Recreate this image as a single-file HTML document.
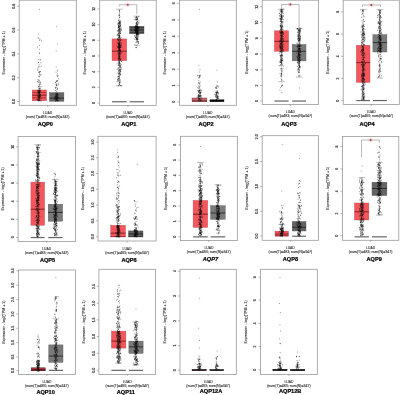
<!DOCTYPE html>
<html><head><meta charset="utf-8"><style>
html,body{margin:0;padding:0;background:#fff;width:400px;height:395px;overflow:hidden}
svg{display:block;will-change:transform;filter:blur(0.3px)}
text{font-family:"Liberation Sans",sans-serif;fill:#222}
.tl{font-size:3.5px;text-anchor:middle;fill:#444;stroke:#444;stroke-width:0.2px}
.yt{font-size:3.6px;text-anchor:middle;fill:#333;stroke:#333;stroke-width:0.1px}
.xl{font-size:3.4px;text-anchor:middle;fill:#333;stroke:#333;stroke-width:0.1px}
.xl2{font-size:3.55px;text-anchor:middle;fill:#333;stroke:#333;stroke-width:0.12px}
.nm{font-size:5.6px;font-weight:bold;text-anchor:middle;fill:#000;stroke:#000;stroke-width:0.22px}
</style></head><body>
<svg width="400" height="395" viewBox="0 0 400 395">
<rect width="400" height="395" fill="#fff"/>
<g><rect x="19.2" y="0.2" width="57.1" height="105.1" fill="none" stroke="#999" stroke-width="0.8"/><line x1="17" y1="6.3" x2="19.2" y2="6.3" stroke="#777" stroke-width="0.5"/><text transform="translate(14.9,6.3) rotate(-90)" class="tl">0.8</text><line x1="17" y1="30.1" x2="19.2" y2="30.1" stroke="#777" stroke-width="0.5"/><text transform="translate(14.9,30.1) rotate(-90)" class="tl">0.6</text><line x1="17" y1="53.9" x2="19.2" y2="53.9" stroke="#777" stroke-width="0.5"/><text transform="translate(14.9,53.9) rotate(-90)" class="tl">0.4</text><line x1="17" y1="77.7" x2="19.2" y2="77.7" stroke="#777" stroke-width="0.5"/><text transform="translate(14.9,77.7) rotate(-90)" class="tl">0.2</text><line x1="17" y1="101.5" x2="19.2" y2="101.5" stroke="#777" stroke-width="0.5"/><text transform="translate(14.9,101.5) rotate(-90)" class="tl">0.0</text><text transform="translate(5.4,52.75) rotate(-90)" class="yt">Expression - log<tspan font-size="2.6" dy="0.8">2</tspan><tspan dy="-0.8">(TPM + 1)</tspan></text><line x1="47.75" y1="105.3" x2="47.75" y2="106.9" stroke="#777" stroke-width="0.5"/><text x="47.75" y="113.8" class="xl">LUAD</text><text x="47.75" y="117.8" class="xl2">(num(T)=483; num(N)=347)</text><text x="45.3" y="125.7" class="nm">AQP0</text><rect x="32.2" y="90" width="14.3" height="10.8" fill="#f5565b" stroke="#b8505a" stroke-width="0.4"/><line x1="32.2" y1="95.2" x2="46.5" y2="95.2" stroke="#6a1414" stroke-width="0.8"/><line x1="32.2" y1="92.6" x2="46.5" y2="92.6" stroke="#6a1414" stroke-width="0.7" stroke-opacity="0.7"/><line x1="32.2" y1="97.8" x2="46.5" y2="97.8" stroke="#6a1414" stroke-width="0.7" stroke-opacity="0.7"/><rect x="49.5" y="92.6" width="14.4" height="8.7" fill="#666" stroke="#555" stroke-width="0.4"/><line x1="49.5" y1="98.2" x2="63.9" y2="98.2" stroke="#1e1e1e" stroke-width="0.8"/><g fill="none" stroke="#111" stroke-opacity="0.6" stroke-width="0.9" stroke-linecap="round"><path d="M38.3 90.8h0M38.2 98.0h0M41.1 101.0h0M38.4 76.3h0M39.1 96.8h0M39.6 100.0h0M39.0 98.5h0M39.7 85.7h0M39.4 89.2h0M38.7 82.3h0M38.5 101.0h0M40.9 62.9h0M37.1 94.1h0M39.9 94.9h0M37.1 99.7h0M39.2 97.8h0M39.9 91.0h0M37.9 90.8h0M38.8 91.3h0M39.1 100.5h0M38.8 86.7h0M40.2 96.7h0M39.8 94.4h0M39.4 93.5h0M38.8 91.0h0M39.6 71.8h0M38.0 67.9h0M38.9 99.9h0M38.1 87.0h0M38.6 99.7h0M38.9 38.5h0M39.2 84.5h0M37.6 96.3h0M39.0 95.6h0M39.4 100.5h0M38.3 93.1h0M38.7 92.1h0M38.2 93.2h0M39.9 98.8h0M40.0 84.1h0M39.4 100.1h0M40.1 90.8h0M39.9 92.8h0M39.5 90.7h0M38.6 95.1h0M41.1 86.6h0M39.5 93.0h0M39.3 92.1h0M39.0 98.3h0M37.8 69.2h0M37.9 92.3h0M39.7 66.7h0M39.9 98.1h0M41.1 74.5h0M39.7 76.8h0"/><path d="M40.4 94.3h0M41.4 40.9h0M39.3 91.9h0M40.0 94.8h0M38.9 97.1h0M37.4 95.0h0M40.0 99.8h0M40.4 94.9h0M40.1 89.1h0M39.5 53.4h0M40.0 39.4h0M38.5 96.9h0M38.6 93.9h0M39.5 97.7h0M37.6 46.9h0M38.9 98.1h0M39.6 94.1h0M39.4 92.1h0M39.4 76.1h0M38.3 34.1h0M40.0 90.8h0M38.5 93.1h0M37.1 100.0h0M38.2 96.4h0M40.3 96.4h0M39.3 92.3h0M38.4 97.0h0M39.4 86.8h0M39.4 88.5h0M40.5 59.7h0M41.2 66.5h0M39.5 96.9h0M38.4 88.8h0M38.6 62.5h0M39.6 95.1h0M39.7 49.3h0M40.5 97.1h0M40.0 90.4h0M38.5 72.7h0M39.7 96.3h0M39.4 88.4h0M39.8 94.6h0M41.4 98.3h0M38.0 90.5h0M40.6 71.4h0M40.0 95.3h0M39.1 64.7h0M39.4 100.0h0M39.3 97.0h0M38.0 79.6h0M38.6 66.7h0M37.9 70.1h0M37.9 98.4h0M37.6 81.4h0"/><path d="M40.0 91.1h0M38.2 91.0h0M37.5 90.9h0M38.8 91.1h0M38.1 37.8h0M40.0 84.4h0M38.5 80.3h0M40.5 91.7h0M37.8 100.1h0M39.7 93.0h0M39.4 73.1h0M39.5 91.5h0M40.1 87.1h0M39.9 96.3h0M39.0 93.3h0M40.7 88.7h0M39.0 96.6h0M39.3 95.3h0M39.2 71.4h0M39.1 81.7h0M39.5 80.3h0M40.1 96.2h0M39.0 89.8h0M38.5 86.3h0M37.8 82.0h0M39.4 91.3h0M39.6 52.9h0M40.2 83.2h0M39.3 92.8h0M37.5 99.6h0M39.3 97.8h0M38.8 95.6h0M39.8 90.7h0M39.7 40.6h0M39.6 100.7h0M40.3 82.0h0M38.8 95.5h0M40.5 75.2h0M38.2 59.6h0M38.6 99.7h0M40.7 100.8h0M39.7 74.5h0M40.1 82.6h0M39.6 94.8h0M38.2 93.0h0M39.6 72.4h0M38.4 62.3h0M38.9 91.7h0M39.0 92.5h0M40.3 71.8h0M38.6 100.8h0M39.5 45.4h0M39.9 59.7h0M39.4 9.4h0"/><path d="M56.9 100.6h0M57.6 100.6h0M57.0 85.5h0M55.6 90.5h0M56.2 96.8h0M54.4 98.8h0M56.4 91.4h0M57.4 80.5h0M57.1 94.0h0M55.7 87.7h0M55.8 101.0h0M57.6 89.7h0M58.0 94.9h0M56.5 95.1h0M57.0 81.3h0M56.1 84.9h0M55.1 96.2h0M57.2 70.0h0M56.6 99.4h0M57.4 95.4h0M57.0 94.3h0M57.3 76.9h0M55.7 96.2h0M56.7 97.8h0M57.2 44.0h0M56.7 94.3h0M56.9 89.7h0M56.2 96.6h0M56.8 96.7h0M56.9 99.4h0M57.5 88.5h0M55.8 95.1h0M58.1 101.0h0M56.2 95.3h0M56.2 81.1h0M56.2 67.1h0M55.6 99.1h0M56.4 98.7h0M57.5 93.6h0"/><path d="M57.7 97.8h0M55.1 99.5h0M57.1 96.8h0M57.5 97.2h0M56.6 87.1h0M57.5 98.6h0M54.4 97.4h0M57.2 99.5h0M55.7 88.2h0M55.6 82.5h0M56.2 51.0h0M57.0 100.4h0M56.5 95.9h0M59.0 99.0h0M56.1 94.3h0M57.7 98.0h0M56.9 98.9h0M54.4 97.8h0M56.2 95.7h0M58.4 84.8h0M55.4 93.6h0M56.2 96.5h0M56.9 94.6h0M58.1 75.7h0M58.7 83.2h0M57.6 88.1h0M56.9 98.6h0M57.4 76.2h0M57.3 96.0h0M56.8 84.5h0M55.7 98.0h0M56.2 84.8h0M56.6 85.5h0M58.0 93.9h0M57.0 75.3h0M58.8 97.9h0M57.8 94.6h0M55.7 98.3h0M56.6 97.5h0"/><path d="M56.8 83.9h0M58.1 97.5h0M56.7 100.8h0M57.4 80.9h0M56.4 81.6h0M58.0 100.8h0M56.4 100.4h0M55.8 100.2h0M58.0 95.1h0M55.9 99.2h0M57.2 93.1h0M56.8 93.3h0M55.6 97.1h0M57.7 74.0h0M56.4 81.1h0M56.2 96.1h0M56.0 97.2h0M56.8 97.0h0M57.8 100.5h0M57.0 98.6h0M57.6 96.6h0M56.0 72.1h0M55.3 97.7h0M56.3 94.9h0M56.2 98.9h0M57.1 100.2h0M57.8 71.1h0M58.6 78.9h0M56.7 26.8h0M57.5 98.8h0M57.8 100.0h0M57.5 96.4h0M55.9 93.1h0M56.0 98.2h0M55.9 96.7h0M58.6 97.1h0M55.6 82.8h0M55.6 101.0h0M55.3 87.3h0"/></g></g><g><rect x="99.7" y="0.2" width="56.5" height="105.2" fill="none" stroke="#999" stroke-width="0.8"/><line x1="97.5" y1="8.9" x2="99.7" y2="8.9" stroke="#777" stroke-width="0.5"/><text transform="translate(95.4,8.9) rotate(-90)" class="tl">12</text><line x1="97.5" y1="24.6" x2="99.7" y2="24.6" stroke="#777" stroke-width="0.5"/><text transform="translate(95.4,24.6) rotate(-90)" class="tl">10</text><line x1="97.5" y1="40.3" x2="99.7" y2="40.3" stroke="#777" stroke-width="0.5"/><text transform="translate(95.4,40.3) rotate(-90)" class="tl">8</text><line x1="97.5" y1="56" x2="99.7" y2="56" stroke="#777" stroke-width="0.5"/><text transform="translate(95.4,56) rotate(-90)" class="tl">6</text><line x1="97.5" y1="71.7" x2="99.7" y2="71.7" stroke="#777" stroke-width="0.5"/><text transform="translate(95.4,71.7) rotate(-90)" class="tl">4</text><line x1="97.5" y1="87.4" x2="99.7" y2="87.4" stroke="#777" stroke-width="0.5"/><text transform="translate(95.4,87.4) rotate(-90)" class="tl">2</text><line x1="97.5" y1="103.1" x2="99.7" y2="103.1" stroke="#777" stroke-width="0.5"/><text transform="translate(95.4,103.1) rotate(-90)" class="tl">0</text><text transform="translate(85.9,52.8) rotate(-90)" class="yt">Expression - log<tspan font-size="2.6" dy="0.8">2</tspan><tspan dy="-0.8">(TPM + 1)</tspan></text><line x1="127.95" y1="105.4" x2="127.95" y2="107" stroke="#777" stroke-width="0.5"/><text x="127.95" y="113.9" class="xl">LUAD</text><text x="127.95" y="117.9" class="xl2">(num(T)=483; num(N)=347)</text><text x="128.85" y="125.7" class="nm">AQP1</text><line x1="119.35" y1="9.2" x2="119.35" y2="38.9" stroke="#888" stroke-width="0.35"/><line x1="116.05" y1="9.2" x2="122.65" y2="9.2" stroke="#666" stroke-width="0.45"/><line x1="119.35" y1="60.7" x2="119.35" y2="85.7" stroke="#888" stroke-width="0.35"/><line x1="116.05" y1="85.7" x2="122.65" y2="85.7" stroke="#666" stroke-width="0.45"/><rect x="112" y="101.15" width="14.7" height="1.2" fill="#666"/><rect x="112" y="38.9" width="14.7" height="21.8" fill="#f5565b" stroke="#b8505a" stroke-width="0.4"/><line x1="112" y1="51.2" x2="126.7" y2="51.2" stroke="#6a1414" stroke-width="0.8"/><line x1="136.8" y1="16.2" x2="136.8" y2="26.2" stroke="#888" stroke-width="0.35"/><line x1="133.5" y1="16.2" x2="140.1" y2="16.2" stroke="#666" stroke-width="0.45"/><rect x="129.6" y="101.15" width="14.4" height="1.2" fill="#666"/><rect x="129.6" y="26.2" width="14.4" height="7.6" fill="#606060" stroke="#555" stroke-width="0.4"/><line x1="129.6" y1="30" x2="144" y2="30" stroke="#1e1e1e" stroke-width="0.8"/><line x1="129.6" y1="27.6" x2="144" y2="27.6" stroke="#1e1e1e" stroke-width="0.7" stroke-opacity="0.7"/><line x1="129.6" y1="32.4" x2="144" y2="32.4" stroke="#1e1e1e" stroke-width="0.7" stroke-opacity="0.7"/><g fill="none" stroke="#111" stroke-opacity="0.6" stroke-width="0.9" stroke-linecap="round"><path d="M118.7 25.9h0M119.8 37.2h0M118.7 44.6h0M118.6 43.7h0M119.0 21.4h0M118.7 51.0h0M118.4 43.3h0M120.0 47.0h0M117.7 31.6h0M120.6 47.4h0M120.1 72.1h0M119.3 46.2h0M120.1 33.5h0M119.6 43.2h0M118.5 31.2h0M119.1 53.7h0M118.1 33.9h0M118.6 47.7h0M118.8 43.0h0M119.5 41.2h0M120.0 73.1h0M119.5 49.8h0M119.1 50.1h0M119.2 83.3h0M119.4 15.5h0M120.0 73.1h0M119.1 55.0h0M119.6 23.0h0M120.3 85.3h0M119.4 10.9h0M119.9 44.2h0M119.5 54.3h0M119.4 55.6h0M120.3 38.2h0M119.0 32.4h0M121.3 30.7h0M118.8 44.2h0M118.6 23.5h0M119.6 51.8h0M119.5 75.4h0M119.5 17.5h0M120.3 45.1h0M121.1 46.9h0M119.2 37.2h0M117.8 24.6h0M119.4 29.2h0M120.0 35.3h0M118.2 50.5h0M119.8 29.7h0M120.3 33.6h0M118.8 31.9h0M118.3 85.5h0M118.8 58.5h0M118.9 33.6h0M121.2 29.8h0M119.2 50.6h0M117.0 64.0h0M118.8 78.9h0M119.1 44.3h0M118.7 70.3h0M119.2 10.2h0M118.5 27.6h0M118.6 65.0h0M119.3 33.6h0M118.1 78.7h0M117.2 69.3h0M119.8 50.0h0M121.2 85.6h0M121.2 58.1h0M120.2 20.3h0M119.5 36.1h0M120.3 51.5h0M120.2 65.4h0M119.0 25.1h0M120.7 32.2h0M119.5 48.8h0M119.5 64.6h0M119.1 47.6h0M119.7 77.4h0M119.9 47.0h0M119.4 49.2h0M120.1 29.8h0M119.1 26.5h0M121.1 45.5h0M118.6 73.9h0M119.4 21.7h0M119.2 35.9h0M118.8 25.8h0M118.3 71.5h0M119.3 70.1h0M119.3 52.9h0M118.9 46.5h0M119.6 38.0h0M119.9 45.8h0M119.9 61.3h0M119.5 54.6h0M117.7 39.7h0M117.0 45.6h0M117.6 35.0h0M119.7 65.6h0M120.4 21.7h0M118.6 60.9h0M119.9 12.1h0M120.5 69.3h0M119.4 66.9h0M119.8 22.4h0M120.7 26.1h0M120.9 82.0h0M118.7 27.8h0M117.9 23.4h0M119.9 53.8h0M120.0 58.4h0M119.9 48.8h0M119.2 26.3h0M118.7 58.6h0M118.9 50.8h0M120.3 74.6h0M119.6 58.4h0M120.1 46.6h0M119.7 22.8h0M118.8 39.9h0M121.6 39.9h0M120.5 22.7h0M120.6 46.9h0M119.5 73.1h0M120.5 69.1h0M119.4 22.9h0M118.9 72.3h0M117.0 35.0h0M119.5 44.5h0M120.3 56.0h0M120.2 60.3h0M119.6 56.6h0M118.5 58.5h0M118.0 54.4h0M117.9 73.1h0M118.9 23.8h0M118.9 76.6h0M118.3 20.2h0M118.7 44.9h0"/><path d="M118.4 59.4h0M119.2 43.5h0M120.0 53.6h0M120.4 24.5h0M120.1 49.5h0M120.1 23.3h0M118.7 52.8h0M120.6 85.7h0M120.3 28.1h0M120.4 59.6h0M120.9 21.8h0M119.4 28.9h0M119.2 32.5h0M119.6 14.0h0M118.7 40.3h0M119.6 47.9h0M119.7 45.3h0M119.9 22.4h0M119.2 62.2h0M118.5 77.0h0M120.3 67.3h0M119.4 21.6h0M120.1 47.7h0M118.4 43.9h0M117.7 47.4h0M119.9 49.9h0M118.3 56.0h0M119.4 56.4h0M120.3 40.6h0M120.2 70.9h0M119.6 35.7h0M119.0 70.2h0M117.6 52.0h0M119.3 84.3h0M119.5 47.4h0M119.0 44.8h0M119.4 52.9h0M118.8 26.7h0M119.5 48.3h0M117.4 30.4h0M120.3 70.2h0M118.7 37.4h0M118.9 43.5h0M120.8 74.3h0M120.0 59.9h0M119.0 42.7h0M118.7 37.0h0M119.5 58.1h0M120.7 71.1h0M119.0 65.4h0M120.5 30.0h0M119.9 63.6h0M120.0 71.8h0M118.5 61.0h0M118.1 65.4h0M118.4 78.4h0M120.6 65.6h0M120.3 40.0h0M120.4 59.5h0M118.9 39.5h0M121.6 61.3h0M120.1 45.6h0M120.1 56.9h0M120.7 66.9h0M119.1 41.3h0M118.9 50.0h0M118.7 46.6h0M118.7 23.8h0M118.7 48.1h0M119.9 54.2h0M121.2 46.1h0M119.1 46.1h0M119.5 84.5h0M119.8 37.1h0M119.7 81.0h0M119.4 70.0h0M121.2 27.7h0M118.1 40.2h0M120.8 42.6h0M119.0 55.8h0M119.7 35.2h0M119.6 15.4h0M119.9 47.6h0M120.6 23.7h0M119.3 35.6h0M118.4 64.1h0M120.4 31.3h0M117.4 47.0h0M118.5 53.6h0M120.0 74.2h0M119.5 23.4h0M118.2 80.9h0M119.4 52.4h0M118.5 33.8h0M118.7 53.1h0M119.4 38.8h0M119.6 62.6h0M119.3 76.6h0M119.3 36.2h0M121.1 53.7h0M121.1 29.2h0M119.7 22.3h0M119.2 63.6h0M120.3 41.0h0M119.0 45.6h0M120.0 28.9h0M117.4 39.4h0M118.9 27.3h0M119.0 27.5h0M118.0 79.6h0M118.7 46.6h0M119.5 65.8h0M119.8 62.9h0M120.3 54.7h0M119.0 23.0h0M119.9 58.6h0M120.3 51.0h0M119.5 35.1h0M119.6 60.0h0M120.6 47.6h0M120.1 40.3h0M119.3 55.8h0M118.3 33.9h0M119.1 57.1h0M117.0 42.2h0M119.5 50.2h0M117.2 81.6h0M120.5 75.0h0M120.0 16.9h0M119.0 28.8h0M119.0 78.9h0M120.6 33.2h0M119.4 44.8h0M119.4 57.3h0M119.2 26.4h0M117.8 38.2h0M118.6 35.5h0M118.4 47.5h0M119.5 43.0h0M119.1 52.1h0"/><path d="M119.7 23.0h0M119.4 50.6h0M119.6 48.3h0M119.5 49.9h0M119.6 73.7h0M121.5 43.1h0M120.7 66.3h0M121.0 37.3h0M120.5 26.3h0M117.9 38.7h0M119.6 62.7h0M119.0 48.0h0M118.6 63.4h0M118.6 56.7h0M117.9 34.3h0M119.8 31.3h0M121.2 44.2h0M119.2 43.5h0M118.4 29.7h0M121.3 64.7h0M118.6 15.0h0M120.1 50.1h0M118.7 85.9h0M119.4 82.7h0M118.9 25.0h0M118.7 48.6h0M120.4 59.5h0M119.4 36.9h0M120.4 71.5h0M119.9 71.0h0M118.3 27.8h0M120.1 51.1h0M119.2 26.8h0M121.0 28.8h0M119.8 59.0h0M118.1 81.0h0M118.7 57.4h0M120.2 33.6h0M118.0 47.0h0M117.6 76.8h0M119.6 42.3h0M121.1 67.9h0M120.4 64.0h0M117.7 80.2h0M119.6 57.5h0M119.9 82.1h0M120.0 39.7h0M118.7 49.8h0M118.5 38.2h0M120.1 80.0h0M119.3 82.7h0M119.4 47.7h0M120.4 53.2h0M118.8 39.8h0M119.0 68.2h0M120.2 80.1h0M119.5 56.3h0M118.4 68.1h0M120.5 50.6h0M119.6 53.6h0M119.7 45.8h0M119.6 73.8h0M119.3 49.0h0M119.5 43.7h0M119.2 29.9h0M120.4 44.7h0M119.3 31.4h0M121.6 52.4h0M118.5 20.2h0M118.7 73.3h0M118.4 30.0h0M120.5 50.7h0M119.2 26.1h0M119.3 78.6h0M119.4 51.1h0M118.4 76.6h0M119.5 46.2h0M120.2 52.9h0M119.0 27.2h0M119.0 45.3h0M119.0 54.2h0M119.2 30.7h0M120.2 42.8h0M118.6 75.1h0M118.1 35.6h0M119.0 69.9h0M120.1 26.3h0M119.3 43.9h0M118.1 43.1h0M120.0 82.7h0M118.9 27.5h0M118.3 39.9h0M118.1 62.4h0M119.4 45.6h0M120.7 25.2h0M119.6 61.7h0M117.7 68.7h0M119.9 45.0h0M120.0 69.7h0M118.6 27.1h0M118.2 58.9h0M119.3 42.8h0M120.6 38.8h0M118.2 40.2h0M119.3 24.5h0M119.6 28.5h0M120.6 25.5h0M119.3 37.2h0M117.7 43.5h0M118.2 58.2h0M118.3 30.3h0M118.5 25.8h0M119.1 45.2h0M119.3 30.2h0M119.6 46.6h0M119.5 60.9h0M118.5 35.2h0M118.8 41.0h0M118.5 46.9h0M120.1 59.9h0M118.8 80.3h0M120.3 66.8h0M119.9 45.2h0M119.1 67.0h0M119.0 59.4h0M119.3 32.8h0M118.0 50.4h0M119.8 63.7h0M120.1 52.1h0M117.8 79.4h0M118.4 25.8h0M118.9 62.1h0M118.4 22.7h0M121.4 61.6h0M119.4 49.3h0M121.3 69.0h0M119.6 30.4h0M118.6 55.0h0M120.1 32.1h0M119.5 11.0h0"/><path d="M137.3 31.8h0M139.0 26.6h0M136.9 34.5h0M136.9 38.9h0M137.5 32.1h0M137.2 39.5h0M137.6 34.4h0M135.6 37.3h0M135.9 37.8h0M136.5 30.4h0M136.5 26.6h0M137.0 36.6h0M136.3 34.0h0M135.9 28.9h0M136.1 36.4h0M137.6 21.7h0M137.7 30.9h0M137.3 21.5h0M136.9 33.4h0M137.3 40.9h0M135.8 27.2h0M136.9 26.3h0M137.0 29.3h0M138.5 41.5h0M135.8 31.5h0M136.3 42.1h0M136.5 27.1h0M135.3 27.8h0M137.9 27.1h0M136.2 17.6h0M137.0 26.7h0M137.3 41.7h0M137.2 20.0h0M137.0 39.1h0M137.8 30.9h0M138.1 28.6h0M137.3 24.2h0M136.5 33.7h0M136.3 23.6h0M137.1 19.4h0M137.7 34.0h0M137.1 27.5h0M136.6 22.9h0M137.4 26.2h0M138.0 29.3h0M137.2 24.4h0M136.9 33.5h0M136.1 37.5h0M137.3 33.0h0M137.9 30.2h0M136.6 33.2h0M136.6 16.8h0M137.2 33.7h0M134.7 36.1h0M137.0 27.6h0M138.1 30.9h0M134.8 33.3h0M137.8 27.8h0M138.1 34.9h0M136.0 27.7h0M136.9 26.7h0M137.6 28.8h0M136.7 22.8h0M135.8 26.4h0M137.4 33.4h0M135.6 33.1h0M136.9 33.7h0M136.6 29.2h0M136.3 26.2h0M136.7 34.8h0M136.6 36.1h0M134.9 35.3h0M136.0 47.7h0M137.1 33.8h0M137.7 30.5h0M138.0 31.4h0M136.6 47.6h0M136.4 33.4h0M137.3 38.0h0M136.2 29.5h0M136.6 26.3h0M137.8 33.8h0M139.1 34.5h0M137.8 34.5h0M137.9 31.1h0M137.6 27.3h0M137.2 31.9h0M137.8 26.6h0M136.8 31.9h0M137.7 28.3h0M136.4 19.7h0M134.8 45.0h0M136.6 17.0h0M138.5 33.2h0M137.7 36.0h0M137.2 32.0h0M137.3 21.3h0M135.8 23.2h0M138.1 35.0h0M135.9 19.4h0"/><path d="M134.7 27.2h0M137.2 28.8h0M136.7 27.5h0M137.3 30.3h0M134.5 26.9h0M138.0 38.0h0M136.3 31.6h0M137.4 19.3h0M138.3 22.3h0M136.5 29.9h0M136.6 28.4h0M136.9 28.7h0M136.2 27.5h0M137.4 34.9h0M138.3 33.1h0M136.1 27.3h0M138.4 43.1h0M137.3 29.1h0M138.1 28.6h0M136.1 39.7h0M135.4 45.2h0M136.4 33.6h0M136.9 38.3h0M137.2 44.5h0M136.8 39.2h0M136.4 24.7h0M136.0 27.3h0M136.0 47.5h0M136.7 23.3h0M135.9 17.7h0M139.1 28.9h0M137.1 33.7h0M136.5 45.5h0M134.8 19.6h0M135.7 29.9h0M137.7 33.2h0M137.6 38.5h0M137.3 25.5h0M135.6 31.3h0M138.4 34.8h0M136.1 33.1h0M138.0 23.3h0M136.3 33.6h0M137.5 27.6h0M137.1 33.4h0M139.1 20.9h0M134.5 29.9h0M136.5 22.9h0M136.7 27.2h0M136.3 31.0h0M137.8 32.5h0M135.7 25.5h0M135.7 26.6h0M136.8 32.4h0M136.2 39.5h0M138.0 24.1h0M135.6 29.0h0M137.6 32.4h0M137.1 29.5h0M136.4 32.4h0M137.6 41.0h0M136.1 28.3h0M136.5 29.8h0M138.5 31.3h0M137.6 31.4h0M135.9 30.7h0M137.4 37.2h0M136.2 29.4h0M137.8 28.5h0M137.6 28.9h0M136.1 16.9h0M137.1 32.6h0M136.8 28.5h0M135.5 31.5h0M136.6 33.5h0M137.3 18.5h0M137.3 33.9h0M136.6 19.6h0M138.3 27.5h0M137.8 30.4h0M135.8 27.0h0M136.5 30.2h0M137.8 33.7h0M138.2 30.0h0M136.6 31.1h0M138.4 33.8h0M137.0 26.5h0M134.7 39.3h0M139.1 45.7h0M135.9 25.0h0M136.3 38.2h0M137.6 45.8h0M136.9 17.6h0M137.6 27.3h0M137.0 33.4h0M137.1 34.6h0M137.1 22.8h0M134.5 30.6h0M137.4 26.1h0M137.1 38.7h0"/><path d="M138.4 42.2h0M135.4 27.5h0M135.4 27.0h0M137.1 24.6h0M138.2 27.9h0M137.9 42.5h0M137.3 32.2h0M137.0 29.4h0M135.1 29.3h0M134.5 29.4h0M135.6 28.8h0M136.9 35.8h0M137.1 39.1h0M136.5 33.9h0M137.9 17.8h0M137.1 31.4h0M136.3 32.0h0M136.2 29.9h0M136.7 32.8h0M136.5 30.5h0M137.0 38.3h0M137.2 29.9h0M137.2 27.3h0M137.8 32.8h0M137.7 29.2h0M135.4 20.0h0M137.7 28.4h0M138.2 43.3h0M136.6 28.8h0M136.0 18.9h0M136.9 19.6h0M135.9 31.3h0M136.7 32.9h0M135.7 31.4h0M138.1 30.9h0M137.8 28.0h0M136.7 36.0h0M136.3 25.4h0M137.2 33.4h0M136.7 27.2h0M136.2 28.6h0M135.9 42.5h0M138.1 27.1h0M135.7 30.8h0M137.5 30.9h0M135.9 35.2h0M136.7 27.8h0M139.1 27.7h0M138.1 33.8h0M136.7 34.4h0M137.5 39.7h0M136.5 24.3h0M138.0 27.9h0M136.5 40.1h0M137.7 28.9h0M137.4 28.1h0M138.3 16.6h0M137.8 19.4h0M135.7 37.2h0M136.1 28.5h0M137.3 33.3h0M138.7 39.7h0M136.6 33.9h0M135.2 32.5h0M137.3 18.3h0M136.8 28.4h0M136.6 34.8h0M136.0 26.5h0M136.4 30.2h0M136.9 29.7h0M135.4 37.5h0M137.0 30.9h0M135.7 31.6h0M136.3 27.7h0M136.7 26.7h0M136.9 29.8h0M136.8 26.9h0M136.8 26.4h0M137.0 41.8h0M136.4 27.1h0M135.5 28.6h0M136.6 33.0h0M136.6 34.2h0M137.4 32.8h0M136.7 33.4h0M139.1 22.9h0M137.4 31.1h0M136.5 38.6h0M137.5 39.3h0M137.3 29.9h0M136.4 37.6h0M138.0 36.4h0M136.2 31.9h0M137.3 30.3h0M137.5 27.7h0M135.7 32.1h0M138.9 36.9h0M135.5 30.3h0M136.0 31.1h0M135.9 18.1h0"/></g><path d="M119.2,6.5V4.7H136.8V14.4" fill="none" stroke="#777" stroke-width="0.5"/><path d="M127.8,2.3v4.8M125.7,3.5l4.2,2.4M125.7,5.9l4.2,-2.4" stroke="#f06070" stroke-width="0.45" stroke-opacity="0.7"/><circle cx="127.8" cy="4.7" r="0.9" fill="#a04858"/></g><g><rect x="179.4" y="0.2" width="56.9" height="105.1" fill="none" stroke="#999" stroke-width="0.8"/><line x1="177.2" y1="3.4" x2="179.4" y2="3.4" stroke="#777" stroke-width="0.5"/><text transform="translate(175.1,3.4) rotate(-90)" class="tl">6</text><line x1="177.2" y1="19.9" x2="179.4" y2="19.9" stroke="#777" stroke-width="0.5"/><text transform="translate(175.1,19.9) rotate(-90)" class="tl">5</text><line x1="177.2" y1="36.3" x2="179.4" y2="36.3" stroke="#777" stroke-width="0.5"/><text transform="translate(175.1,36.3) rotate(-90)" class="tl">4</text><line x1="177.2" y1="52.8" x2="179.4" y2="52.8" stroke="#777" stroke-width="0.5"/><text transform="translate(175.1,52.8) rotate(-90)" class="tl">3</text><line x1="177.2" y1="69.2" x2="179.4" y2="69.2" stroke="#777" stroke-width="0.5"/><text transform="translate(175.1,69.2) rotate(-90)" class="tl">2</text><line x1="177.2" y1="85.6" x2="179.4" y2="85.6" stroke="#777" stroke-width="0.5"/><text transform="translate(175.1,85.6) rotate(-90)" class="tl">1</text><line x1="177.2" y1="101.9" x2="179.4" y2="101.9" stroke="#777" stroke-width="0.5"/><text transform="translate(175.1,101.9) rotate(-90)" class="tl">0</text><text transform="translate(165.6,52.75) rotate(-90)" class="yt">Expression - log<tspan font-size="2.6" dy="0.8">2</tspan><tspan dy="-0.8">(TPM + 1)</tspan></text><line x1="207.85" y1="105.3" x2="207.85" y2="106.9" stroke="#777" stroke-width="0.5"/><text x="207.85" y="113.8" class="xl">LUAD</text><text x="207.85" y="117.8" class="xl2">(num(T)=483; num(N)=347)</text><text x="206" y="125.7" class="nm">AQP2</text><rect x="192" y="98" width="14.9" height="3.6" fill="#c9646c" stroke="#7a3038" stroke-width="0.4"/><line x1="192" y1="101" x2="206.9" y2="101" stroke="#3a1010" stroke-width="0.8"/><rect x="209.9" y="99.8" width="14.1" height="1.9" fill="#151515" stroke="#111" stroke-width="0.4"/><line x1="209.9" y1="101" x2="224" y2="101" stroke="#000" stroke-width="0.8"/><g fill="none" stroke="#111" stroke-opacity="0.6" stroke-width="0.9" stroke-linecap="round"><path d="M201.5 99.7h0M199.4 9.4h0M199.7 96.1h0M199.5 90.8h0M199.0 92.2h0M198.7 96.8h0M199.5 90.8h0M197.9 90.6h0M199.6 90.4h0M199.6 90.9h0M201.2 98.3h0M200.8 90.1h0M199.7 90.7h0M198.9 80.6h0M200.2 93.6h0M197.8 97.0h0M197.8 87.7h0M200.1 85.6h0M199.0 83.1h0M199.0 77.5h0M198.2 96.2h0M198.4 86.2h0M198.6 100.5h0M200.6 92.8h0M199.1 99.8h0M201.2 92.0h0M199.7 75.4h0M200.3 91.2h0M199.4 98.4h0M199.6 90.4h0M198.9 92.1h0M199.0 96.5h0M199.4 86.4h0M199.8 83.5h0M200.1 89.1h0M200.5 96.9h0"/><path d="M200.6 95.2h0M200.4 95.4h0M199.2 87.4h0M199.7 75.7h0M200.1 95.2h0M200.1 75.6h0M197.5 75.6h0M197.9 95.8h0M200.8 92.4h0M199.4 72.0h0M198.9 65.7h0M198.7 95.6h0M200.4 96.2h0M198.5 90.6h0M200.2 92.9h0M201.8 90.5h0M200.4 100.7h0M200.0 69.7h0M200.2 75.1h0M199.5 96.5h0M200.5 96.1h0M198.8 95.7h0M201.8 100.9h0M198.3 95.5h0M198.4 92.0h0M199.2 95.1h0M199.2 99.9h0M198.9 94.9h0M199.3 92.1h0M198.2 75.6h0M200.4 100.1h0M200.2 92.9h0M201.8 96.0h0M200.0 76.7h0M199.7 84.2h0M199.7 90.2h0"/><path d="M199.9 97.9h0M199.3 76.7h0M199.5 95.8h0M201.2 95.7h0M200.8 93.0h0M198.7 99.3h0M200.0 90.3h0M198.6 94.5h0M199.1 78.0h0M201.5 97.4h0M199.1 83.0h0M199.1 92.6h0M198.3 97.6h0M198.7 82.6h0M199.3 99.2h0M198.4 96.9h0M199.5 96.2h0M199.2 99.0h0M200.2 82.0h0M199.9 94.1h0M198.4 91.6h0M200.3 100.5h0M198.7 88.3h0M200.2 99.6h0M197.1 97.4h0M198.6 98.2h0M200.1 93.2h0M199.2 88.2h0M200.0 98.0h0M198.0 90.5h0M198.9 98.8h0M199.3 93.5h0M199.6 77.2h0M200.2 92.5h0M199.1 98.4h0M198.8 96.0h0"/><path d="M215.8 99.8h0M216.6 99.7h0M216.1 92.4h0M216.0 100.3h0M216.8 85.9h0M216.7 99.4h0M218.1 93.2h0M216.2 97.2h0M215.5 88.2h0M217.4 82.0h0M217.7 92.5h0M217.3 97.8h0M217.2 93.5h0M218.2 96.6h0M217.7 92.1h0M215.4 87.4h0M217.3 90.8h0M216.9 97.4h0M218.2 92.7h0M218.4 93.9h0M218.6 98.1h0M214.7 94.6h0M216.0 93.9h0M216.0 92.4h0"/><path d="M217.0 96.3h0M215.7 94.7h0M217.8 98.6h0M215.7 95.8h0M218.1 87.2h0M216.9 94.6h0M216.9 95.6h0M217.8 91.7h0M217.0 91.1h0M217.2 95.2h0M216.5 93.3h0M216.0 96.0h0M216.5 94.9h0M217.3 98.0h0M217.4 96.6h0M217.6 96.1h0M215.3 96.1h0M216.6 93.3h0M216.2 92.1h0M216.9 86.2h0M216.3 99.0h0M218.3 96.2h0M216.7 92.7h0M216.4 88.5h0"/><path d="M217.3 100.3h0M217.1 97.5h0M216.0 92.6h0M217.1 92.3h0M216.3 87.6h0M217.3 100.7h0M216.5 92.6h0M216.9 70.2h0M217.2 98.1h0M215.7 96.9h0M217.1 97.9h0M217.7 96.5h0M216.3 93.2h0M217.0 92.2h0M216.3 94.7h0M216.5 87.9h0M216.8 96.3h0M217.1 99.0h0M218.3 98.5h0M216.9 95.6h0M217.9 97.4h0M218.2 86.2h0M218.2 100.3h0M217.4 85.8h0"/></g></g><g><rect x="262.2" y="0.2" width="56.3" height="104.2" fill="none" stroke="#999" stroke-width="0.8"/><line x1="260" y1="6.7" x2="262.2" y2="6.7" stroke="#777" stroke-width="0.5"/><text transform="translate(257.9,6.7) rotate(-90)" class="tl">12</text><line x1="260" y1="22.5" x2="262.2" y2="22.5" stroke="#777" stroke-width="0.5"/><text transform="translate(257.9,22.5) rotate(-90)" class="tl">10</text><line x1="260" y1="38.3" x2="262.2" y2="38.3" stroke="#777" stroke-width="0.5"/><text transform="translate(257.9,38.3) rotate(-90)" class="tl">8</text><line x1="260" y1="54" x2="262.2" y2="54" stroke="#777" stroke-width="0.5"/><text transform="translate(257.9,54) rotate(-90)" class="tl">6</text><line x1="260" y1="69.8" x2="262.2" y2="69.8" stroke="#777" stroke-width="0.5"/><text transform="translate(257.9,69.8) rotate(-90)" class="tl">4</text><line x1="260" y1="85.5" x2="262.2" y2="85.5" stroke="#777" stroke-width="0.5"/><text transform="translate(257.9,85.5) rotate(-90)" class="tl">2</text><line x1="260" y1="101" x2="262.2" y2="101" stroke="#777" stroke-width="0.5"/><text transform="translate(257.9,101) rotate(-90)" class="tl">0</text><text transform="translate(248.4,52.3) rotate(-90)" class="yt">Expression - log<tspan font-size="2.6" dy="0.8">2</tspan><tspan dy="-0.8">(TPM + 1)</tspan></text><line x1="290.35" y1="104.4" x2="290.35" y2="106" stroke="#777" stroke-width="0.5"/><text x="290.35" y="112.9" class="xl">LUAD</text><text x="290.35" y="116.9" class="xl2">(num(T)=483; num(N)=347)</text><text x="288.9" y="125.7" class="nm">AQP3</text><line x1="281.5" y1="9.3" x2="281.5" y2="30.8" stroke="#888" stroke-width="0.35"/><line x1="278.2" y1="9.3" x2="284.8" y2="9.3" stroke="#666" stroke-width="0.45"/><line x1="281.5" y1="51.3" x2="281.5" y2="81.8" stroke="#888" stroke-width="0.35"/><line x1="278.2" y1="81.8" x2="284.8" y2="81.8" stroke="#666" stroke-width="0.45"/><rect x="274.4" y="100.45" width="14.2" height="1.2" fill="#666"/><rect x="274.4" y="30.8" width="14.2" height="20.5" fill="#f5565b" stroke="#b8505a" stroke-width="0.4"/><line x1="274.4" y1="41.3" x2="288.6" y2="41.3" stroke="#6a1414" stroke-width="0.8"/><line x1="299.1" y1="28.5" x2="299.1" y2="44.5" stroke="#888" stroke-width="0.35"/><line x1="295.8" y1="28.5" x2="302.4" y2="28.5" stroke="#666" stroke-width="0.45"/><line x1="299.1" y1="60.9" x2="299.1" y2="77.1" stroke="#888" stroke-width="0.35"/><line x1="295.8" y1="77.1" x2="302.4" y2="77.1" stroke="#666" stroke-width="0.45"/><rect x="292.2" y="100.45" width="13.8" height="1.2" fill="#666"/><rect x="292.2" y="44.5" width="13.8" height="16.4" fill="#7a7a7a" stroke="#555" stroke-width="0.4"/><line x1="292.2" y1="51.3" x2="306" y2="51.3" stroke="#1e1e1e" stroke-width="0.8"/><g fill="none" stroke="#111" stroke-opacity="0.6" stroke-width="0.9" stroke-linecap="round"><path d="M279.9 25.5h0M280.3 43.9h0M280.7 9.8h0M282.7 12.5h0M282.4 18.1h0M281.1 27.5h0M282.9 11.3h0M282.9 40.4h0M281.3 58.5h0M281.5 12.2h0M280.6 56.5h0M281.1 16.6h0M281.6 9.3h0M282.2 63.9h0M282.0 10.1h0M282.6 21.8h0M281.1 9.0h0M280.5 64.5h0M281.8 14.8h0M282.0 17.3h0M281.8 92.5h0M281.9 9.6h0M281.0 19.8h0M280.5 51.2h0M281.2 73.2h0M282.9 29.6h0M283.0 26.7h0M281.3 59.7h0M283.4 36.5h0M280.8 44.3h0M282.8 68.7h0M282.7 10.0h0M279.3 12.9h0M282.3 31.4h0M280.5 26.3h0M281.6 64.2h0M280.5 47.2h0M281.5 16.5h0M279.8 30.8h0M281.8 10.1h0M279.5 41.6h0M281.8 39.9h0M282.4 42.2h0M281.3 86.4h0M283.2 38.6h0M281.2 41.7h0M281.5 54.0h0M281.3 33.9h0M283.0 27.9h0M283.8 51.0h0M281.9 37.1h0M281.2 51.3h0M281.9 30.4h0M280.8 24.9h0M279.8 40.4h0M282.4 25.6h0M280.2 45.0h0M281.4 42.0h0M280.6 47.6h0M282.5 48.1h0M281.7 16.9h0M282.0 22.6h0M282.5 50.4h0M281.4 46.2h0M280.4 41.4h0M281.2 70.3h0M282.2 65.3h0M281.7 32.9h0M283.7 41.2h0M281.6 11.8h0M282.7 46.8h0M281.1 50.4h0M281.9 11.3h0M281.8 73.1h0M280.7 26.1h0M280.6 33.0h0M280.8 35.2h0M281.6 71.7h0M283.2 9.1h0M281.9 12.0h0M282.7 60.4h0M280.9 65.4h0M281.5 63.3h0M282.1 59.3h0M281.3 21.4h0M281.8 36.5h0M281.3 62.8h0M281.4 40.7h0M280.9 62.3h0M282.2 37.0h0M281.6 46.3h0M281.6 44.1h0M281.5 79.7h0M281.1 45.3h0M281.0 42.9h0M282.5 32.2h0M281.4 51.8h0M282.9 33.0h0M280.9 14.4h0M281.1 55.3h0M280.7 18.9h0M280.3 29.5h0M280.1 19.2h0M280.4 55.2h0M280.9 28.8h0M281.2 44.0h0M282.6 58.7h0M282.6 54.9h0M281.5 60.5h0M279.3 61.9h0M281.3 28.7h0M282.7 60.5h0M281.3 35.4h0M281.1 10.8h0M281.4 32.4h0M280.5 23.7h0M280.5 18.6h0M281.3 29.6h0M282.4 58.1h0M282.7 25.1h0M281.2 32.5h0M282.0 39.3h0M282.8 60.2h0M281.1 12.2h0M280.8 11.7h0M281.9 35.9h0M281.1 38.3h0M282.3 11.1h0M280.9 25.7h0M280.2 36.1h0M281.8 47.1h0M282.0 12.4h0M281.8 17.1h0M281.5 15.3h0M281.5 46.1h0M282.0 18.7h0M282.6 48.6h0M281.4 31.3h0M281.1 34.0h0"/><path d="M281.3 16.0h0M282.3 19.4h0M281.9 52.6h0M281.2 20.3h0M280.1 43.9h0M282.1 80.2h0M282.6 85.1h0M280.5 62.4h0M280.8 52.4h0M283.8 39.1h0M282.2 48.6h0M281.6 60.7h0M283.4 19.6h0M279.6 15.4h0M281.4 28.4h0M281.8 11.7h0M282.1 53.1h0M281.3 19.5h0M282.0 26.4h0M283.1 33.5h0M281.9 44.1h0M282.7 71.2h0M282.8 44.9h0M281.5 47.7h0M282.3 46.5h0M280.4 61.5h0M282.4 55.6h0M281.2 34.1h0M281.7 54.9h0M280.3 38.7h0M281.5 51.2h0M281.2 21.4h0M281.3 46.1h0M280.0 65.7h0M282.1 23.7h0M281.6 42.6h0M279.9 16.8h0M283.3 44.4h0M283.5 15.8h0M281.0 75.6h0M281.6 16.4h0M281.0 11.4h0M281.7 32.7h0M283.1 16.9h0M280.9 33.4h0M281.7 55.9h0M283.5 34.3h0M282.6 44.9h0M281.4 31.3h0M280.9 47.9h0M280.9 35.6h0M281.4 59.7h0M282.3 42.4h0M280.5 43.5h0M280.4 25.2h0M280.8 45.2h0M280.5 48.9h0M281.3 10.5h0M281.2 33.4h0M281.8 15.1h0M281.6 36.0h0M281.6 43.8h0M281.2 37.8h0M281.7 22.2h0M282.9 49.4h0M280.9 19.0h0M282.0 22.0h0M281.0 49.2h0M280.6 48.4h0M280.7 40.7h0M281.9 32.8h0M282.6 32.4h0M280.4 15.1h0M282.1 37.3h0M282.4 48.7h0M282.3 51.8h0M281.1 31.2h0M281.4 41.7h0M281.6 60.3h0M281.3 76.4h0M281.4 19.2h0M281.8 35.4h0M280.5 48.0h0M281.8 48.6h0M281.2 28.0h0M281.8 50.1h0M281.3 39.3h0M281.4 31.1h0M281.6 51.8h0M281.9 40.6h0M280.9 55.9h0M281.6 15.8h0M282.7 47.6h0M281.1 44.1h0M281.9 74.3h0M282.2 45.4h0M280.7 47.2h0M280.6 21.6h0M281.2 74.6h0M281.8 49.5h0M281.1 61.3h0M282.8 46.0h0M280.6 32.0h0M280.3 41.0h0M280.3 62.1h0M282.7 56.8h0M280.8 49.5h0M281.0 58.4h0M281.6 16.8h0M281.8 32.0h0M282.1 36.8h0M281.0 43.9h0M281.0 76.2h0M281.9 16.9h0M280.6 46.4h0M281.7 23.8h0M282.1 13.5h0M282.9 51.4h0M281.8 25.1h0M281.3 48.4h0M281.3 17.1h0M281.1 37.4h0M280.0 32.7h0M281.6 29.7h0M280.2 62.5h0M281.3 51.1h0M281.4 68.6h0M279.6 45.2h0M281.5 38.7h0M281.4 15.5h0M283.1 22.0h0M281.8 15.9h0M281.5 27.4h0M281.5 19.5h0M281.5 50.8h0M282.3 32.2h0M283.2 47.2h0M279.7 31.9h0M280.5 38.3h0"/><path d="M279.7 42.7h0M281.6 54.5h0M281.0 47.2h0M281.2 55.6h0M281.3 36.8h0M282.1 28.8h0M280.3 26.1h0M280.2 16.2h0M281.4 32.3h0M281.0 60.2h0M280.0 73.5h0M281.7 21.5h0M281.4 73.8h0M281.4 13.9h0M280.9 30.1h0M281.6 33.7h0M281.0 27.0h0M281.0 62.6h0M283.0 16.4h0M283.1 49.9h0M281.4 61.4h0M282.0 50.1h0M282.3 55.5h0M282.6 34.1h0M281.8 48.0h0M280.9 35.1h0M281.5 39.4h0M282.3 46.2h0M280.2 60.7h0M281.2 27.5h0M280.9 37.4h0M280.4 58.1h0M279.7 46.9h0M280.5 56.1h0M281.4 25.9h0M282.6 22.1h0M282.9 15.4h0M281.1 55.2h0M281.2 32.9h0M279.6 51.8h0M282.7 34.4h0M281.6 60.1h0M282.7 29.6h0M283.8 13.4h0M282.0 69.7h0M282.6 26.8h0M282.1 26.7h0M282.8 42.9h0M281.0 45.0h0M282.2 32.5h0M282.1 27.0h0M282.1 39.2h0M280.6 14.3h0M281.0 35.7h0M282.4 31.6h0M283.1 40.1h0M280.4 87.7h0M280.0 48.2h0M280.6 68.7h0M281.7 17.5h0M281.8 32.2h0M282.2 35.7h0M279.7 53.7h0M280.1 10.3h0M280.0 45.7h0M281.0 41.3h0M281.9 62.9h0M283.5 66.1h0M281.1 33.8h0M281.1 43.2h0M281.9 35.3h0M281.7 74.8h0M281.1 32.0h0M280.0 46.0h0M280.8 57.1h0M282.1 85.5h0M279.2 47.1h0M280.5 43.2h0M281.8 43.6h0M280.9 50.8h0M282.0 41.3h0M279.5 13.6h0M280.3 18.7h0M281.4 62.3h0M280.7 51.5h0M280.3 59.7h0M281.4 50.4h0M279.7 18.6h0M281.7 47.9h0M280.5 40.1h0M283.0 41.3h0M279.2 65.7h0M281.4 17.4h0M280.8 39.7h0M279.9 90.1h0M281.3 61.1h0M282.8 33.7h0M281.1 51.4h0M281.3 18.8h0M281.0 29.0h0M280.6 30.0h0M283.3 32.6h0M281.7 31.8h0M280.7 59.7h0M282.7 42.0h0M280.0 55.5h0M280.6 26.1h0M281.7 56.1h0M281.8 29.0h0M282.3 38.4h0M282.3 38.7h0M281.7 26.4h0M281.1 21.3h0M280.5 46.6h0M281.5 11.2h0M282.6 39.9h0M282.1 49.5h0M281.7 42.2h0M280.5 20.7h0M281.7 36.3h0M281.7 39.8h0M282.1 35.6h0M282.3 65.1h0M280.5 32.3h0M282.8 43.8h0M281.6 40.5h0M281.3 85.3h0M280.6 18.1h0M281.6 18.4h0M280.1 21.5h0M281.5 42.3h0M280.0 51.7h0M281.6 57.4h0M280.2 48.4h0M280.9 39.3h0M283.4 50.0h0M282.8 32.3h0M280.4 48.6h0M282.5 61.0h0"/><path d="M298.6 54.3h0M298.3 54.9h0M298.9 37.5h0M298.0 59.6h0M299.3 61.5h0M297.2 43.4h0M300.6 38.6h0M298.7 62.2h0M298.9 36.9h0M299.3 38.7h0M298.6 36.3h0M297.3 62.3h0M299.5 46.5h0M298.0 39.7h0M298.4 62.1h0M298.0 63.5h0M300.4 49.7h0M298.8 54.4h0M299.3 32.6h0M299.3 66.3h0M299.2 35.0h0M299.3 47.3h0M299.3 54.6h0M299.9 39.6h0M298.5 55.9h0M298.1 35.0h0M299.6 46.4h0M299.0 34.7h0M299.0 55.1h0M297.5 47.3h0M299.0 53.8h0M297.6 66.4h0M299.1 49.1h0M300.2 29.9h0M299.2 46.1h0M299.2 45.8h0M297.7 62.1h0M300.3 48.8h0M297.8 57.9h0M296.9 50.5h0M299.8 45.4h0M297.5 55.4h0M298.8 64.7h0M299.8 62.9h0M299.8 45.8h0M297.6 28.4h0M299.6 66.2h0M300.8 46.4h0M299.7 48.6h0M299.4 48.8h0M299.8 57.2h0M299.3 56.0h0M300.0 58.0h0M299.6 65.7h0M299.3 63.8h0M300.6 36.6h0M298.6 58.5h0M299.4 40.4h0M300.0 60.5h0M299.7 31.2h0M299.4 67.5h0M297.9 59.3h0M299.4 57.6h0M300.2 54.9h0M299.0 29.6h0M299.5 31.0h0M299.4 39.3h0M299.2 29.9h0M299.3 49.7h0M299.3 39.5h0M299.5 39.9h0M298.3 40.7h0M297.9 60.7h0M300.3 52.0h0M299.0 59.0h0M300.3 44.0h0M299.2 46.0h0M299.2 44.4h0M299.4 48.7h0M299.4 56.8h0M298.0 38.5h0M298.0 60.6h0M297.9 38.8h0M301.2 28.6h0M299.3 54.1h0M298.1 53.5h0M299.6 55.4h0M299.6 31.0h0M298.5 68.6h0M299.4 59.8h0M298.1 46.1h0M300.3 66.8h0M300.2 45.4h0M298.7 55.8h0M299.5 57.6h0M298.8 30.5h0M299.6 61.7h0M298.9 54.1h0M298.4 57.8h0M300.0 56.8h0M300.8 55.0h0M298.6 35.0h0M298.5 51.9h0M300.0 41.1h0"/><path d="M298.9 36.6h0M300.4 37.6h0M299.3 42.0h0M300.6 36.8h0M298.5 46.5h0M297.7 46.3h0M299.0 60.5h0M298.3 68.3h0M300.1 55.2h0M298.5 45.4h0M297.5 57.4h0M298.8 56.8h0M297.3 70.9h0M298.1 31.5h0M298.4 51.4h0M299.7 53.0h0M296.8 46.5h0M300.1 60.1h0M297.7 59.7h0M298.3 41.3h0M300.0 32.3h0M299.3 31.0h0M297.5 32.6h0M299.9 57.1h0M299.8 54.4h0M299.0 72.4h0M300.2 51.0h0M298.7 53.2h0M299.6 52.0h0M298.2 46.5h0M299.0 48.5h0M299.6 51.7h0M299.0 35.5h0M299.6 49.5h0M299.3 58.2h0M298.0 39.1h0M299.2 61.4h0M299.2 29.3h0M299.4 57.1h0M300.0 50.9h0M299.3 34.6h0M299.7 58.1h0M298.8 63.0h0M299.7 31.1h0M300.4 30.8h0M298.8 40.7h0M300.1 40.8h0M297.9 52.4h0M297.8 69.6h0M299.5 46.3h0M298.1 32.9h0M299.9 66.6h0M299.2 36.9h0M298.8 52.8h0M298.1 30.9h0M298.1 45.5h0M300.0 51.6h0M300.6 30.8h0M299.3 54.3h0M298.0 37.1h0M298.7 71.3h0M298.5 65.2h0M298.9 30.7h0M299.6 48.0h0M298.3 49.9h0M300.2 48.5h0M298.9 30.7h0M300.4 36.1h0M298.5 38.2h0M299.5 70.9h0M296.8 53.1h0M301.1 59.8h0M299.6 46.8h0M299.4 48.9h0M298.6 72.2h0M298.4 39.1h0M298.0 56.8h0M299.5 55.0h0M298.1 45.3h0M299.9 54.6h0M297.8 45.0h0M299.4 48.7h0M299.6 62.7h0M298.7 49.9h0M300.2 52.2h0M297.5 50.6h0M298.5 54.5h0M298.9 55.0h0M299.9 59.8h0M300.4 45.8h0M299.0 50.8h0M297.0 42.9h0M299.2 66.0h0M299.9 33.3h0M299.4 33.2h0M299.8 29.9h0M300.6 31.9h0M299.1 40.5h0M298.7 30.4h0M298.8 63.6h0M301.3 45.8h0M298.3 53.7h0M300.2 52.5h0M300.3 50.6h0"/><path d="M299.2 28.9h0M297.7 46.0h0M299.2 42.1h0M298.0 47.2h0M298.7 40.7h0M297.9 56.6h0M299.5 35.8h0M299.5 66.1h0M298.9 34.7h0M299.3 57.6h0M300.0 38.7h0M298.8 59.3h0M299.0 56.1h0M298.6 48.2h0M299.3 58.7h0M298.7 53.5h0M299.1 50.7h0M299.5 33.6h0M299.4 49.1h0M298.9 33.0h0M300.0 50.6h0M300.2 52.3h0M298.4 60.7h0M298.8 51.8h0M298.4 53.0h0M299.9 61.8h0M298.5 38.5h0M299.3 28.0h0M298.3 54.8h0M298.8 32.6h0M299.0 59.1h0M298.3 49.3h0M299.7 66.9h0M300.1 35.0h0M298.3 49.5h0M298.1 48.5h0M297.8 28.7h0M298.4 48.3h0M298.8 35.8h0M298.9 59.2h0M298.4 54.7h0M300.0 42.3h0M298.1 29.3h0M298.4 75.8h0M299.6 69.0h0M297.5 57.9h0M297.2 29.4h0M300.3 39.8h0M300.1 75.8h0M298.9 32.1h0M299.3 54.6h0M299.1 54.8h0M299.3 60.8h0M297.3 36.6h0M299.2 38.9h0M298.9 33.6h0M299.9 39.0h0M298.3 48.7h0M298.8 64.7h0M299.7 59.5h0M298.8 50.0h0M299.0 40.6h0M299.8 62.6h0M298.7 35.3h0M298.5 45.1h0M299.7 61.0h0M297.3 35.2h0M298.5 43.8h0M298.5 54.5h0M299.0 51.1h0M300.6 28.2h0M300.6 29.3h0M299.5 60.4h0M299.6 63.3h0M298.7 69.3h0M300.0 60.6h0M298.7 67.6h0M297.5 62.7h0M299.5 66.9h0M299.0 48.4h0M299.2 75.8h0M297.4 57.9h0M299.0 46.8h0M299.4 43.9h0M296.8 56.6h0M299.7 38.4h0M299.3 37.2h0M298.9 60.1h0M300.0 67.5h0M299.6 88.0h0M299.9 38.1h0M299.6 64.8h0M299.0 70.2h0M299.1 72.5h0M298.5 37.2h0M300.1 48.3h0M300.5 57.9h0M298.3 61.1h0M298.7 69.3h0M299.1 40.5h0M299.7 43.8h0M298.8 56.6h0M299.4 46.3h0M297.6 28.7h0"/></g><path d="M281.5,8.5V4.5H299.1V27.7" fill="none" stroke="#777" stroke-width="0.5"/><path d="M290.3,2.1v4.8M288.2,3.3l4.2,2.4M288.2,5.7l4.2,-2.4" stroke="#f06070" stroke-width="0.45" stroke-opacity="0.7"/><circle cx="290.3" cy="4.5" r="0.9" fill="#a04858"/></g><g><rect x="343.2" y="0.2" width="56.1" height="104.2" fill="none" stroke="#999" stroke-width="0.8"/><line x1="341" y1="11.9" x2="343.2" y2="11.9" stroke="#777" stroke-width="0.5"/><text transform="translate(338.9,11.9) rotate(-90)" class="tl">8</text><line x1="341" y1="34.1" x2="343.2" y2="34.1" stroke="#777" stroke-width="0.5"/><text transform="translate(338.9,34.1) rotate(-90)" class="tl">6</text><line x1="341" y1="56.3" x2="343.2" y2="56.3" stroke="#777" stroke-width="0.5"/><text transform="translate(338.9,56.3) rotate(-90)" class="tl">4</text><line x1="341" y1="78.5" x2="343.2" y2="78.5" stroke="#777" stroke-width="0.5"/><text transform="translate(338.9,78.5) rotate(-90)" class="tl">2</text><line x1="341" y1="100.7" x2="343.2" y2="100.7" stroke="#777" stroke-width="0.5"/><text transform="translate(338.9,100.7) rotate(-90)" class="tl">0</text><text transform="translate(329.4,52.3) rotate(-90)" class="yt">Expression - log<tspan font-size="2.6" dy="0.8">2</tspan><tspan dy="-0.8">(TPM + 1)</tspan></text><line x1="371.25" y1="104.4" x2="371.25" y2="106" stroke="#777" stroke-width="0.5"/><text x="371.25" y="112.9" class="xl">LUAD</text><text x="371.25" y="116.9" class="xl2">(num(T)=483; num(N)=347)</text><text x="367.05" y="125.7" class="nm">AQP4</text><line x1="363.15" y1="9.6" x2="363.15" y2="45.2" stroke="#888" stroke-width="0.35"/><line x1="359.85" y1="9.6" x2="366.45" y2="9.6" stroke="#666" stroke-width="0.45"/><rect x="356.3" y="99.95" width="13.7" height="1.2" fill="#666"/><rect x="356.3" y="45.2" width="13.7" height="37.2" fill="#f5565b" stroke="#b8505a" stroke-width="0.4"/><line x1="356.3" y1="62.6" x2="370" y2="62.6" stroke="#6a1414" stroke-width="0.8"/><line x1="379.9" y1="9.6" x2="379.9" y2="34.7" stroke="#888" stroke-width="0.35"/><line x1="376.6" y1="9.6" x2="383.2" y2="9.6" stroke="#666" stroke-width="0.45"/><line x1="379.9" y1="52" x2="379.9" y2="78" stroke="#888" stroke-width="0.35"/><line x1="376.6" y1="78" x2="383.2" y2="78" stroke="#666" stroke-width="0.45"/><rect x="372.9" y="99.95" width="14" height="1.2" fill="#666"/><rect x="372.9" y="34.7" width="14" height="17.3" fill="#7a7a7a" stroke="#555" stroke-width="0.4"/><line x1="372.9" y1="42.6" x2="386.9" y2="42.6" stroke="#1e1e1e" stroke-width="0.8"/><g fill="none" stroke="#111" stroke-opacity="0.6" stroke-width="0.9" stroke-linecap="round"><path d="M362.9 93.9h0M362.5 64.3h0M363.4 99.9h0M363.9 99.8h0M363.7 74.0h0M363.9 31.7h0M362.5 88.8h0M363.4 48.8h0M364.1 21.5h0M362.5 55.2h0M362.7 92.6h0M363.0 96.7h0M362.9 28.3h0M363.1 31.1h0M364.0 78.7h0M362.6 43.2h0M363.4 41.5h0M362.9 37.2h0M361.5 35.8h0M362.6 50.8h0M363.2 66.0h0M362.3 62.0h0M365.0 63.5h0M363.5 78.7h0M363.0 62.0h0M364.2 65.0h0M363.5 50.5h0M361.9 62.4h0M363.1 70.6h0M363.2 51.0h0M363.1 97.7h0M365.3 39.1h0M363.1 86.6h0M364.0 73.6h0M363.0 85.8h0M362.7 46.2h0M363.3 77.3h0M363.3 48.0h0M363.4 54.3h0M361.9 54.0h0M363.4 44.3h0M363.2 10.1h0M362.2 87.3h0M364.1 57.4h0M362.4 69.9h0M363.5 33.8h0M361.6 61.4h0M362.7 73.4h0M364.0 34.5h0M361.6 40.4h0M364.3 33.3h0M361.2 79.9h0M364.2 96.2h0M364.4 61.1h0M361.8 44.4h0M362.1 67.0h0M363.3 50.9h0M362.4 51.4h0M363.7 98.5h0M363.2 69.5h0M363.7 99.6h0M364.7 82.8h0M363.7 45.5h0M362.5 25.8h0M363.3 74.1h0M363.2 72.8h0M363.0 33.0h0M362.6 66.2h0M363.5 11.4h0M364.3 97.4h0M363.2 58.4h0M361.7 74.1h0M365.4 84.1h0M364.1 26.4h0M362.1 93.6h0M363.5 69.6h0M361.9 80.8h0M363.7 93.2h0M363.0 74.9h0M363.6 50.0h0M362.2 98.2h0M363.6 75.8h0M363.0 49.6h0M362.4 11.2h0M361.6 86.6h0M364.9 69.2h0M362.3 99.5h0M363.4 90.0h0M363.7 80.3h0M364.7 34.3h0M363.0 81.9h0M363.4 63.5h0M362.8 53.4h0M362.8 22.9h0M363.6 84.3h0M364.3 79.6h0M361.3 86.3h0M363.4 76.6h0M364.5 66.1h0M363.3 84.2h0M363.2 25.4h0M363.3 97.6h0M363.2 73.3h0M363.1 74.0h0M363.2 75.2h0M363.7 98.9h0M364.7 53.2h0M363.3 44.5h0M364.1 31.8h0M363.2 68.4h0M364.1 60.9h0M363.9 28.8h0M362.5 87.2h0M362.3 85.6h0M363.2 92.3h0M363.2 33.3h0M363.7 48.2h0M364.1 85.8h0M363.1 68.6h0M363.8 55.5h0M363.5 81.2h0M362.7 39.7h0M363.9 81.1h0M362.8 34.9h0M364.2 41.8h0M363.8 53.6h0M364.3 73.7h0M364.0 84.8h0M362.1 24.9h0M361.0 51.8h0M363.2 29.1h0M362.5 86.2h0M364.8 74.5h0M363.1 79.4h0M362.5 59.6h0M364.1 38.1h0M363.4 88.3h0M363.3 93.2h0M363.4 82.2h0M361.1 89.7h0M360.8 31.9h0M363.1 90.9h0M362.3 81.8h0M362.9 33.0h0M362.8 86.4h0M362.3 75.8h0M362.5 78.7h0M361.5 44.9h0"/><path d="M364.4 93.7h0M363.9 44.7h0M362.9 46.9h0M361.7 37.8h0M362.5 85.7h0M362.3 35.7h0M364.8 64.5h0M361.6 54.9h0M360.8 51.3h0M364.0 72.5h0M363.4 33.0h0M364.2 69.2h0M363.4 98.2h0M363.1 55.2h0M363.6 95.1h0M364.0 76.2h0M362.8 13.1h0M364.1 34.1h0M363.0 60.1h0M363.1 32.8h0M362.4 91.7h0M363.6 68.6h0M362.5 51.6h0M362.4 67.3h0M363.4 83.9h0M363.7 25.3h0M361.8 70.6h0M362.2 49.6h0M364.7 34.8h0M362.4 91.1h0M363.6 65.3h0M363.6 87.3h0M363.4 69.9h0M363.3 37.6h0M361.9 75.5h0M363.3 74.8h0M363.0 10.6h0M364.3 70.7h0M362.3 72.6h0M364.2 94.9h0M363.4 98.0h0M363.2 77.1h0M363.8 74.7h0M363.0 71.4h0M362.9 66.4h0M364.6 36.0h0M363.0 62.2h0M363.6 59.1h0M361.9 49.5h0M364.1 88.9h0M362.8 42.9h0M363.0 30.8h0M363.2 35.6h0M362.3 39.0h0M363.7 96.5h0M362.0 88.7h0M361.8 99.6h0M364.1 40.5h0M362.1 93.1h0M363.3 52.0h0M362.0 20.8h0M364.0 68.0h0M362.8 27.3h0M362.6 39.1h0M363.9 89.7h0M362.7 33.6h0M362.8 74.4h0M361.9 14.4h0M364.6 44.5h0M363.8 97.9h0M364.1 52.9h0M362.8 49.3h0M364.8 34.6h0M363.1 77.7h0M362.8 50.1h0M363.9 24.3h0M363.7 49.8h0M362.4 70.8h0M363.3 78.4h0M362.1 61.2h0M364.4 82.4h0M363.4 59.4h0M362.7 77.5h0M362.4 67.3h0M363.2 30.0h0M362.3 13.4h0M362.6 66.1h0M361.7 50.6h0M361.8 78.0h0M361.7 76.2h0M363.0 46.6h0M363.8 85.4h0M362.6 64.1h0M363.8 39.5h0M364.3 53.6h0M362.1 50.8h0M362.9 57.8h0M363.5 59.4h0M363.6 25.6h0M362.2 91.2h0M362.4 78.6h0M363.2 96.4h0M363.4 35.8h0M364.0 26.3h0M362.4 30.2h0M362.4 79.1h0M361.8 57.8h0M362.0 43.1h0M362.5 81.3h0M364.0 73.5h0M363.4 64.1h0M363.8 37.9h0M361.8 76.0h0M364.1 21.3h0M363.9 78.5h0M362.9 81.0h0M362.5 11.3h0M363.1 98.3h0M364.5 61.4h0M363.2 85.5h0M362.1 77.2h0M363.3 48.1h0M364.7 16.8h0M363.5 80.1h0M361.8 64.9h0M363.4 19.6h0M363.0 75.8h0M363.2 98.3h0M364.2 57.0h0M365.2 81.9h0M363.7 88.8h0M363.2 64.3h0M362.6 83.8h0M362.3 27.7h0M362.9 95.8h0M363.6 89.5h0M363.5 78.2h0M365.2 55.2h0M362.1 81.9h0M364.3 45.4h0M364.4 81.3h0M362.8 36.4h0M363.4 57.3h0M364.2 37.9h0M362.0 96.9h0M362.7 71.5h0M362.9 83.7h0M363.5 28.7h0"/><path d="M362.6 46.5h0M362.8 46.5h0M363.9 38.4h0M361.8 37.3h0M363.9 94.1h0M362.6 30.2h0M362.4 66.8h0M362.0 42.3h0M362.7 62.3h0M365.1 69.9h0M363.5 75.6h0M362.5 63.3h0M362.2 80.2h0M364.3 40.1h0M363.9 71.5h0M364.0 64.5h0M362.8 82.6h0M364.2 98.1h0M362.3 56.1h0M364.2 53.3h0M364.6 54.6h0M362.0 43.5h0M363.6 39.3h0M362.6 80.2h0M361.7 98.8h0M362.0 89.4h0M363.3 88.7h0M361.3 34.5h0M363.5 66.6h0M363.7 28.2h0M362.6 92.1h0M362.9 56.4h0M362.9 94.2h0M361.3 52.7h0M363.1 33.4h0M364.4 79.6h0M362.8 65.6h0M364.3 40.7h0M363.3 65.4h0M362.2 33.5h0M362.8 29.4h0M363.0 55.0h0M363.1 55.3h0M362.7 70.0h0M362.4 46.2h0M362.4 52.5h0M364.5 75.3h0M361.6 42.3h0M364.0 57.3h0M362.6 41.2h0M362.4 73.2h0M363.0 74.0h0M363.8 67.1h0M364.1 76.5h0M362.1 32.0h0M362.6 48.3h0M362.4 39.5h0M361.5 64.7h0M361.3 64.8h0M363.1 36.0h0M363.3 75.0h0M362.9 26.8h0M362.2 94.9h0M362.3 94.9h0M362.0 26.2h0M364.9 37.1h0M363.2 68.3h0M362.3 95.5h0M363.8 75.3h0M363.5 49.4h0M364.0 99.6h0M363.7 92.3h0M363.4 79.0h0M362.8 53.2h0M362.3 78.6h0M364.4 88.1h0M362.4 82.3h0M364.0 75.6h0M364.5 37.8h0M363.7 70.4h0M363.6 64.6h0M364.3 79.6h0M363.9 65.4h0M363.5 47.3h0M362.8 10.5h0M363.3 87.4h0M362.5 35.1h0M361.5 45.9h0M362.0 47.1h0M363.4 15.9h0M362.6 46.7h0M364.3 96.4h0M363.1 48.8h0M364.3 74.8h0M363.6 75.1h0M363.1 35.1h0M365.0 29.7h0M363.6 72.9h0M363.1 52.8h0M363.1 61.5h0M364.8 57.3h0M363.6 88.1h0M363.3 50.1h0M362.1 96.8h0M362.8 26.5h0M361.5 17.1h0M362.7 50.1h0M365.4 63.5h0M363.8 89.6h0M362.6 29.9h0M363.2 47.0h0M363.7 66.0h0M362.5 34.6h0M363.4 94.5h0M361.2 27.1h0M363.3 31.9h0M363.7 97.9h0M362.0 29.1h0M364.1 83.0h0M364.0 85.2h0M362.3 79.8h0M363.7 59.3h0M363.7 75.3h0M363.5 94.9h0M362.9 69.2h0M362.6 75.9h0M361.6 50.7h0M362.9 69.4h0M363.9 57.5h0M362.7 73.1h0M363.2 67.3h0M361.8 42.2h0M361.3 74.4h0M363.1 79.2h0M362.3 55.1h0M361.4 75.8h0M363.9 34.4h0M363.3 68.0h0M362.3 90.2h0M362.2 26.5h0M364.0 91.9h0M362.3 59.8h0M362.4 10.5h0M364.4 32.9h0M363.0 75.8h0M362.4 89.9h0M362.5 47.6h0"/><path d="M379.5 31.8h0M379.1 23.7h0M379.5 17.2h0M379.9 11.1h0M379.8 10.6h0M378.9 41.5h0M377.7 51.5h0M381.0 52.8h0M379.6 30.1h0M380.2 49.8h0M379.3 39.1h0M379.6 30.9h0M380.8 16.3h0M380.8 43.6h0M380.1 33.3h0M380.4 47.9h0M379.5 35.5h0M380.9 11.8h0M380.4 45.8h0M380.6 56.9h0M380.5 49.0h0M380.2 47.5h0M379.6 35.2h0M380.1 51.2h0M379.4 65.8h0M380.8 22.5h0M377.9 37.8h0M379.4 35.6h0M380.2 30.4h0M381.7 17.6h0M378.5 10.2h0M381.1 51.1h0M380.2 50.6h0M378.8 38.2h0M380.5 49.5h0M380.1 70.7h0M379.8 37.7h0M379.4 46.8h0M380.8 46.8h0M377.7 15.9h0M379.8 15.7h0M380.6 30.1h0M377.7 17.6h0M380.1 21.8h0M380.5 42.5h0M379.6 24.9h0M379.3 11.9h0M379.6 64.6h0M379.8 44.2h0M380.4 18.4h0M380.2 58.6h0M380.7 52.1h0M379.8 60.4h0M380.3 50.8h0M377.6 53.0h0M379.4 20.6h0M380.3 48.7h0M379.6 48.2h0M380.5 46.8h0M378.3 28.3h0M379.2 36.8h0M379.3 40.3h0M379.8 45.2h0M378.0 15.4h0M379.6 24.1h0M380.1 59.1h0M380.9 40.1h0M380.2 68.2h0M379.1 69.0h0M377.9 49.6h0M381.3 48.5h0M379.0 38.8h0M380.1 28.2h0M380.7 48.4h0M380.6 36.5h0M381.3 21.4h0M379.2 50.3h0M379.4 20.0h0M377.8 50.9h0M380.5 46.8h0M379.1 26.8h0M380.4 48.4h0M380.7 10.6h0M379.5 43.5h0M380.7 44.0h0M377.9 51.8h0M378.7 56.0h0M380.0 35.5h0M378.8 71.8h0M380.4 50.5h0M380.0 38.5h0M379.6 26.5h0M379.1 43.4h0M380.4 28.6h0M380.8 37.1h0M379.4 32.2h0M381.2 40.3h0M378.9 27.4h0M378.6 61.6h0M377.8 44.7h0M379.9 12.1h0M381.0 47.1h0M380.3 43.3h0M380.0 51.7h0"/><path d="M379.6 67.0h0M381.2 32.9h0M380.1 44.4h0M381.9 21.8h0M379.9 23.8h0M380.4 16.0h0M380.0 51.9h0M379.9 46.4h0M378.6 41.8h0M378.7 36.4h0M381.8 48.8h0M379.4 13.9h0M379.5 49.9h0M377.6 30.3h0M381.7 51.6h0M380.5 40.9h0M381.4 75.9h0M379.2 27.3h0M380.8 39.4h0M380.3 44.5h0M379.5 69.9h0M379.6 40.0h0M379.5 37.5h0M379.2 19.2h0M381.5 45.2h0M378.8 51.1h0M381.2 37.2h0M379.7 38.7h0M379.7 35.2h0M379.6 22.9h0M380.0 49.0h0M379.5 48.3h0M378.8 47.1h0M380.7 49.8h0M379.3 43.2h0M378.6 56.9h0M380.1 12.3h0M380.7 48.7h0M380.3 69.2h0M381.0 58.7h0M379.3 43.4h0M380.2 38.2h0M382.0 34.2h0M380.2 50.7h0M380.4 10.6h0M380.3 33.0h0M378.9 47.6h0M380.4 40.8h0M380.6 22.2h0M381.7 33.2h0M378.3 55.7h0M379.9 38.2h0M380.3 43.3h0M380.0 46.4h0M379.7 75.5h0M380.9 49.8h0M380.8 22.9h0M379.8 33.5h0M380.0 42.6h0M380.6 40.6h0M380.0 38.7h0M380.0 46.5h0M378.5 54.0h0M379.8 20.0h0M379.6 17.5h0M379.9 50.0h0M380.2 36.5h0M381.4 44.5h0M379.8 44.6h0M379.7 37.7h0M380.6 43.4h0M379.7 42.5h0M380.4 13.2h0M379.7 37.9h0M378.6 23.6h0M380.0 26.6h0M380.3 36.6h0M378.4 22.5h0M380.1 30.3h0M382.2 47.6h0M380.0 46.3h0M381.7 56.2h0M379.1 49.1h0M379.2 22.9h0M380.6 46.0h0M378.7 71.0h0M380.7 39.5h0M381.3 45.6h0M381.4 61.6h0M380.7 42.7h0M379.2 16.6h0M379.0 48.1h0M378.2 44.9h0M379.3 51.9h0M380.2 31.2h0M379.5 18.8h0M377.9 50.8h0M380.0 33.3h0M379.2 32.3h0M378.7 22.0h0M379.4 14.7h0M381.0 59.7h0M380.5 51.7h0M379.9 35.7h0"/><path d="M378.3 34.9h0M379.9 66.1h0M381.2 50.1h0M381.2 44.2h0M379.4 24.8h0M381.1 39.3h0M379.9 71.6h0M380.7 24.5h0M379.4 15.6h0M378.9 72.5h0M380.0 44.0h0M379.5 45.3h0M379.0 30.0h0M380.0 23.5h0M378.3 36.9h0M379.4 24.1h0M380.7 31.3h0M378.4 77.3h0M380.3 54.5h0M380.2 48.9h0M379.7 51.5h0M381.8 62.6h0M380.3 46.8h0M379.0 40.9h0M379.7 10.7h0M379.5 48.9h0M379.7 13.0h0M379.3 41.4h0M378.6 47.2h0M377.9 22.0h0M380.0 65.2h0M379.7 19.0h0M379.9 51.5h0M378.5 50.3h0M379.2 43.9h0M378.1 23.5h0M381.3 38.9h0M379.7 69.9h0M378.5 27.7h0M379.7 37.6h0M378.0 42.1h0M379.9 42.9h0M380.7 48.6h0M380.5 45.0h0M379.8 28.5h0M379.4 28.6h0M380.7 37.9h0M380.0 12.9h0M380.1 50.1h0M381.0 46.3h0M380.1 54.9h0M379.9 31.5h0M380.8 71.5h0M380.6 39.3h0M380.5 23.9h0M380.8 17.7h0M381.8 46.8h0M380.0 46.0h0M379.6 64.1h0M380.5 26.6h0M379.4 44.2h0M379.1 65.4h0M381.3 25.3h0M379.3 45.1h0M378.0 48.9h0M379.9 39.2h0M379.2 14.1h0M380.2 25.5h0M380.8 27.7h0M381.0 45.7h0M380.2 20.7h0M381.1 58.5h0M377.6 48.5h0M379.4 30.2h0M379.1 76.3h0M381.0 42.0h0M381.6 29.7h0M379.0 74.1h0M379.1 26.6h0M380.4 39.9h0M382.2 44.9h0M381.2 32.2h0M380.3 58.6h0M378.7 21.9h0M380.1 13.8h0M378.6 34.6h0M379.7 39.0h0M378.9 32.9h0M378.1 14.5h0M380.8 35.5h0M379.5 39.7h0M379.9 66.1h0M380.7 28.0h0M379.7 23.4h0M380.4 39.8h0M380.3 16.8h0M380.4 16.1h0M378.8 76.6h0M379.7 21.8h0M379.8 36.3h0M381.3 51.6h0M378.4 48.0h0M380.2 34.4h0"/></g><path d="M362.3,7V5H380.6V7" fill="none" stroke="#777" stroke-width="0.5"/><path d="M371.3,2.6v4.8M369.2,3.8l4.2,2.4M369.2,6.2l4.2,-2.4" stroke="#f06070" stroke-width="0.45" stroke-opacity="0.7"/><circle cx="371.3" cy="5" r="0.9" fill="#a04858"/></g><g><rect x="18.1" y="136.4" width="57.3" height="105" fill="none" stroke="#999" stroke-width="0.8"/><line x1="15.9" y1="146.9" x2="18.1" y2="146.9" stroke="#777" stroke-width="0.5"/><text transform="translate(13.8,146.9) rotate(-90)" class="tl">10</text><line x1="15.9" y1="165" x2="18.1" y2="165" stroke="#777" stroke-width="0.5"/><text transform="translate(13.8,165) rotate(-90)" class="tl">8</text><line x1="15.9" y1="183.1" x2="18.1" y2="183.1" stroke="#777" stroke-width="0.5"/><text transform="translate(13.8,183.1) rotate(-90)" class="tl">6</text><line x1="15.9" y1="201.2" x2="18.1" y2="201.2" stroke="#777" stroke-width="0.5"/><text transform="translate(13.8,201.2) rotate(-90)" class="tl">4</text><line x1="15.9" y1="219.3" x2="18.1" y2="219.3" stroke="#777" stroke-width="0.5"/><text transform="translate(13.8,219.3) rotate(-90)" class="tl">2</text><line x1="15.9" y1="237.4" x2="18.1" y2="237.4" stroke="#777" stroke-width="0.5"/><text transform="translate(13.8,237.4) rotate(-90)" class="tl">0</text><text transform="translate(4.3,188.9) rotate(-90)" class="yt">Expression - log<tspan font-size="2.6" dy="0.8">2</tspan><tspan dy="-0.8">(TPM + 1)</tspan></text><line x1="46.75" y1="241.4" x2="46.75" y2="243" stroke="#777" stroke-width="0.5"/><text x="46.75" y="249.9" class="xl">LUAD</text><text x="46.75" y="253.9" class="xl2">(num(T)=483; num(N)=347)</text><text x="47.6" y="261.7" class="nm">AQP5</text><line x1="37.75" y1="144.7" x2="37.75" y2="182.1" stroke="#888" stroke-width="0.35"/><line x1="34.45" y1="144.7" x2="41.05" y2="144.7" stroke="#666" stroke-width="0.45"/><rect x="30.9" y="236.95" width="13.7" height="1.2" fill="#666"/><rect x="30.9" y="182.1" width="13.7" height="43.2" fill="#f5565b" stroke="#b8505a" stroke-width="0.4"/><line x1="30.9" y1="209.2" x2="44.6" y2="209.2" stroke="#6a1414" stroke-width="0.8"/><line x1="55.4" y1="179.5" x2="55.4" y2="204.2" stroke="#888" stroke-width="0.35"/><line x1="52.1" y1="179.5" x2="58.7" y2="179.5" stroke="#666" stroke-width="0.45"/><rect x="48.2" y="236.95" width="14.4" height="1.2" fill="#666"/><rect x="48.2" y="204.2" width="14.4" height="17" fill="#7a7a7a" stroke="#555" stroke-width="0.4"/><line x1="48.2" y1="212.4" x2="62.6" y2="212.4" stroke="#1e1e1e" stroke-width="0.8"/><g fill="none" stroke="#111" stroke-opacity="0.6" stroke-width="0.9" stroke-linecap="round"><path d="M36.7 191.2h0M37.8 186.7h0M37.1 219.3h0M37.5 176.8h0M37.8 228.1h0M37.6 232.8h0M39.2 180.5h0M36.1 184.8h0M36.3 200.5h0M38.7 203.1h0M36.8 187.2h0M37.7 191.5h0M37.8 212.1h0M39.1 177.1h0M37.7 222.0h0M37.7 226.6h0M37.4 219.7h0M37.8 172.1h0M37.8 149.9h0M38.7 198.4h0M36.9 186.8h0M36.9 201.8h0M37.9 187.1h0M36.6 168.8h0M37.7 183.0h0M39.3 204.6h0M39.3 220.6h0M36.2 209.6h0M37.4 200.5h0M37.8 202.4h0M36.4 186.5h0M37.0 167.7h0M38.3 164.5h0M37.1 219.7h0M37.2 193.0h0M37.9 236.2h0M37.3 200.6h0M37.3 162.7h0M38.2 176.9h0M36.7 217.0h0M36.7 221.4h0M37.3 167.1h0M38.2 152.8h0M38.0 156.4h0M38.0 149.5h0M38.7 198.0h0M40.0 186.6h0M38.4 145.2h0M37.3 205.3h0M37.2 220.1h0M37.9 206.9h0M38.5 222.4h0M38.8 186.6h0M36.8 162.8h0M36.8 158.6h0M36.1 151.5h0M38.2 206.4h0M37.3 234.3h0M37.9 145.0h0M37.2 149.5h0M38.2 224.6h0M39.2 216.4h0M38.9 175.1h0M37.8 175.8h0M38.3 193.2h0M38.0 194.3h0M37.1 232.5h0M36.7 176.4h0M37.0 191.1h0M38.3 156.5h0M38.8 212.8h0M36.9 172.1h0M37.9 179.6h0M37.7 196.8h0M36.3 230.9h0M38.9 200.5h0M38.1 156.3h0M38.2 202.4h0M37.9 176.2h0M39.8 182.7h0M37.9 193.7h0M36.6 189.6h0M37.9 236.4h0M39.1 197.0h0M37.0 147.2h0M39.6 226.1h0M36.8 190.5h0M38.0 176.3h0M38.6 152.1h0M37.2 199.2h0M35.9 166.2h0M37.4 164.3h0M36.5 208.3h0M38.3 204.1h0M37.0 164.3h0M37.6 167.3h0M38.0 212.6h0M35.7 180.0h0M38.4 233.6h0M37.8 203.5h0M37.7 230.7h0M38.5 234.7h0M38.6 216.8h0M38.0 222.1h0M37.5 236.0h0M37.2 205.0h0M37.9 157.6h0M36.6 225.5h0M39.3 192.9h0M36.6 202.3h0M36.7 200.9h0M36.3 210.0h0M38.9 169.9h0M37.3 170.4h0M36.0 161.8h0M36.8 192.6h0M35.5 180.0h0M36.6 184.4h0M37.6 196.0h0M37.9 206.7h0M37.2 173.2h0M38.4 184.4h0M38.4 197.1h0M37.8 175.0h0M37.8 236.5h0M38.3 154.8h0M38.7 197.4h0M39.8 177.5h0M36.3 174.3h0M38.6 209.3h0M38.5 169.6h0M38.2 157.1h0M37.6 171.8h0M37.1 181.7h0M36.6 152.1h0M37.9 193.7h0M38.7 192.5h0M38.0 211.4h0M37.6 208.7h0M37.5 165.4h0M37.2 163.7h0M37.3 226.2h0M36.3 153.2h0M37.9 188.6h0M37.6 184.4h0M38.0 211.2h0M36.9 160.0h0M37.7 179.9h0M35.7 206.5h0M39.5 164.2h0M37.8 222.7h0M38.1 186.6h0M38.1 213.6h0M37.5 196.0h0M38.8 177.3h0M38.1 210.8h0M36.7 180.7h0M37.9 185.2h0M36.9 163.2h0M37.4 197.4h0M36.8 160.6h0M38.0 230.8h0M38.8 197.8h0M38.1 173.3h0M39.1 220.4h0M38.3 228.3h0M37.7 190.8h0M36.8 159.3h0M37.3 203.8h0M38.7 199.7h0M36.7 165.9h0M38.6 229.9h0M38.9 171.2h0M36.9 163.4h0M38.1 220.8h0M37.2 207.8h0M37.2 189.4h0M37.3 223.0h0M36.6 170.6h0M37.7 154.0h0M37.2 169.5h0M38.5 213.9h0M39.1 204.9h0M37.9 219.4h0M37.4 175.5h0M36.5 224.9h0M37.5 210.5h0M38.3 149.8h0M36.6 215.9h0M38.8 192.5h0M38.7 227.4h0M38.8 228.2h0M37.5 168.8h0"/><path d="M39.6 147.7h0M38.9 163.6h0M37.8 199.0h0M37.1 231.3h0M39.5 163.4h0M37.7 147.0h0M38.1 200.5h0M38.2 188.5h0M36.9 169.2h0M37.9 206.6h0M38.5 185.3h0M39.1 156.0h0M38.8 215.0h0M38.9 169.8h0M36.9 188.1h0M36.6 226.3h0M37.4 177.7h0M38.6 226.8h0M37.2 203.5h0M39.0 209.6h0M37.1 164.2h0M36.8 220.4h0M37.0 208.7h0M38.0 177.7h0M36.9 222.8h0M38.6 199.8h0M38.7 186.8h0M35.5 217.3h0M36.1 224.5h0M38.3 162.3h0M37.2 200.8h0M39.8 161.0h0M38.8 213.3h0M38.3 205.4h0M38.9 213.3h0M37.5 169.8h0M38.4 145.3h0M38.9 204.5h0M37.8 232.5h0M36.9 166.8h0M38.5 153.7h0M38.6 166.1h0M36.7 233.8h0M37.4 236.6h0M37.4 197.6h0M37.8 202.4h0M37.9 163.4h0M36.7 216.5h0M37.7 223.3h0M38.2 168.9h0M37.1 215.6h0M38.7 217.6h0M37.2 218.1h0M38.3 163.3h0M35.9 181.5h0M37.8 230.2h0M37.1 227.4h0M39.6 178.3h0M37.9 180.0h0M38.5 186.3h0M38.1 198.0h0M37.6 147.2h0M38.6 181.1h0M37.3 187.0h0M39.0 234.8h0M37.3 216.7h0M38.5 180.5h0M37.7 176.9h0M36.9 215.4h0M36.3 176.0h0M38.5 199.1h0M38.1 151.9h0M38.3 188.4h0M37.2 212.9h0M38.9 226.7h0M37.2 224.9h0M39.1 195.8h0M35.8 191.9h0M38.8 193.5h0M37.6 177.5h0M37.8 173.6h0M38.4 219.5h0M36.4 225.7h0M36.4 147.5h0M36.0 209.4h0M38.6 195.0h0M36.6 184.9h0M38.3 171.8h0M37.0 215.0h0M37.6 185.8h0M38.3 231.6h0M37.8 178.9h0M38.0 220.3h0M38.4 200.0h0M37.2 151.2h0M38.8 200.5h0M39.0 218.5h0M36.3 206.6h0M37.0 220.3h0M37.5 167.9h0M37.1 198.9h0M38.4 194.4h0M37.8 166.5h0M37.0 169.8h0M38.1 232.4h0M38.9 211.9h0M39.2 166.4h0M37.3 230.4h0M37.5 209.2h0M40.0 152.5h0M38.1 167.4h0M37.3 231.1h0M39.9 216.3h0M38.2 227.0h0M38.3 159.4h0M36.7 199.0h0M36.3 199.7h0M37.2 173.8h0M39.4 234.4h0M38.2 202.7h0M39.0 164.5h0M38.4 217.1h0M37.5 236.9h0M38.2 167.6h0M36.1 190.4h0M37.9 171.3h0M37.7 233.1h0M38.7 153.3h0M37.6 229.2h0M37.8 193.4h0M38.0 159.9h0M37.9 231.6h0M37.9 173.5h0M35.7 198.2h0M37.4 217.8h0M36.9 166.7h0M36.6 151.7h0M37.0 171.0h0M37.7 228.3h0M37.2 149.1h0M38.7 148.1h0M38.5 222.0h0M39.1 160.3h0M38.6 221.3h0M37.5 228.1h0M38.2 223.6h0M38.4 172.9h0M38.8 196.6h0M36.7 203.7h0M36.6 235.5h0M37.6 210.3h0M37.2 187.5h0M39.2 162.6h0M37.3 193.8h0M38.0 169.3h0M37.0 229.0h0M38.4 217.8h0M38.5 190.6h0M36.1 212.8h0M38.0 181.4h0M37.1 167.7h0M38.6 195.6h0M37.6 234.6h0M37.1 199.9h0M36.5 175.5h0M37.2 226.7h0M37.2 148.1h0M37.6 184.2h0M38.6 197.5h0M36.2 218.1h0M38.4 199.3h0M38.1 163.5h0M39.2 213.0h0M38.2 215.1h0M37.8 218.0h0M38.2 169.1h0M36.8 236.5h0M37.3 164.6h0M37.5 231.5h0M38.1 165.1h0M36.4 188.6h0M37.8 233.4h0M38.2 154.7h0M38.5 155.1h0M37.3 173.2h0M38.0 221.5h0M37.1 168.1h0M38.1 210.0h0M37.6 166.8h0M37.5 187.2h0M37.8 184.8h0M38.2 213.8h0M37.9 200.0h0"/><path d="M39.0 215.7h0M37.7 205.4h0M37.7 213.6h0M39.0 198.7h0M36.3 195.4h0M37.8 165.8h0M36.9 175.5h0M35.8 220.6h0M37.5 226.1h0M37.2 206.0h0M36.4 233.4h0M36.0 228.0h0M37.9 223.1h0M40.0 145.6h0M39.1 178.9h0M37.2 226.3h0M38.0 177.5h0M37.8 187.6h0M37.6 165.2h0M36.2 193.4h0M36.6 233.8h0M37.0 173.9h0M39.2 178.2h0M38.2 203.1h0M40.0 229.5h0M38.3 147.4h0M36.3 216.7h0M38.3 166.9h0M39.2 232.8h0M38.3 174.5h0M36.9 160.3h0M39.6 195.3h0M37.7 198.0h0M38.4 233.6h0M36.0 210.8h0M37.0 180.5h0M37.2 172.1h0M37.7 147.5h0M37.5 171.4h0M37.2 230.2h0M36.3 234.1h0M37.8 236.8h0M38.0 197.9h0M38.8 217.3h0M37.8 171.9h0M38.8 228.4h0M37.6 153.7h0M39.0 228.4h0M36.1 228.6h0M38.6 208.4h0M36.3 200.6h0M37.0 173.4h0M38.4 191.8h0M37.7 161.6h0M37.6 222.5h0M37.6 201.0h0M37.9 189.6h0M38.3 183.2h0M37.8 194.2h0M38.4 227.7h0M38.0 163.6h0M39.9 183.0h0M36.8 203.1h0M36.6 162.4h0M37.6 181.4h0M38.7 195.1h0M37.3 190.5h0M39.2 234.8h0M37.7 177.5h0M38.2 200.7h0M37.9 174.7h0M36.6 228.7h0M38.4 197.7h0M38.5 185.2h0M38.1 158.8h0M36.8 203.7h0M38.5 215.9h0M37.9 163.9h0M37.9 200.5h0M37.9 147.1h0M38.4 159.8h0M37.3 164.5h0M36.4 208.8h0M36.6 200.9h0M38.0 231.9h0M38.9 197.3h0M38.0 229.1h0M36.9 194.1h0M37.5 198.8h0M38.1 161.6h0M38.0 160.3h0M36.9 149.0h0M39.3 229.6h0M37.0 187.1h0M39.7 204.0h0M39.0 233.3h0M38.8 212.0h0M39.5 147.7h0M37.5 195.9h0M38.4 169.6h0M37.8 232.3h0M37.4 152.1h0M38.5 210.3h0M38.3 218.0h0M36.3 175.4h0M36.9 167.1h0M38.8 215.0h0M36.5 230.0h0M37.5 149.2h0M37.5 206.2h0M37.4 201.0h0M37.8 225.9h0M37.4 228.8h0M36.5 163.9h0M38.9 196.0h0M37.1 190.6h0M37.9 192.8h0M39.3 189.9h0M38.7 225.2h0M38.1 233.6h0M37.2 165.3h0M37.8 235.3h0M37.7 210.2h0M37.8 220.7h0M37.7 168.1h0M38.6 212.8h0M37.7 234.9h0M36.2 162.3h0M39.1 219.9h0M36.4 187.4h0M36.6 222.6h0M38.5 168.4h0M37.1 184.6h0M37.2 172.1h0M37.8 223.7h0M37.8 173.8h0M39.0 169.4h0M37.1 174.4h0M38.7 164.5h0M37.5 148.2h0M38.6 153.2h0M36.3 187.2h0M36.5 234.5h0M38.3 201.8h0M37.4 156.6h0M36.2 225.2h0M37.5 155.0h0M36.7 147.2h0M37.9 156.3h0M37.3 202.0h0M37.4 186.9h0M39.0 164.6h0M38.0 195.2h0M38.0 197.3h0M36.6 188.4h0M37.2 156.7h0M39.1 184.2h0M38.9 207.2h0M36.7 152.5h0M38.9 222.2h0M37.3 167.0h0M37.4 179.6h0M39.8 185.3h0M36.6 145.9h0M37.5 163.9h0M36.8 206.4h0M37.6 153.5h0M38.3 188.1h0M38.2 219.9h0M38.3 166.0h0M38.3 153.3h0M37.9 205.5h0M39.1 209.4h0M37.2 202.1h0M37.9 219.8h0M38.0 182.2h0M37.4 148.8h0M37.3 211.2h0M36.8 159.9h0M37.6 191.9h0M39.1 169.3h0M38.7 164.0h0M38.1 212.0h0M38.4 168.1h0M38.3 223.2h0M37.5 194.5h0M37.2 159.5h0M37.3 232.3h0M38.6 204.6h0M39.5 184.8h0M38.5 158.8h0M38.2 174.8h0M37.9 205.0h0"/><path d="M56.0 224.6h0M54.9 218.8h0M54.2 199.7h0M54.4 215.7h0M55.5 192.1h0M55.7 205.2h0M56.8 183.3h0M55.5 194.4h0M55.1 182.0h0M54.7 234.9h0M56.7 234.2h0M55.0 187.7h0M56.3 234.7h0M54.5 204.1h0M54.5 222.9h0M56.2 206.8h0M55.8 183.6h0M55.6 200.6h0M55.9 185.1h0M55.6 215.6h0M56.3 222.9h0M55.5 193.1h0M56.4 184.1h0M54.2 206.5h0M53.6 193.9h0M56.4 208.1h0M55.9 192.6h0M55.4 210.9h0M56.6 210.3h0M56.2 212.5h0M56.8 201.8h0M56.1 213.6h0M54.8 211.3h0M55.2 224.7h0M55.5 202.2h0M55.9 233.6h0M55.3 174.4h0M57.0 211.0h0M55.1 208.0h0M55.9 184.4h0M55.1 230.0h0M57.1 214.3h0M54.3 209.8h0M55.5 206.2h0M54.3 216.6h0M54.6 220.1h0M53.8 211.7h0M54.1 217.4h0M56.4 187.7h0M55.4 229.2h0M54.5 207.3h0M55.0 207.4h0M55.9 203.0h0M55.8 215.4h0M54.0 199.2h0M55.1 201.0h0M55.7 223.6h0M55.5 188.3h0M55.7 226.5h0M55.2 204.0h0M54.4 194.5h0M54.8 226.3h0M55.0 223.9h0M55.5 208.7h0M54.7 229.5h0M56.2 219.1h0M54.4 229.2h0M55.0 173.2h0M55.2 211.2h0M55.8 205.8h0M54.5 219.3h0M56.6 217.5h0M57.1 226.0h0M55.8 219.3h0M55.5 235.5h0M54.5 221.8h0M55.4 230.5h0M55.6 208.9h0M55.2 218.0h0M55.7 206.3h0M56.3 223.1h0M55.5 189.4h0M54.2 208.6h0M56.2 206.8h0M54.8 229.9h0M55.9 230.2h0M54.2 219.3h0M56.1 215.9h0M56.3 233.2h0M54.4 205.3h0M55.5 205.8h0M53.3 226.8h0M56.0 219.0h0M55.0 186.2h0M55.2 184.7h0M55.7 184.7h0M55.0 189.5h0M56.3 212.8h0M57.1 216.1h0M55.6 209.2h0M55.8 231.6h0M55.2 185.3h0M53.6 209.2h0M55.9 190.7h0M55.3 224.4h0M55.2 200.7h0M54.4 233.7h0M55.3 225.1h0M55.9 189.4h0M55.2 194.6h0M57.3 195.8h0M55.9 203.3h0M54.5 188.1h0M55.4 209.7h0M55.3 181.9h0M54.4 215.1h0M56.3 233.6h0M55.1 200.5h0M54.6 220.8h0M56.4 218.8h0M54.4 191.0h0M54.8 235.6h0M55.6 217.6h0M54.9 219.0h0M55.5 234.4h0M55.7 214.8h0M54.5 218.4h0M55.0 197.1h0M54.5 181.8h0M55.2 216.6h0M55.6 203.1h0M55.5 215.2h0M55.8 190.5h0"/><path d="M54.4 185.3h0M55.0 232.5h0M55.0 200.3h0M54.8 217.1h0M55.6 210.6h0M54.7 226.0h0M56.5 208.5h0M53.7 216.1h0M53.8 217.3h0M57.7 216.3h0M56.1 195.9h0M56.3 209.6h0M55.4 201.5h0M56.6 225.6h0M54.7 206.4h0M55.5 174.8h0M57.0 190.2h0M54.6 190.3h0M55.9 231.1h0M55.8 223.7h0M56.3 214.0h0M54.7 230.1h0M54.8 226.7h0M56.4 221.2h0M56.1 225.5h0M55.5 230.1h0M55.8 203.7h0M55.4 209.2h0M55.4 206.3h0M54.8 229.0h0M55.5 211.6h0M55.3 190.1h0M55.6 213.1h0M57.7 195.4h0M57.2 208.4h0M55.4 208.2h0M56.5 208.2h0M55.6 200.1h0M55.3 202.7h0M54.9 186.0h0M56.0 210.5h0M57.0 188.2h0M55.4 184.2h0M54.6 215.6h0M55.4 188.3h0M55.5 194.7h0M56.6 219.5h0M55.1 220.1h0M55.3 219.7h0M56.7 203.5h0M56.8 225.8h0M55.7 232.2h0M55.4 192.7h0M55.3 213.4h0M54.9 192.0h0M55.2 205.7h0M55.5 212.1h0M57.2 181.5h0M55.4 182.6h0M55.3 219.8h0M54.5 200.7h0M56.7 185.5h0M56.0 191.6h0M56.2 188.5h0M55.1 176.2h0M55.8 231.3h0M54.2 173.7h0M54.7 222.3h0M56.1 189.9h0M55.7 185.8h0M54.6 180.1h0M55.5 199.8h0M55.3 201.6h0M54.1 228.4h0M54.9 216.9h0M53.7 224.0h0M57.7 235.3h0M55.8 212.9h0M56.0 223.1h0M55.4 209.8h0M56.7 200.2h0M56.6 235.8h0M55.1 187.4h0M55.4 180.4h0M55.5 205.7h0M55.1 206.9h0M56.5 215.4h0M53.5 193.2h0M55.8 211.7h0M55.9 186.1h0M56.0 212.5h0M55.8 216.8h0M56.2 190.7h0M54.8 189.9h0M53.9 224.9h0M55.8 228.9h0M57.7 191.4h0M56.2 221.0h0M56.5 227.8h0M55.3 200.9h0M56.1 219.2h0M56.5 226.1h0M56.7 197.8h0M54.8 214.6h0M56.4 198.9h0M54.9 206.0h0M56.1 191.1h0M56.3 190.2h0M55.5 184.9h0M56.3 219.7h0M54.5 222.3h0M55.8 181.0h0M55.3 192.7h0M56.3 204.4h0M54.6 206.7h0M55.3 187.8h0M55.1 219.5h0M55.3 206.6h0M54.9 215.6h0M55.5 204.4h0M56.0 214.9h0M56.8 196.0h0M55.2 202.4h0M54.2 220.9h0M55.8 189.3h0M55.9 190.3h0M56.3 195.6h0M55.4 187.9h0M55.4 183.2h0M54.7 218.8h0M56.6 223.0h0M55.7 188.4h0M55.2 213.1h0"/><path d="M54.4 222.4h0M55.8 214.9h0M55.0 220.8h0M54.7 201.8h0M55.3 216.0h0M55.3 194.3h0M54.8 215.3h0M53.4 214.5h0M56.9 225.3h0M56.0 224.7h0M54.0 227.8h0M56.5 188.8h0M55.9 211.8h0M54.6 210.1h0M54.8 209.7h0M55.7 207.9h0M56.9 199.2h0M55.6 193.4h0M54.8 228.1h0M55.8 213.9h0M53.9 209.3h0M54.3 202.1h0M57.0 232.9h0M56.1 207.7h0M55.2 207.8h0M55.4 213.7h0M54.1 233.6h0M56.0 212.2h0M57.1 188.1h0M55.9 182.6h0M56.1 209.9h0M54.3 200.8h0M55.4 197.9h0M54.5 196.8h0M53.1 194.3h0M56.5 213.3h0M57.4 202.0h0M55.9 206.6h0M55.2 211.9h0M55.4 222.9h0M54.5 227.3h0M55.2 221.0h0M55.1 203.2h0M57.1 185.4h0M55.6 209.1h0M55.6 226.9h0M56.6 192.3h0M56.9 195.0h0M55.6 204.6h0M55.7 181.5h0M56.5 216.6h0M54.9 188.6h0M55.0 215.6h0M53.6 228.6h0M55.3 221.8h0M55.8 209.3h0M56.3 209.4h0M56.0 205.9h0M55.4 215.6h0M55.3 206.3h0M54.9 221.7h0M55.8 208.6h0M53.1 208.4h0M55.0 209.3h0M55.2 217.9h0M55.7 190.6h0M55.4 181.4h0M55.6 204.8h0M54.7 204.8h0M53.6 228.5h0M57.5 229.6h0M54.2 191.8h0M54.8 234.3h0M56.4 214.7h0M55.3 191.0h0M55.1 195.3h0M53.7 214.3h0M54.9 197.6h0M54.3 192.6h0M56.0 230.4h0M56.6 221.2h0M54.5 212.5h0M56.4 181.9h0M57.1 195.5h0M55.7 218.8h0M55.3 181.8h0M55.2 183.5h0M56.9 223.6h0M55.4 217.7h0M55.7 205.5h0M55.5 220.3h0M54.0 190.6h0M54.3 224.4h0M55.3 214.8h0M56.0 208.0h0M55.3 207.7h0M56.0 193.0h0M55.2 220.7h0M55.5 196.7h0M54.3 178.1h0M54.7 189.1h0M57.2 207.1h0M54.1 183.3h0M55.0 210.0h0M56.0 228.9h0M54.6 192.1h0M55.2 187.6h0M56.7 223.6h0M54.3 221.6h0M56.0 234.3h0M55.0 207.9h0M55.4 197.7h0M54.0 180.2h0M54.1 206.2h0M56.7 233.0h0M54.5 235.6h0M57.7 208.3h0M55.0 194.7h0M54.4 216.6h0M55.0 218.0h0M55.1 185.2h0M55.0 188.9h0M55.7 201.4h0M56.4 220.8h0M55.4 219.1h0M56.1 213.9h0M56.6 181.4h0M56.2 209.7h0M56.1 195.9h0M54.5 209.5h0M55.8 218.8h0M55.5 189.8h0M56.6 187.2h0"/></g></g><g><rect x="98" y="136.3" width="58.1" height="104.7" fill="none" stroke="#999" stroke-width="0.8"/><line x1="95.8" y1="142" x2="98" y2="142" stroke="#777" stroke-width="0.5"/><text transform="translate(93.7,142) rotate(-90)" class="tl">3.0</text><line x1="95.8" y1="157.8" x2="98" y2="157.8" stroke="#777" stroke-width="0.5"/><text transform="translate(93.7,157.8) rotate(-90)" class="tl">2.5</text><line x1="95.8" y1="173.5" x2="98" y2="173.5" stroke="#777" stroke-width="0.5"/><text transform="translate(93.7,173.5) rotate(-90)" class="tl">2.0</text><line x1="95.8" y1="189.3" x2="98" y2="189.3" stroke="#777" stroke-width="0.5"/><text transform="translate(93.7,189.3) rotate(-90)" class="tl">1.5</text><line x1="95.8" y1="205.1" x2="98" y2="205.1" stroke="#777" stroke-width="0.5"/><text transform="translate(93.7,205.1) rotate(-90)" class="tl">1.0</text><line x1="95.8" y1="220.9" x2="98" y2="220.9" stroke="#777" stroke-width="0.5"/><text transform="translate(93.7,220.9) rotate(-90)" class="tl">0.5</text><line x1="95.8" y1="236.8" x2="98" y2="236.8" stroke="#777" stroke-width="0.5"/><text transform="translate(93.7,236.8) rotate(-90)" class="tl">0.0</text><text transform="translate(84.2,188.65) rotate(-90)" class="yt">Expression - log<tspan font-size="2.6" dy="0.8">2</tspan><tspan dy="-0.8">(TPM + 1)</tspan></text><line x1="127.05" y1="241" x2="127.05" y2="242.6" stroke="#777" stroke-width="0.5"/><text x="127.05" y="249.5" class="xl">LUAD</text><text x="127.05" y="253.5" class="xl2">(num(T)=483; num(N)=347)</text><text x="129.1" y="261.7" class="nm">AQP6</text><rect x="110.7" y="225.3" width="14.8" height="11.6" fill="#f5565b" stroke="#b8505a" stroke-width="0.4"/><line x1="110.7" y1="233.2" x2="125.5" y2="233.2" stroke="#6a1414" stroke-width="0.8"/><line x1="110.7" y1="236.6" x2="125.5" y2="236.6" stroke="#6a1414" stroke-width="0.6"/><rect x="128.5" y="230.9" width="14.5" height="6" fill="#5e5e5e" stroke="#555" stroke-width="0.4"/><line x1="128.5" y1="234" x2="143" y2="234" stroke="#1e1e1e" stroke-width="0.8"/><line x1="128.5" y1="236.6" x2="143" y2="236.6" stroke="#1e1e1e" stroke-width="0.6"/><g fill="none" stroke="#111" stroke-opacity="0.6" stroke-width="0.9" stroke-linecap="round"><path d="M119.0 226.3h0M119.3 229.5h0M117.6 172.9h0M118.4 234.4h0M118.3 195.7h0M119.0 182.6h0M118.5 228.2h0M117.7 227.6h0M117.1 232.1h0M118.0 225.6h0M116.9 236.7h0M117.5 216.6h0M117.2 212.1h0M117.3 221.2h0M117.8 216.4h0M117.6 187.4h0M118.1 229.0h0M115.8 232.6h0M119.2 216.0h0M119.4 206.7h0M117.3 232.4h0M118.1 160.9h0M116.0 205.7h0M118.7 213.1h0M118.6 234.2h0M119.1 236.6h0M118.9 231.6h0M117.6 212.0h0M117.9 225.6h0M118.8 216.5h0M118.1 174.4h0M119.1 206.6h0M118.9 215.9h0M117.9 226.9h0M118.2 219.3h0M118.5 232.6h0M118.3 162.6h0M118.4 217.0h0M118.8 226.3h0M118.4 214.2h0M118.4 165.4h0M118.0 230.1h0M119.9 230.1h0M119.5 232.2h0M118.6 230.3h0M117.7 233.6h0M118.0 217.3h0M117.7 217.2h0M117.4 227.6h0M118.4 235.7h0M117.3 150.0h0M117.7 225.6h0M118.5 216.6h0M118.6 227.8h0M117.4 223.9h0M118.7 214.9h0M116.8 233.4h0M118.4 231.1h0M117.3 184.4h0M118.6 236.6h0M117.2 226.5h0M118.6 220.4h0M119.3 220.7h0M117.7 231.7h0M118.9 175.3h0M120.4 232.0h0M117.7 225.8h0M117.2 220.4h0M116.9 193.8h0M119.2 218.9h0M116.5 204.5h0M117.4 232.7h0M118.9 196.0h0M117.9 226.1h0M118.7 206.8h0M118.5 225.5h0M119.5 231.0h0M117.4 187.3h0M116.1 233.1h0M119.0 236.7h0M118.0 211.3h0M118.9 235.5h0M119.2 216.3h0M118.4 235.1h0M117.8 236.1h0M117.5 205.1h0M117.6 233.2h0M119.2 202.1h0M118.8 227.3h0M118.6 226.3h0M116.4 177.9h0M116.9 227.7h0M118.3 213.5h0M120.4 175.2h0M117.2 236.0h0"/><path d="M118.8 232.2h0M118.4 221.4h0M117.2 213.5h0M116.5 227.8h0M116.6 236.2h0M116.5 219.9h0M117.3 225.5h0M118.7 192.7h0M118.5 219.1h0M118.5 234.5h0M117.8 212.2h0M116.3 199.8h0M118.3 233.5h0M117.2 225.8h0M118.0 169.7h0M117.5 227.4h0M119.4 193.6h0M117.9 217.5h0M118.5 230.6h0M117.4 175.5h0M117.2 201.8h0M119.4 234.4h0M117.5 217.9h0M118.0 226.1h0M118.1 221.2h0M117.9 198.7h0M116.5 234.8h0M118.2 226.7h0M117.6 210.5h0M117.4 226.2h0M119.6 230.6h0M116.8 211.0h0M117.9 230.6h0M117.1 198.4h0M116.7 198.5h0M119.1 236.8h0M117.4 232.1h0M118.8 211.8h0M118.7 227.9h0M118.9 218.7h0M118.3 192.1h0M117.3 236.6h0M118.1 209.8h0M117.5 235.4h0M116.9 217.8h0M118.8 223.6h0M118.1 206.9h0M116.9 217.9h0M116.8 169.6h0M118.8 217.3h0M118.2 219.9h0M117.5 217.9h0M117.5 229.4h0M118.2 208.0h0M118.7 172.9h0M116.5 217.8h0M117.5 229.0h0M118.8 235.1h0M119.0 227.7h0M117.8 227.8h0M118.6 233.6h0M116.9 205.0h0M117.6 230.8h0M118.0 213.9h0M117.5 234.7h0M120.1 236.1h0M116.0 236.6h0M118.1 209.0h0M117.8 225.2h0M119.5 230.1h0M116.3 230.0h0M117.7 234.8h0M116.8 222.0h0M118.5 226.5h0M119.1 167.1h0M119.6 209.6h0M117.9 233.8h0M119.0 206.2h0M118.4 228.5h0M116.6 197.5h0M119.0 215.5h0M117.6 228.2h0M117.0 195.4h0M118.2 187.2h0M120.4 223.5h0M119.1 224.0h0M117.3 212.4h0M117.8 233.7h0M118.9 200.7h0M118.8 229.7h0M118.3 193.6h0M118.6 231.6h0M118.3 156.0h0M119.8 225.5h0M119.2 228.4h0"/><path d="M116.2 205.4h0M118.3 226.7h0M117.9 207.9h0M117.0 192.9h0M118.2 227.8h0M118.9 230.6h0M116.7 214.9h0M119.8 171.2h0M117.7 214.8h0M118.3 235.8h0M117.2 226.7h0M118.0 231.0h0M117.6 226.4h0M117.1 225.4h0M118.5 219.8h0M117.5 206.9h0M118.6 227.3h0M117.3 232.9h0M117.4 226.7h0M118.6 226.8h0M116.6 236.8h0M119.0 232.6h0M119.2 231.7h0M118.4 232.3h0M118.7 203.8h0M117.1 211.3h0M118.6 188.8h0M119.5 236.9h0M117.0 209.9h0M117.2 222.8h0M117.7 232.9h0M120.3 213.7h0M117.5 230.1h0M118.1 236.9h0M117.2 199.5h0M117.3 223.7h0M118.2 190.4h0M118.5 195.9h0M117.4 208.1h0M119.8 226.7h0M117.6 228.9h0M117.4 182.5h0M117.6 227.4h0M118.4 176.1h0M118.6 156.5h0M118.2 207.2h0M118.2 230.6h0M118.7 209.4h0M117.8 226.5h0M120.4 215.1h0M118.6 210.3h0M117.7 152.7h0M117.6 236.1h0M117.0 207.6h0M117.8 180.8h0M118.0 236.8h0M118.7 230.5h0M117.7 229.3h0M118.5 229.6h0M118.4 157.4h0M117.8 233.6h0M118.5 188.6h0M117.6 233.8h0M118.6 232.2h0M118.5 181.5h0M118.6 226.3h0M119.1 233.0h0M118.8 181.3h0M119.3 228.5h0M119.7 186.0h0M118.5 207.9h0M118.6 230.2h0M117.9 216.8h0M118.6 234.1h0M118.1 161.9h0M118.6 226.8h0M117.6 226.6h0M119.6 229.2h0M116.7 206.8h0M119.8 234.6h0M119.2 162.7h0M117.1 218.9h0M117.0 226.7h0M118.4 197.7h0M118.8 210.4h0M119.0 235.1h0M118.8 200.5h0M119.9 232.1h0M118.0 232.7h0M119.5 236.5h0M117.8 232.6h0M118.6 229.4h0M117.3 157.5h0M117.4 232.5h0M118.9 232.5h0"/><path d="M134.5 200.5h0M136.5 234.6h0M134.4 230.7h0M134.6 236.1h0M134.4 235.7h0M135.6 230.0h0M134.7 236.7h0M136.5 232.7h0M134.9 235.2h0M134.8 231.1h0M134.9 229.6h0M136.5 232.1h0M135.8 224.9h0M134.7 218.5h0M137.4 231.0h0M135.8 210.0h0M135.6 224.1h0M134.0 224.2h0M135.7 230.6h0M135.1 223.0h0M134.7 230.6h0M135.3 230.4h0M135.2 218.3h0M136.1 234.3h0M136.1 233.9h0M135.7 233.1h0M135.1 234.1h0M135.0 230.3h0M136.3 233.9h0M136.2 232.5h0M135.8 204.0h0M135.3 218.0h0M135.1 216.4h0M137.1 234.5h0M135.2 218.0h0M136.0 236.2h0M136.2 235.2h0M136.4 208.1h0M134.5 231.4h0M134.5 213.2h0M135.7 236.5h0M134.7 225.6h0M136.1 224.5h0M136.5 230.6h0M137.0 218.1h0M136.5 236.5h0M136.7 236.8h0M136.0 235.0h0M135.3 233.8h0M136.4 236.4h0M135.0 235.7h0M135.3 232.6h0M134.6 230.1h0"/><path d="M134.9 227.5h0M135.4 217.8h0M136.1 216.5h0M138.0 207.5h0M136.2 234.5h0M136.7 216.4h0M135.2 224.2h0M136.8 235.9h0M135.5 223.2h0M134.2 235.8h0M135.4 233.8h0M137.6 236.0h0M136.4 230.4h0M136.2 219.2h0M136.0 230.4h0M134.9 234.5h0M136.9 225.2h0M135.3 230.8h0M136.8 236.6h0M135.2 218.6h0M135.4 225.4h0M134.6 231.9h0M137.5 233.0h0M136.2 229.3h0M135.4 235.2h0M135.8 236.0h0M135.9 233.0h0M135.1 213.2h0M136.1 230.9h0M135.1 201.5h0M135.1 234.6h0M137.4 231.4h0M135.1 230.8h0M136.4 230.1h0M137.3 225.2h0M135.1 229.3h0M134.8 231.4h0M136.2 227.7h0M136.9 232.1h0M136.0 228.6h0M138.1 227.2h0M135.9 236.6h0M136.2 221.7h0M135.4 231.8h0M134.6 234.9h0M137.0 233.8h0M134.7 232.2h0M133.6 218.0h0M135.2 236.6h0M135.8 233.5h0M134.8 236.0h0M136.1 232.0h0M134.8 230.2h0"/><path d="M136.9 231.4h0M137.2 201.9h0M134.8 223.2h0M135.4 210.4h0M136.0 217.9h0M134.0 230.2h0M135.2 235.4h0M137.3 234.8h0M135.6 235.2h0M136.0 230.2h0M134.7 234.0h0M136.3 234.0h0M137.3 219.7h0M136.5 211.0h0M137.1 232.6h0M135.3 231.0h0M135.5 205.9h0M136.1 228.9h0M137.1 231.5h0M133.9 233.7h0M135.1 236.0h0M134.8 219.7h0M134.9 234.1h0M134.8 231.1h0M137.2 230.7h0M135.9 235.3h0M134.0 236.2h0M135.3 234.4h0M135.9 232.8h0M135.7 235.3h0M134.3 234.5h0M136.1 217.1h0M135.5 233.0h0M137.2 164.7h0M136.6 232.7h0M136.5 228.7h0M136.9 233.5h0M134.4 231.2h0M136.5 236.5h0M137.4 232.9h0M135.1 236.9h0M134.4 200.7h0M134.5 230.1h0M136.1 233.3h0M136.4 231.0h0M134.8 232.4h0M136.7 236.7h0M135.8 227.8h0M135.3 224.6h0M134.8 219.4h0M136.4 234.6h0M136.9 233.8h0M134.2 230.8h0"/></g></g><g><rect x="180.5" y="136.3" width="56.8" height="104.3" fill="none" stroke="#999" stroke-width="0.8"/><line x1="178.3" y1="144.8" x2="180.5" y2="144.8" stroke="#777" stroke-width="0.5"/><text transform="translate(176.2,144.8) rotate(-90)" class="tl">6</text><line x1="178.3" y1="160.1" x2="180.5" y2="160.1" stroke="#777" stroke-width="0.5"/><text transform="translate(176.2,160.1) rotate(-90)" class="tl">5</text><line x1="178.3" y1="175.4" x2="180.5" y2="175.4" stroke="#777" stroke-width="0.5"/><text transform="translate(176.2,175.4) rotate(-90)" class="tl">4</text><line x1="178.3" y1="190.7" x2="180.5" y2="190.7" stroke="#777" stroke-width="0.5"/><text transform="translate(176.2,190.7) rotate(-90)" class="tl">3</text><line x1="178.3" y1="206" x2="180.5" y2="206" stroke="#777" stroke-width="0.5"/><text transform="translate(176.2,206) rotate(-90)" class="tl">2</text><line x1="178.3" y1="221.3" x2="180.5" y2="221.3" stroke="#777" stroke-width="0.5"/><text transform="translate(176.2,221.3) rotate(-90)" class="tl">1</text><line x1="178.3" y1="236.7" x2="180.5" y2="236.7" stroke="#777" stroke-width="0.5"/><text transform="translate(176.2,236.7) rotate(-90)" class="tl">0</text><text transform="translate(166.7,188.45) rotate(-90)" class="yt">Expression - log<tspan font-size="2.6" dy="0.8">2</tspan><tspan dy="-0.8">(TPM + 1)</tspan></text><line x1="208.9" y1="240.6" x2="208.9" y2="242.2" stroke="#777" stroke-width="0.5"/><text x="208.9" y="249.1" class="xl">LUAD</text><text x="208.9" y="253.1" class="xl2">(num(T)=483; num(N)=347)</text><text x="210.4" y="261.3" class="nm" font-style="italic">AQP7</text><line x1="200.4" y1="162.4" x2="200.4" y2="200.4" stroke="#888" stroke-width="0.35"/><line x1="197.1" y1="162.4" x2="203.7" y2="162.4" stroke="#666" stroke-width="0.45"/><rect x="193.1" y="236.25" width="14.6" height="1.2" fill="#666"/><rect x="193.1" y="200.4" width="14.6" height="27" fill="#f5565b" stroke="#b8505a" stroke-width="0.4"/><line x1="193.1" y1="214.2" x2="207.7" y2="214.2" stroke="#6a1414" stroke-width="0.8"/><line x1="217.9" y1="184.8" x2="217.9" y2="205.7" stroke="#888" stroke-width="0.35"/><line x1="214.6" y1="184.8" x2="221.2" y2="184.8" stroke="#666" stroke-width="0.45"/><rect x="210.6" y="236.25" width="14.6" height="1.2" fill="#666"/><rect x="210.6" y="205.7" width="14.6" height="13.6" fill="#7a7a7a" stroke="#555" stroke-width="0.4"/><line x1="210.6" y1="213" x2="225.2" y2="213" stroke="#1e1e1e" stroke-width="0.8"/><g fill="none" stroke="#111" stroke-opacity="0.6" stroke-width="0.9" stroke-linecap="round"><path d="M201.9 205.8h0M199.9 214.9h0M199.6 191.2h0M198.8 219.1h0M199.4 222.2h0M201.2 192.7h0M201.8 206.8h0M198.4 222.5h0M200.7 226.0h0M201.3 201.3h0M201.3 204.6h0M200.7 230.8h0M200.5 225.7h0M200.1 165.6h0M200.4 227.0h0M199.4 213.0h0M200.0 233.0h0M200.8 181.2h0M201.6 210.8h0M200.7 214.0h0M199.6 219.5h0M200.3 212.8h0M200.7 233.4h0M200.7 189.4h0M200.4 200.4h0M201.0 194.7h0M199.9 195.1h0M201.6 227.4h0M200.7 208.1h0M200.5 193.8h0M200.8 233.3h0M198.2 220.1h0M199.2 216.6h0M201.9 232.7h0M200.5 187.4h0M200.9 222.8h0M200.2 224.0h0M200.4 221.6h0M200.1 177.5h0M200.2 220.2h0M200.2 225.0h0M199.5 193.2h0M200.6 189.0h0M201.2 201.8h0M201.6 222.0h0M198.7 234.9h0M199.8 204.2h0M200.1 203.4h0M199.1 229.9h0M202.1 188.5h0M198.5 195.4h0M200.9 211.2h0M201.6 230.9h0M201.0 188.7h0M201.3 191.8h0M199.6 167.8h0M201.1 228.0h0M201.3 185.7h0M202.3 189.6h0M200.1 190.0h0M201.7 200.2h0M200.4 223.4h0M200.5 183.6h0M201.2 222.2h0M201.2 234.7h0M202.0 199.3h0M200.0 211.2h0M200.6 192.2h0M201.0 233.3h0M201.1 197.6h0M200.0 204.7h0M200.7 211.7h0M199.3 185.8h0M198.8 224.5h0M200.9 210.2h0M200.3 166.8h0M200.1 192.9h0M201.2 203.3h0M200.8 195.8h0M199.7 220.6h0M200.3 204.1h0M200.3 192.8h0M199.6 197.4h0M200.4 146.6h0M199.9 208.8h0M200.9 182.8h0M199.4 194.0h0M201.4 213.3h0M198.1 189.9h0M199.7 171.0h0M200.3 233.6h0M200.2 213.2h0M199.4 204.8h0M199.5 190.6h0M200.4 189.8h0M200.4 201.1h0M199.9 232.6h0M201.2 226.4h0M200.8 197.0h0M200.3 220.5h0M200.8 202.4h0M200.1 207.1h0M200.3 227.6h0M200.0 193.6h0M200.7 204.8h0M201.1 212.0h0M200.7 188.9h0M200.3 203.8h0M200.8 231.6h0M201.3 226.7h0M201.3 181.4h0M199.5 232.6h0M200.1 214.4h0M200.3 230.6h0M201.9 186.1h0M200.6 233.4h0M198.8 185.1h0M200.1 202.7h0M201.1 193.4h0M199.7 224.5h0M200.2 188.5h0M199.5 218.7h0M200.7 183.1h0M200.5 216.9h0M200.9 196.4h0M199.2 170.7h0M199.1 175.3h0M199.4 228.3h0M200.4 209.9h0M202.7 223.0h0M200.9 233.0h0M199.4 224.3h0M199.9 211.1h0M200.4 189.1h0M199.6 166.7h0M199.1 209.5h0M200.7 200.6h0"/><path d="M200.3 232.6h0M200.2 218.3h0M200.1 186.3h0M199.6 235.6h0M198.9 167.7h0M199.6 223.5h0M199.7 217.1h0M200.3 201.6h0M202.3 205.6h0M199.5 229.1h0M201.2 199.6h0M199.8 182.0h0M200.7 192.4h0M198.4 234.1h0M200.5 211.1h0M200.6 230.4h0M201.2 212.3h0M200.8 227.2h0M198.1 210.6h0M200.8 230.4h0M199.5 222.4h0M200.1 206.7h0M199.4 183.6h0M201.2 229.8h0M199.4 201.1h0M201.0 170.1h0M201.9 185.6h0M201.2 199.4h0M199.5 227.9h0M202.6 227.7h0M198.8 191.1h0M201.1 224.5h0M201.1 234.4h0M200.0 184.9h0M202.1 195.7h0M199.1 228.1h0M200.6 180.0h0M202.1 169.3h0M201.3 173.7h0M199.7 223.7h0M199.4 190.6h0M200.6 186.6h0M199.7 171.9h0M201.3 163.6h0M201.3 197.5h0M200.8 190.1h0M200.5 225.7h0M200.2 212.6h0M199.1 202.3h0M201.7 221.7h0M201.7 201.3h0M201.3 173.4h0M200.9 220.8h0M200.0 177.2h0M199.3 164.1h0M199.7 169.6h0M201.9 225.9h0M200.8 198.2h0M199.0 209.9h0M201.8 196.1h0M199.4 228.8h0M201.8 197.7h0M200.2 221.5h0M201.3 226.0h0M199.6 231.8h0M200.5 204.0h0M202.1 195.8h0M200.9 185.7h0M201.6 201.5h0M201.0 180.0h0M200.5 210.2h0M198.6 186.5h0M200.5 208.3h0M200.4 209.4h0M200.3 169.9h0M199.3 170.1h0M201.0 206.3h0M199.2 206.0h0M202.0 182.9h0M200.7 217.3h0M200.8 235.9h0M200.1 185.7h0M200.4 208.4h0M200.9 197.6h0M199.8 215.3h0M201.8 198.4h0M199.7 203.7h0M202.5 217.7h0M202.3 231.9h0M200.4 217.0h0M199.7 193.9h0M202.2 211.7h0M200.0 201.4h0M200.4 224.9h0M199.5 187.5h0M200.8 213.1h0M199.4 201.6h0M199.8 223.3h0M201.1 220.3h0M200.2 232.7h0M198.6 214.6h0M201.6 189.0h0M201.4 228.8h0M199.9 210.9h0M201.5 196.1h0M201.3 212.7h0M199.5 214.5h0M200.2 213.6h0M201.9 192.4h0M201.2 210.6h0M200.1 181.3h0M201.6 202.2h0M200.0 194.9h0M202.3 181.7h0M201.4 197.1h0M199.8 209.8h0M201.4 206.3h0M200.1 203.8h0M200.0 213.7h0M200.2 205.1h0M201.0 213.8h0M200.3 190.8h0M200.5 218.3h0M198.9 234.9h0M200.4 200.0h0M201.2 200.3h0M199.8 181.3h0M199.5 224.3h0M199.7 177.8h0M199.9 220.0h0M200.9 192.4h0M201.8 225.1h0M199.5 212.5h0M199.5 233.4h0M200.3 197.0h0M199.6 196.5h0"/><path d="M201.1 231.0h0M199.7 226.8h0M201.4 201.1h0M199.2 189.2h0M199.7 202.3h0M200.0 233.5h0M199.2 229.3h0M200.2 217.2h0M198.5 219.8h0M201.7 231.3h0M201.3 200.2h0M200.1 199.2h0M198.4 167.1h0M199.9 231.0h0M200.6 213.4h0M202.4 182.8h0M200.2 232.1h0M201.1 215.0h0M199.1 226.8h0M200.8 202.4h0M199.1 187.2h0M200.8 227.8h0M202.3 207.7h0M201.5 190.6h0M201.3 203.2h0M200.5 204.3h0M201.1 171.6h0M200.1 171.8h0M201.8 197.5h0M200.5 229.7h0M200.2 213.2h0M201.1 200.8h0M202.7 165.1h0M202.5 164.0h0M200.3 178.8h0M200.5 220.3h0M201.0 210.8h0M200.3 214.8h0M201.0 201.8h0M199.9 230.0h0M201.7 191.9h0M201.1 211.2h0M201.8 190.6h0M200.0 191.0h0M199.3 180.0h0M200.2 185.3h0M200.7 166.2h0M200.5 223.2h0M201.0 181.2h0M200.5 190.2h0M200.1 198.5h0M199.5 195.3h0M200.5 219.6h0M200.8 209.0h0M201.7 221.1h0M200.7 226.8h0M200.5 235.7h0M200.3 207.0h0M200.6 216.9h0M201.0 216.6h0M199.6 202.2h0M200.4 224.8h0M200.2 212.5h0M199.7 214.3h0M199.6 199.1h0M199.5 209.5h0M200.1 198.1h0M199.7 224.3h0M200.2 179.8h0M201.1 224.6h0M201.0 211.5h0M199.5 200.0h0M199.6 214.6h0M201.4 216.1h0M200.2 228.5h0M200.5 177.8h0M199.9 172.8h0M201.1 227.1h0M199.7 212.2h0M200.7 170.9h0M201.3 232.5h0M200.7 191.1h0M200.7 219.8h0M199.7 216.9h0M199.1 199.6h0M201.5 235.1h0M201.4 217.4h0M200.7 232.9h0M200.8 192.6h0M200.1 228.9h0M201.1 212.9h0M201.3 222.7h0M198.7 204.3h0M201.4 198.4h0M199.1 194.1h0M199.1 206.1h0M200.0 179.6h0M200.3 192.5h0M199.0 198.7h0M200.9 193.7h0M201.4 193.9h0M200.9 232.9h0M198.3 171.1h0M199.5 191.1h0M199.8 203.9h0M200.7 193.9h0M200.7 218.7h0M201.6 222.8h0M201.8 193.3h0M200.1 234.0h0M198.8 180.6h0M201.4 220.9h0M202.3 196.1h0M199.8 186.6h0M200.2 173.5h0M200.0 227.9h0M200.6 220.3h0M199.1 207.0h0M199.3 201.2h0M199.2 190.4h0M200.5 165.1h0M200.2 228.3h0M199.7 233.7h0M198.5 177.4h0M200.3 166.8h0M201.2 234.6h0M199.5 194.5h0M200.2 230.7h0M202.7 216.7h0M200.9 181.5h0M200.4 209.8h0M201.5 200.8h0M199.8 190.6h0M201.2 234.1h0M201.4 194.7h0M201.5 186.5h0"/><path d="M216.4 218.0h0M217.6 191.6h0M217.8 224.0h0M216.8 208.9h0M217.4 194.7h0M218.4 218.9h0M217.8 208.7h0M217.5 194.8h0M219.0 216.9h0M218.7 195.5h0M217.7 190.8h0M218.4 193.3h0M217.5 198.4h0M217.4 202.9h0M218.1 220.8h0M217.1 229.3h0M218.5 214.0h0M218.1 191.8h0M218.4 233.2h0M217.6 191.4h0M216.6 207.0h0M217.3 206.8h0M217.8 206.4h0M219.0 233.0h0M217.8 216.5h0M217.2 215.3h0M218.3 203.1h0M218.1 219.7h0M218.1 192.1h0M217.2 216.3h0M217.7 230.0h0M219.4 194.0h0M218.2 199.4h0M218.1 192.2h0M219.0 215.8h0M218.0 203.6h0M217.6 215.2h0M217.5 217.1h0M216.9 185.1h0M218.7 219.2h0M218.2 216.5h0M218.9 190.7h0M216.9 196.8h0M218.0 193.5h0M217.8 211.4h0M217.2 193.2h0M217.9 222.5h0M218.8 212.4h0M218.3 205.0h0M219.1 215.0h0M219.3 213.8h0M217.9 213.4h0M217.9 206.4h0M219.9 214.1h0M218.4 210.9h0M218.9 193.5h0M218.4 198.8h0M216.9 218.3h0M216.1 230.0h0M217.6 213.3h0M218.9 214.8h0M218.3 226.3h0M218.4 205.7h0M220.2 185.5h0M217.9 225.8h0M218.0 218.1h0M216.6 206.4h0M216.7 218.1h0M220.2 225.5h0M218.4 219.0h0M217.8 200.6h0M218.1 217.6h0M218.5 201.3h0M218.8 230.0h0M218.7 197.0h0M219.0 200.4h0M217.4 206.4h0M218.8 190.4h0M216.8 207.2h0M217.1 219.0h0M217.9 187.2h0M217.8 205.7h0M218.2 228.7h0M218.6 193.2h0M217.4 197.3h0M218.2 197.6h0M218.9 223.8h0M218.2 226.5h0M217.6 191.7h0M219.9 218.9h0M219.1 189.6h0M219.6 209.1h0M218.5 226.6h0M218.2 208.2h0M217.9 216.0h0M218.0 185.4h0"/><path d="M219.1 189.5h0M217.7 218.8h0M216.9 206.9h0M219.3 216.3h0M219.3 213.9h0M218.1 211.3h0M216.4 193.5h0M219.0 200.7h0M219.3 199.0h0M218.4 193.9h0M218.5 215.3h0M218.1 191.0h0M218.6 214.2h0M216.5 221.5h0M217.9 219.9h0M218.6 216.5h0M217.3 193.0h0M218.0 218.3h0M218.0 197.6h0M217.0 218.4h0M219.6 208.5h0M217.8 217.7h0M218.9 198.1h0M218.3 199.3h0M217.8 214.1h0M218.1 201.3h0M218.8 188.6h0M216.9 216.0h0M216.6 189.8h0M219.6 212.8h0M218.4 199.7h0M219.7 217.5h0M218.3 215.8h0M218.3 192.9h0M217.4 198.3h0M218.5 214.6h0M218.5 226.3h0M218.0 216.3h0M218.1 196.1h0M217.1 189.8h0M219.3 214.6h0M218.4 210.7h0M218.2 185.0h0M216.9 211.7h0M218.2 199.8h0M218.6 219.2h0M217.9 213.8h0M218.4 223.0h0M218.3 213.2h0M217.1 211.9h0M219.0 225.9h0M217.7 205.2h0M219.2 193.1h0M218.3 207.8h0M217.2 206.0h0M216.6 218.2h0M217.3 189.7h0M218.1 214.7h0M220.0 196.6h0M219.8 230.6h0M218.7 219.3h0M215.7 209.7h0M217.0 206.0h0M219.1 212.2h0M217.3 187.5h0M217.3 193.1h0M216.8 214.6h0M217.9 225.3h0M218.5 232.3h0M218.1 228.3h0M217.3 187.7h0M216.7 219.0h0M217.6 226.6h0M217.6 223.4h0M218.7 191.9h0M218.4 209.3h0M218.6 206.5h0M216.9 219.1h0M216.6 202.6h0M219.5 213.1h0M217.9 219.6h0M218.4 207.1h0M216.9 206.8h0M217.9 219.0h0M217.7 210.8h0M216.2 194.7h0M216.9 208.9h0M218.2 233.7h0M218.5 210.8h0M219.3 196.6h0M219.2 209.7h0M218.3 225.8h0M217.0 186.4h0M217.9 217.1h0M217.0 204.8h0M217.9 218.8h0"/><path d="M216.1 190.5h0M217.2 200.1h0M216.9 233.2h0M217.4 213.5h0M217.4 226.1h0M219.1 207.2h0M216.6 218.3h0M218.1 217.2h0M216.9 228.2h0M218.7 210.7h0M217.5 215.5h0M219.8 213.5h0M218.3 208.3h0M217.7 209.2h0M219.3 232.0h0M218.4 191.2h0M218.1 215.8h0M218.4 218.4h0M217.9 226.8h0M216.9 190.8h0M218.2 206.1h0M218.2 194.2h0M217.8 208.6h0M219.3 196.6h0M218.1 187.7h0M218.0 212.8h0M219.1 208.1h0M216.8 190.0h0M218.1 214.7h0M219.3 227.0h0M217.7 205.0h0M218.2 217.1h0M219.2 217.1h0M217.5 188.6h0M218.4 199.9h0M216.9 210.7h0M218.7 210.4h0M217.5 189.4h0M217.1 215.0h0M218.1 185.3h0M218.2 194.5h0M219.1 206.4h0M218.9 216.1h0M217.8 230.6h0M218.0 197.1h0M219.5 214.6h0M217.2 219.9h0M218.8 211.7h0M216.5 229.6h0M216.8 209.3h0M218.7 201.1h0M218.0 190.7h0M219.2 220.9h0M218.3 213.2h0M219.0 225.1h0M218.0 214.5h0M218.9 228.1h0M218.5 218.6h0M217.8 221.7h0M219.3 210.7h0M216.0 217.2h0M218.5 190.2h0M219.2 216.3h0M218.2 208.5h0M218.2 188.5h0M216.5 210.9h0M216.6 214.0h0M217.9 225.5h0M218.6 218.4h0M217.8 187.0h0M217.1 196.3h0M217.1 202.8h0M216.8 205.5h0M217.2 221.4h0M218.0 185.4h0M217.1 189.5h0M217.0 214.3h0M217.3 223.2h0M218.6 225.1h0M219.3 216.1h0M218.9 218.2h0M218.3 211.2h0M217.0 211.4h0M217.8 212.6h0M219.2 216.5h0M218.6 202.3h0M219.0 230.1h0M216.0 219.7h0M219.6 226.5h0M218.1 217.6h0M216.3 206.1h0M217.7 214.8h0M218.1 200.3h0M217.7 192.3h0M218.2 227.1h0"/></g></g><g><rect x="262.2" y="135.7" width="56.2" height="104.6" fill="none" stroke="#999" stroke-width="0.8"/><line x1="260" y1="136.7" x2="262.2" y2="136.7" stroke="#777" stroke-width="0.5"/><text transform="translate(257.9,136.7) rotate(-90)" class="tl">2.0</text><line x1="260" y1="161.5" x2="262.2" y2="161.5" stroke="#777" stroke-width="0.5"/><text transform="translate(257.9,161.5) rotate(-90)" class="tl">1.5</text><line x1="260" y1="186.4" x2="262.2" y2="186.4" stroke="#777" stroke-width="0.5"/><text transform="translate(257.9,186.4) rotate(-90)" class="tl">1.0</text><line x1="260" y1="211.3" x2="262.2" y2="211.3" stroke="#777" stroke-width="0.5"/><text transform="translate(257.9,211.3) rotate(-90)" class="tl">0.5</text><line x1="260" y1="236" x2="262.2" y2="236" stroke="#777" stroke-width="0.5"/><text transform="translate(257.9,236) rotate(-90)" class="tl">0.0</text><text transform="translate(248.4,188) rotate(-90)" class="yt">Expression - log<tspan font-size="2.6" dy="0.8">2</tspan><tspan dy="-0.8">(TPM + 1)</tspan></text><line x1="290.3" y1="240.3" x2="290.3" y2="241.9" stroke="#777" stroke-width="0.5"/><text x="290.3" y="248.8" class="xl">LUAD</text><text x="290.3" y="252.8" class="xl2">(num(T)=483; num(N)=347)</text><text x="290.4" y="261" class="nm">AQP8</text><line x1="281.75" y1="224.4" x2="281.75" y2="231.1" stroke="#888" stroke-width="0.35"/><line x1="278.45" y1="224.4" x2="285.05" y2="224.4" stroke="#666" stroke-width="0.45"/><rect x="275" y="231.1" width="13.5" height="5" fill="#f5565b" stroke="#b8505a" stroke-width="0.4"/><line x1="275" y1="234" x2="288.5" y2="234" stroke="#6a1414" stroke-width="0.8"/><line x1="275" y1="235.8" x2="288.5" y2="235.8" stroke="#6a1414" stroke-width="0.6"/><rect x="292.2" y="235.65" width="13.8" height="1.2" fill="#666"/><rect x="292.2" y="221.5" width="13.8" height="9.5" fill="#626262" stroke="#555" stroke-width="0.4"/><line x1="292.2" y1="227.3" x2="306" y2="227.3" stroke="#1e1e1e" stroke-width="0.8"/><g fill="none" stroke="#111" stroke-opacity="0.6" stroke-width="0.9" stroke-linecap="round"><path d="M281.6 229.8h0M283.2 231.1h0M282.8 144.4h0M283.4 231.2h0M282.2 233.4h0M280.3 222.8h0M283.3 218.2h0M279.9 227.7h0M282.6 208.3h0M282.3 224.8h0M281.7 219.1h0M281.7 234.9h0M280.3 232.0h0M281.4 230.5h0M282.3 224.3h0M282.5 225.5h0M280.5 235.3h0M280.7 221.8h0M282.4 228.4h0M282.1 230.5h0M280.6 229.4h0M282.5 231.4h0M280.0 229.7h0M281.4 232.3h0M282.9 235.3h0M281.6 231.2h0M280.3 229.2h0M281.5 236.0h0M282.3 235.8h0M281.7 231.8h0M283.1 231.4h0M279.9 235.8h0M282.3 233.1h0M280.6 222.4h0M281.7 233.6h0M281.8 214.1h0M282.2 236.0h0M282.3 230.7h0M282.3 230.1h0M280.6 235.8h0M281.5 233.9h0M281.9 231.7h0M281.5 215.2h0M281.8 235.0h0M281.3 230.2h0M283.6 232.0h0M282.5 229.7h0M281.0 229.3h0M280.2 219.4h0M281.2 235.2h0M280.7 218.9h0M282.0 233.8h0M281.0 234.2h0M281.4 231.4h0M281.6 212.5h0M281.2 226.4h0M280.9 229.9h0"/><path d="M280.2 228.9h0M281.7 231.7h0M280.1 224.2h0M281.4 212.3h0M281.0 225.0h0M283.3 232.8h0M282.0 230.8h0M282.8 219.3h0M280.8 222.2h0M282.6 224.4h0M281.3 232.6h0M282.6 218.1h0M281.4 235.4h0M282.4 235.5h0M283.1 205.6h0M279.9 232.2h0M283.2 228.0h0M280.5 233.6h0M281.6 221.5h0M281.2 218.8h0M281.5 229.5h0M281.9 228.5h0M281.2 231.2h0M282.7 235.6h0M282.9 223.4h0M281.5 235.1h0M280.9 233.4h0M280.8 235.1h0M281.5 233.7h0M281.8 232.6h0M282.0 229.0h0M282.3 219.6h0M282.2 235.6h0M283.3 228.2h0M282.5 235.3h0M281.3 229.1h0M279.4 211.7h0M283.0 232.0h0M282.2 224.3h0M282.0 220.3h0M280.5 229.4h0M280.7 229.0h0M281.6 205.4h0M281.0 218.8h0M280.1 218.9h0M281.3 230.1h0M282.0 228.3h0M281.4 218.3h0M281.8 229.2h0M279.6 231.7h0M282.8 232.3h0M281.8 191.0h0M283.2 229.8h0M281.9 230.7h0M280.2 228.7h0M283.0 227.6h0M282.9 228.3h0"/><path d="M281.8 231.1h0M282.3 228.8h0M281.6 229.6h0M281.8 212.0h0M282.1 226.6h0M281.1 233.6h0M281.3 233.3h0M281.5 217.2h0M281.2 230.2h0M281.8 221.7h0M281.8 218.1h0M281.4 233.7h0M281.2 211.7h0M283.4 230.9h0M282.2 233.4h0M281.7 233.9h0M281.9 234.6h0M281.7 227.4h0M282.0 229.9h0M281.2 233.7h0M282.2 233.7h0M282.1 207.6h0M281.4 211.8h0M282.4 228.3h0M283.2 223.6h0M280.6 235.2h0M282.5 230.7h0M282.2 235.2h0M281.9 226.8h0M280.9 228.0h0M282.8 234.3h0M281.6 232.7h0M281.0 213.3h0M281.0 235.9h0M281.2 235.3h0M281.9 232.7h0M282.4 232.2h0M282.6 216.1h0M282.1 222.9h0M282.5 235.9h0M283.1 229.9h0M282.8 228.1h0M282.8 230.5h0M282.0 231.4h0M282.2 232.3h0M282.0 228.1h0M281.4 228.5h0M281.7 234.2h0M281.4 233.9h0M281.3 230.6h0M282.2 234.2h0M282.1 232.5h0M282.6 234.6h0M281.3 225.0h0M283.0 213.2h0M282.6 234.9h0M281.9 232.9h0"/><path d="M299.9 235.8h0M298.8 233.4h0M299.4 231.2h0M298.4 211.9h0M297.9 204.6h0M300.6 211.0h0M297.7 211.6h0M297.9 219.0h0M299.5 229.5h0M298.7 212.2h0M299.6 222.7h0M297.8 193.8h0M298.9 226.5h0M299.2 231.9h0M298.9 217.2h0M300.9 233.7h0M300.2 230.4h0M298.3 234.2h0M297.1 218.7h0M299.4 234.6h0M299.6 158.4h0M300.7 228.7h0M300.2 224.1h0M298.3 224.8h0M299.4 221.4h0M298.7 230.4h0M298.4 218.8h0M299.5 211.8h0M298.6 222.0h0M299.6 232.3h0M297.8 214.1h0M298.6 187.6h0M298.6 215.9h0M300.7 224.1h0M297.0 224.9h0M299.8 235.9h0M299.9 225.7h0M298.7 227.1h0M300.5 228.5h0M298.1 214.1h0M298.7 212.5h0M300.9 223.5h0M299.8 231.4h0M299.4 223.9h0M300.1 227.2h0M299.3 234.5h0M299.5 225.1h0M300.4 215.5h0M300.6 209.0h0M299.3 205.4h0M297.7 229.5h0M297.6 232.8h0M298.0 235.1h0M298.3 227.0h0M300.0 186.7h0M299.9 226.1h0M299.2 230.6h0M298.4 205.6h0M297.2 224.1h0M297.4 233.2h0M297.7 222.5h0M297.7 229.2h0M299.7 208.3h0M298.6 222.7h0"/><path d="M298.8 224.4h0M299.1 180.8h0M298.9 206.7h0M299.1 206.8h0M301.4 213.4h0M298.2 235.8h0M300.1 226.8h0M299.2 226.5h0M298.5 230.0h0M299.6 223.7h0M299.1 183.1h0M299.4 195.8h0M300.1 235.5h0M300.8 227.2h0M298.2 230.4h0M300.7 181.2h0M299.1 233.3h0M299.5 222.2h0M300.6 225.1h0M301.4 206.0h0M299.0 229.1h0M299.4 226.3h0M299.1 197.8h0M301.4 205.6h0M300.1 193.1h0M298.2 220.4h0M299.6 227.6h0M299.9 231.1h0M300.3 227.0h0M300.5 232.1h0M299.4 206.2h0M298.7 229.5h0M298.1 217.9h0M298.1 235.7h0M298.0 233.4h0M298.5 223.0h0M298.8 222.9h0M301.4 226.0h0M301.0 226.5h0M299.6 228.8h0M297.9 199.4h0M300.0 231.3h0M298.7 227.0h0M299.5 228.9h0M300.3 215.1h0M299.0 234.8h0M300.4 200.2h0M301.2 212.2h0M297.6 209.0h0M298.6 230.3h0M299.6 234.0h0M299.8 198.0h0M299.7 233.9h0M299.2 208.1h0M297.9 227.8h0M297.8 233.9h0M298.7 221.3h0M299.0 234.1h0M299.2 225.6h0M298.3 231.6h0M299.5 202.4h0M300.1 231.3h0M298.2 212.6h0"/><path d="M299.1 230.7h0M299.1 234.4h0M297.3 225.4h0M299.2 197.5h0M298.8 202.7h0M300.2 231.1h0M299.8 192.6h0M298.8 222.8h0M298.7 184.0h0M299.8 206.6h0M298.1 220.2h0M298.5 234.1h0M300.6 223.4h0M299.5 235.6h0M299.6 227.5h0M296.9 221.7h0M297.7 225.2h0M299.5 218.6h0M297.5 193.0h0M299.8 227.1h0M300.3 200.0h0M298.3 193.6h0M299.8 228.1h0M300.5 206.1h0M298.9 222.1h0M299.0 227.4h0M300.8 227.9h0M299.9 230.6h0M300.7 224.4h0M300.1 226.0h0M299.5 225.8h0M299.5 180.4h0M300.2 231.5h0M298.1 208.0h0M298.2 216.4h0M297.7 227.2h0M300.4 232.4h0M298.6 205.8h0M300.4 202.6h0M300.0 208.9h0M299.3 235.8h0M300.4 233.1h0M298.9 222.9h0M298.4 210.2h0M299.7 216.9h0M298.3 195.5h0M299.2 205.3h0M299.6 221.0h0M299.0 222.1h0M296.9 222.5h0M299.2 223.6h0M298.9 234.7h0M299.2 195.9h0M298.7 232.3h0M298.2 235.0h0M300.7 218.9h0M299.5 183.6h0M299.4 207.5h0M298.0 225.9h0M296.8 223.9h0M298.6 210.4h0M298.5 227.8h0M298.8 226.3h0"/></g></g><g><rect x="342.5" y="136.4" width="56.3" height="103.9" fill="none" stroke="#999" stroke-width="0.8"/><line x1="340.3" y1="146.6" x2="342.5" y2="146.6" stroke="#777" stroke-width="0.5"/><text transform="translate(338.2,146.6) rotate(-90)" class="tl">8</text><line x1="340.3" y1="168.9" x2="342.5" y2="168.9" stroke="#777" stroke-width="0.5"/><text transform="translate(338.2,168.9) rotate(-90)" class="tl">6</text><line x1="340.3" y1="191.2" x2="342.5" y2="191.2" stroke="#777" stroke-width="0.5"/><text transform="translate(338.2,191.2) rotate(-90)" class="tl">4</text><line x1="340.3" y1="213.5" x2="342.5" y2="213.5" stroke="#777" stroke-width="0.5"/><text transform="translate(338.2,213.5) rotate(-90)" class="tl">2</text><line x1="340.3" y1="235.8" x2="342.5" y2="235.8" stroke="#777" stroke-width="0.5"/><text transform="translate(338.2,235.8) rotate(-90)" class="tl">0</text><text transform="translate(328.7,188.35) rotate(-90)" class="yt">Expression - log<tspan font-size="2.6" dy="0.8">2</tspan><tspan dy="-0.8">(TPM + 1)</tspan></text><line x1="370.65" y1="240.3" x2="370.65" y2="241.9" stroke="#777" stroke-width="0.5"/><text x="370.65" y="248.8" class="xl">LUAD</text><text x="370.65" y="252.8" class="xl2">(num(T)=483; num(N)=347)</text><text x="374.2" y="261.1" class="nm">AQP9</text><line x1="361.7" y1="177.6" x2="361.7" y2="203" stroke="#888" stroke-width="0.35"/><line x1="358.4" y1="177.6" x2="365" y2="177.6" stroke="#666" stroke-width="0.45"/><rect x="354.5" y="236.25" width="14.4" height="1.2" fill="#666"/><rect x="354.5" y="203" width="14.4" height="17" fill="#f5565b" stroke="#b8505a" stroke-width="0.4"/><line x1="354.5" y1="211.8" x2="368.9" y2="211.8" stroke="#6a1414" stroke-width="0.8"/><line x1="379.45" y1="162.4" x2="379.45" y2="182.2" stroke="#888" stroke-width="0.35"/><line x1="376.15" y1="162.4" x2="382.75" y2="162.4" stroke="#666" stroke-width="0.45"/><line x1="379.45" y1="195.5" x2="379.45" y2="215.1" stroke="#888" stroke-width="0.35"/><line x1="376.15" y1="215.1" x2="382.75" y2="215.1" stroke="#666" stroke-width="0.45"/><rect x="372" y="236.25" width="14.9" height="1.2" fill="#666"/><rect x="372" y="182.2" width="14.9" height="13.3" fill="#646464" stroke="#555" stroke-width="0.4"/><line x1="372" y1="188.5" x2="386.9" y2="188.5" stroke="#1e1e1e" stroke-width="0.8"/><g fill="none" stroke="#111" stroke-opacity="0.6" stroke-width="0.9" stroke-linecap="round"><path d="M362.4 189.9h0M360.6 211.3h0M362.7 230.8h0M360.1 219.9h0M361.5 182.4h0M362.1 218.2h0M360.5 232.7h0M362.0 219.1h0M361.4 204.5h0M360.6 207.3h0M361.1 221.6h0M361.2 211.2h0M361.5 219.0h0M360.9 219.0h0M360.5 224.2h0M362.2 190.2h0M361.7 217.9h0M360.0 208.4h0M362.4 203.8h0M362.7 207.6h0M362.2 210.6h0M361.2 190.0h0M362.7 208.4h0M361.7 227.1h0M361.9 209.9h0M360.1 193.8h0M361.7 156.3h0M362.7 194.3h0M362.5 207.1h0M362.9 227.0h0M361.7 189.9h0M361.8 194.0h0M361.9 178.1h0M362.3 204.7h0M362.2 214.2h0M362.9 211.2h0M362.5 215.7h0M360.3 194.6h0M359.8 215.7h0M361.7 222.9h0M362.7 229.6h0M361.0 185.4h0M360.8 184.3h0M361.6 180.1h0M361.4 230.5h0M361.4 224.3h0M361.1 205.3h0M361.0 225.6h0M362.3 229.5h0M361.3 217.5h0M362.5 219.4h0M361.6 205.0h0M360.3 227.9h0M362.4 231.8h0M361.1 225.3h0M359.7 227.6h0M361.0 194.7h0M359.8 209.2h0M362.2 233.4h0M362.7 209.9h0M363.8 230.7h0M364.0 203.9h0M361.9 188.0h0M360.8 219.5h0M363.3 217.1h0M361.2 226.6h0M363.0 228.3h0M360.7 204.2h0M362.7 195.8h0M361.6 201.6h0M362.9 180.1h0M362.4 210.3h0M363.5 214.5h0M362.0 225.2h0M361.1 185.9h0M362.2 222.5h0M360.0 211.2h0M363.0 203.7h0M362.1 215.3h0M361.8 193.0h0M363.4 233.9h0M362.9 201.7h0M360.2 215.9h0M361.0 221.5h0M360.7 197.5h0M361.0 222.2h0M361.7 210.2h0M359.6 210.5h0M361.8 210.7h0M362.2 212.8h0M360.9 211.9h0M362.6 187.3h0M362.4 193.4h0M361.4 214.9h0M361.8 218.5h0M363.5 219.6h0M361.5 185.8h0M361.8 233.1h0M362.1 206.3h0M362.7 199.6h0M361.2 210.1h0M361.6 218.2h0M361.5 203.5h0M360.9 229.4h0"/><path d="M360.8 205.7h0M362.0 216.5h0M361.0 198.0h0M363.7 220.7h0M362.0 185.3h0M361.9 191.2h0M360.1 220.9h0M363.8 197.0h0M363.3 224.8h0M363.0 220.9h0M360.2 228.9h0M361.1 219.9h0M361.0 195.1h0M363.4 229.7h0M362.0 191.2h0M360.4 222.4h0M361.2 214.5h0M363.5 207.3h0M360.4 205.1h0M363.4 226.2h0M361.7 202.1h0M361.7 180.1h0M363.0 220.5h0M361.8 194.6h0M360.6 203.9h0M362.4 190.7h0M362.6 206.2h0M363.7 213.1h0M362.8 205.8h0M361.2 218.1h0M361.3 200.9h0M361.6 224.3h0M361.2 207.5h0M362.1 227.7h0M362.1 212.0h0M362.0 211.4h0M361.2 171.0h0M362.8 214.8h0M361.5 225.1h0M362.1 219.4h0M361.0 235.1h0M362.2 226.2h0M359.7 181.2h0M359.4 182.3h0M360.7 224.7h0M361.4 212.1h0M363.2 205.4h0M362.2 187.3h0M361.0 189.9h0M361.2 206.4h0M361.8 198.3h0M363.7 218.9h0M360.8 185.3h0M363.0 222.0h0M361.0 190.2h0M361.5 219.9h0M360.5 215.3h0M361.6 216.2h0M360.2 230.3h0M362.3 227.7h0M359.7 228.0h0M362.3 213.8h0M361.6 191.8h0M361.3 202.3h0M362.9 204.1h0M360.5 210.7h0M362.4 205.2h0M363.1 234.4h0M362.6 225.3h0M361.3 217.9h0M359.7 191.7h0M360.0 216.3h0M362.6 208.7h0M361.0 182.5h0M364.0 218.6h0M361.0 204.9h0M360.3 222.6h0M361.0 193.9h0M361.5 182.6h0M363.1 210.8h0M360.4 231.5h0M362.2 232.7h0M361.9 233.1h0M360.8 235.0h0M362.6 204.1h0M362.1 234.6h0M361.9 191.4h0M363.0 234.4h0M362.3 234.9h0M362.6 199.0h0M361.0 221.8h0M360.1 178.5h0M362.1 224.5h0M362.3 215.6h0M362.1 206.9h0M363.1 202.4h0M362.0 209.7h0M360.8 190.0h0M360.9 229.2h0M359.9 187.8h0M359.7 200.0h0M360.5 206.2h0M359.4 180.0h0M362.7 214.8h0"/><path d="M363.0 230.0h0M362.7 226.0h0M361.2 213.6h0M362.2 211.4h0M361.7 207.5h0M363.5 194.0h0M361.1 199.7h0M361.2 215.4h0M362.9 182.1h0M363.2 197.6h0M361.2 225.6h0M361.3 200.3h0M362.5 206.0h0M362.8 228.5h0M360.6 225.8h0M361.8 192.8h0M364.0 182.5h0M363.4 210.5h0M362.5 225.8h0M361.8 235.0h0M361.5 220.9h0M362.2 166.0h0M361.7 199.8h0M363.2 208.7h0M362.0 199.8h0M362.5 184.6h0M360.6 222.6h0M361.2 212.4h0M362.9 206.4h0M360.2 206.5h0M361.1 183.8h0M361.3 226.3h0M362.2 235.2h0M359.7 229.9h0M362.7 215.5h0M361.3 220.9h0M361.4 209.3h0M362.0 210.1h0M362.3 181.0h0M361.4 231.1h0M362.8 210.1h0M362.1 192.5h0M363.3 221.4h0M361.3 226.6h0M361.4 213.5h0M361.5 225.9h0M362.1 210.6h0M361.7 182.2h0M360.8 209.0h0M361.6 216.1h0M361.3 189.3h0M362.3 229.1h0M361.6 204.1h0M363.5 212.8h0M361.2 200.6h0M361.4 181.7h0M361.6 199.9h0M361.7 202.6h0M361.9 203.5h0M360.6 235.5h0M364.0 213.0h0M363.2 226.8h0M361.6 200.5h0M362.2 225.3h0M363.5 182.6h0M362.6 222.7h0M362.2 182.3h0M362.6 226.2h0M362.6 214.4h0M362.1 204.3h0M361.9 208.5h0M361.7 207.4h0M361.8 182.4h0M362.0 219.9h0M360.4 233.5h0M359.7 188.2h0M361.1 229.1h0M362.6 180.2h0M364.0 219.0h0M361.4 213.8h0M363.5 207.0h0M361.0 220.3h0M359.7 208.8h0M362.8 189.4h0M360.9 221.1h0M362.4 183.3h0M361.1 213.7h0M363.9 189.0h0M362.4 208.1h0M361.7 208.0h0M363.2 205.2h0M362.0 232.4h0M360.8 183.6h0M362.1 207.7h0M362.0 208.1h0M361.5 181.5h0M361.6 204.0h0M362.3 184.1h0M363.5 193.9h0M361.2 186.8h0M360.2 205.7h0M360.6 214.5h0M362.4 208.8h0M362.5 202.6h0"/><path d="M380.3 170.3h0M379.6 178.3h0M378.4 164.0h0M379.8 203.2h0M379.7 170.7h0M378.8 205.6h0M378.1 180.9h0M379.7 159.9h0M378.6 213.1h0M379.0 170.6h0M377.2 186.6h0M378.4 182.1h0M380.0 202.2h0M380.4 182.9h0M378.0 165.1h0M378.9 168.1h0M380.0 172.3h0M381.6 191.9h0M379.4 201.4h0M381.0 201.1h0M377.1 182.9h0M378.9 200.5h0M378.1 184.0h0M380.2 188.0h0M379.8 147.2h0M381.4 183.1h0M377.9 172.5h0M378.3 182.6h0M379.3 167.1h0M378.7 195.4h0M379.2 214.9h0M378.1 174.2h0M380.9 169.2h0M379.0 152.6h0M377.5 194.9h0M380.0 194.8h0M379.7 165.1h0M377.4 193.6h0M378.5 210.6h0M380.1 172.7h0M378.5 190.8h0M379.6 183.5h0M380.5 184.0h0M378.9 184.5h0M379.5 210.4h0M379.6 206.9h0M377.7 164.6h0M381.3 167.8h0M377.9 194.0h0M378.4 184.7h0M377.7 182.6h0M380.4 198.0h0M377.8 185.9h0M380.3 177.7h0M379.5 183.8h0M379.8 165.1h0M379.5 176.6h0M378.4 168.1h0M380.1 173.1h0M380.5 148.4h0M380.3 181.7h0M379.7 181.1h0M378.4 194.3h0M378.7 164.9h0M378.9 152.1h0M377.7 186.0h0M379.4 194.7h0M377.8 201.3h0M380.9 180.3h0M379.2 171.9h0M377.1 166.7h0M380.6 170.9h0M378.7 186.2h0M381.3 194.5h0M379.1 189.6h0M378.8 178.0h0M380.4 193.8h0M380.2 163.0h0M378.3 191.8h0M380.7 177.2h0M380.7 166.0h0M378.8 193.4h0M380.5 178.2h0M381.6 184.2h0M379.7 195.4h0M379.9 208.6h0M379.6 191.2h0M377.1 170.5h0M378.3 180.5h0M379.9 190.0h0M380.0 172.8h0M380.6 178.8h0M378.3 188.9h0M379.4 179.1h0M380.2 192.8h0M379.1 189.7h0"/><path d="M377.8 186.4h0M380.5 202.5h0M379.5 211.7h0M378.1 193.9h0M379.3 163.1h0M378.5 182.1h0M378.7 183.2h0M379.9 178.3h0M378.5 167.1h0M379.1 152.2h0M380.3 185.4h0M378.1 195.2h0M379.5 189.2h0M378.8 195.2h0M378.2 196.0h0M378.9 188.3h0M379.5 209.9h0M380.6 195.3h0M380.2 178.5h0M378.5 168.6h0M379.6 209.2h0M380.5 193.5h0M379.9 206.3h0M380.2 175.1h0M378.4 213.4h0M380.2 170.8h0M379.8 208.8h0M380.0 190.3h0M378.5 214.1h0M378.6 194.4h0M381.1 184.8h0M381.1 192.2h0M381.7 172.2h0M378.7 173.6h0M380.1 183.0h0M378.7 192.4h0M377.8 177.3h0M378.6 167.4h0M379.7 175.0h0M378.8 185.9h0M378.8 177.6h0M380.3 184.2h0M380.1 188.9h0M378.9 165.2h0M380.5 199.0h0M378.4 195.8h0M379.7 165.5h0M379.7 146.8h0M380.2 201.7h0M378.5 200.3h0M379.8 193.3h0M379.3 189.5h0M379.6 177.7h0M380.0 188.8h0M378.9 183.0h0M380.3 183.3h0M377.6 202.6h0M378.3 164.7h0M379.1 206.8h0M378.2 188.5h0M380.5 203.1h0M381.8 214.0h0M377.6 179.3h0M379.5 191.4h0M378.0 174.7h0M379.7 191.4h0M380.2 174.0h0M380.1 180.6h0M379.9 186.2h0M377.5 189.5h0M379.1 188.5h0M379.3 169.3h0M379.1 176.0h0M380.8 186.4h0M380.9 187.0h0M379.8 207.1h0M380.0 195.4h0M380.6 185.3h0M378.8 156.3h0M379.2 173.2h0M381.4 180.2h0M378.2 170.8h0M379.1 179.9h0M380.0 183.4h0M378.1 209.1h0M379.2 194.2h0M378.8 167.4h0M377.7 166.1h0M378.9 187.6h0M378.2 177.1h0M379.8 212.0h0M379.1 185.7h0M378.6 175.2h0M378.5 194.0h0M377.8 194.1h0M379.6 192.0h0"/><path d="M380.0 188.5h0M379.8 184.4h0M379.0 195.6h0M378.5 213.1h0M378.6 189.3h0M379.2 185.5h0M380.6 184.1h0M379.2 184.8h0M381.1 188.3h0M378.7 172.3h0M380.3 191.2h0M377.1 195.1h0M378.6 183.2h0M380.1 169.2h0M379.2 197.6h0M379.1 195.6h0M378.7 203.2h0M379.7 184.0h0M380.1 214.5h0M379.5 172.6h0M379.3 185.6h0M379.8 199.8h0M378.6 163.7h0M380.9 188.5h0M377.5 153.1h0M378.4 189.8h0M377.9 182.6h0M379.3 187.9h0M381.3 182.9h0M379.9 156.8h0M377.6 175.9h0M381.5 171.2h0M378.3 213.1h0M379.9 193.0h0M380.1 167.5h0M378.1 188.8h0M380.0 194.1h0M381.2 188.2h0M381.0 212.5h0M377.8 182.2h0M379.0 187.6h0M380.2 182.4h0M379.8 198.6h0M380.4 191.1h0M378.7 157.3h0M380.3 202.7h0M380.0 155.0h0M379.3 146.9h0M380.4 190.7h0M379.6 175.4h0M378.8 180.4h0M378.9 199.0h0M378.7 174.1h0M379.3 182.3h0M378.2 188.4h0M380.3 193.9h0M379.2 185.9h0M381.4 195.9h0M379.7 179.1h0M379.7 193.9h0M380.2 168.4h0M379.5 209.1h0M379.6 200.3h0M378.0 192.0h0M380.0 181.6h0M380.5 211.3h0M378.9 192.8h0M379.8 175.8h0M379.2 162.1h0M380.3 193.1h0M379.1 199.3h0M381.8 182.2h0M380.0 195.4h0M380.7 171.9h0M378.3 189.6h0M378.3 184.3h0M378.0 213.6h0M379.5 157.9h0M380.6 163.1h0M378.3 184.1h0M378.7 184.9h0M378.7 210.7h0M379.1 186.9h0M381.2 175.6h0M379.2 183.6h0M380.7 177.1h0M380.2 171.4h0M379.8 186.0h0M379.1 212.6h0M381.4 177.2h0M378.0 200.6h0M377.1 197.0h0M378.9 164.3h0M378.0 182.8h0M380.5 183.6h0M378.8 188.8h0"/></g><path d="M361.5,156V140H379.3V143" fill="none" stroke="#777" stroke-width="0.5"/><path d="M370.6,137.6v4.8M368.5,138.8l4.2,2.4M368.5,141.2l4.2,-2.4" stroke="#f06070" stroke-width="0.45" stroke-opacity="0.7"/><circle cx="370.6" cy="140" r="0.9" fill="#a04858"/></g><g><rect x="18.4" y="270" width="57" height="104.4" fill="none" stroke="#999" stroke-width="0.8"/><line x1="16.2" y1="270.8" x2="18.4" y2="270.8" stroke="#777" stroke-width="0.5"/><text transform="translate(14.1,270.8) rotate(-90)" class="tl">3.5</text><line x1="16.2" y1="285.2" x2="18.4" y2="285.2" stroke="#777" stroke-width="0.5"/><text transform="translate(14.1,285.2) rotate(-90)" class="tl">3.0</text><line x1="16.2" y1="299.6" x2="18.4" y2="299.6" stroke="#777" stroke-width="0.5"/><text transform="translate(14.1,299.6) rotate(-90)" class="tl">2.5</text><line x1="16.2" y1="314" x2="18.4" y2="314" stroke="#777" stroke-width="0.5"/><text transform="translate(14.1,314) rotate(-90)" class="tl">2.0</text><line x1="16.2" y1="328.3" x2="18.4" y2="328.3" stroke="#777" stroke-width="0.5"/><text transform="translate(14.1,328.3) rotate(-90)" class="tl">1.5</text><line x1="16.2" y1="342.6" x2="18.4" y2="342.6" stroke="#777" stroke-width="0.5"/><text transform="translate(14.1,342.6) rotate(-90)" class="tl">1.0</text><line x1="16.2" y1="356.9" x2="18.4" y2="356.9" stroke="#777" stroke-width="0.5"/><text transform="translate(14.1,356.9) rotate(-90)" class="tl">0.5</text><line x1="16.2" y1="370.6" x2="18.4" y2="370.6" stroke="#777" stroke-width="0.5"/><text transform="translate(14.1,370.6) rotate(-90)" class="tl">0.0</text><text transform="translate(4.6,322.2) rotate(-90)" class="yt">Expression - log<tspan font-size="2.6" dy="0.8">2</tspan><tspan dy="-0.8">(TPM + 1)</tspan></text><line x1="46.9" y1="374.4" x2="46.9" y2="376" stroke="#777" stroke-width="0.5"/><text x="46.9" y="383.1" class="xl">LUAD</text><text x="46.9" y="386.8" class="xl2">(num(T)=483; num(N)=347)</text><text x="45.6" y="393.7" class="nm">AQP10</text><rect x="31.2" y="367.8" width="14.1" height="3" fill="#b03040" stroke="#4a1a1a" stroke-width="0.4"/><line x1="31.2" y1="369.9" x2="45.3" y2="369.9" stroke="#200" stroke-width="0.8"/><line x1="55.9" y1="318.9" x2="55.9" y2="344.9" stroke="#888" stroke-width="0.35"/><line x1="52.6" y1="318.9" x2="59.2" y2="318.9" stroke="#666" stroke-width="0.45"/><rect x="48.8" y="369.75" width="14.2" height="1.2" fill="#666"/><rect x="48.8" y="344.9" width="14.2" height="17.4" fill="#7a7a7a" stroke="#555" stroke-width="0.4"/><line x1="48.8" y1="356.1" x2="63" y2="356.1" stroke="#1e1e1e" stroke-width="0.8"/><g fill="none" stroke="#111" stroke-opacity="0.6" stroke-width="0.9" stroke-linecap="round"><path d="M39.1 354.5h0M38.4 369.9h0M37.5 365.7h0M36.8 370.5h0M36.5 361.2h0M39.0 355.8h0M38.2 370.7h0M38.0 365.1h0M39.0 363.1h0M38.6 367.0h0M40.0 370.5h0M37.4 342.9h0M37.5 365.5h0M38.1 334.9h0M38.1 361.7h0M37.7 370.8h0M37.7 339.5h0M38.6 363.2h0M37.8 366.0h0M39.0 347.6h0M37.5 367.5h0M38.0 353.0h0M37.2 339.5h0M39.6 357.2h0M37.1 363.8h0M37.6 366.1h0M37.8 368.6h0M38.6 368.8h0M38.2 370.8h0M38.6 364.8h0M39.3 361.4h0M38.2 337.3h0M37.4 367.1h0M38.2 339.0h0M38.1 367.9h0M39.5 364.5h0M38.3 368.3h0M38.7 363.3h0M38.6 341.8h0M38.7 370.9h0M39.6 339.3h0M37.3 367.9h0M38.0 353.1h0M39.0 362.3h0M37.6 361.3h0M37.7 367.7h0M37.9 360.6h0M38.8 365.6h0M38.2 363.5h0M39.2 366.2h0"/><path d="M37.5 369.0h0M36.8 353.7h0M38.6 369.1h0M36.4 362.2h0M38.2 367.7h0M37.9 366.6h0M38.9 367.7h0M39.6 361.3h0M36.8 364.0h0M37.8 368.9h0M39.5 349.1h0M38.1 369.2h0M39.0 360.1h0M38.0 360.8h0M37.3 363.3h0M38.6 370.7h0M38.1 369.2h0M36.6 361.3h0M38.0 363.9h0M37.6 369.3h0M37.9 368.6h0M37.9 365.4h0M38.2 356.3h0M36.9 362.4h0M37.4 363.2h0M39.3 365.4h0M39.6 360.9h0M38.6 363.6h0M37.7 356.9h0M38.6 360.8h0M37.4 364.8h0M37.2 362.7h0M39.3 370.7h0M36.7 364.5h0M38.2 365.6h0M37.3 367.7h0M38.6 370.7h0M38.5 346.3h0M38.5 370.3h0M38.3 369.1h0M39.7 365.2h0M39.0 364.0h0M38.6 346.7h0M38.8 370.3h0M38.7 366.8h0M37.7 364.2h0M39.2 370.8h0M38.6 360.4h0M38.2 355.7h0M38.1 366.7h0"/><path d="M39.5 342.0h0M37.4 366.1h0M38.1 363.8h0M38.7 370.4h0M38.9 365.2h0M36.8 364.4h0M38.5 360.7h0M39.1 347.6h0M37.7 366.6h0M38.7 364.9h0M38.1 347.7h0M38.8 347.2h0M38.3 364.1h0M36.4 366.6h0M37.8 363.2h0M38.7 366.1h0M37.4 366.1h0M37.2 345.1h0M38.4 362.9h0M37.9 336.3h0M37.2 353.9h0M39.5 363.4h0M38.2 370.6h0M39.0 363.7h0M38.1 367.1h0M37.3 360.3h0M39.8 360.9h0M37.4 361.0h0M38.8 370.9h0M38.4 365.5h0M38.5 364.1h0M38.5 363.0h0M39.2 340.4h0M38.0 368.0h0M38.2 361.1h0M38.0 341.9h0M37.1 371.0h0M39.4 367.6h0M38.9 361.3h0M38.5 365.4h0M38.6 361.8h0M37.2 362.0h0M38.6 370.2h0M38.0 356.4h0M38.8 363.1h0M38.3 361.7h0M38.7 353.7h0M38.8 369.6h0M37.9 360.4h0M39.0 343.4h0"/><path d="M56.7 319.2h0M56.6 306.3h0M55.6 321.9h0M57.0 343.2h0M56.7 354.2h0M55.2 327.3h0M54.6 333.2h0M57.5 337.7h0M55.4 360.0h0M56.6 319.9h0M55.3 347.3h0M55.9 355.3h0M55.8 368.4h0M56.9 366.2h0M54.9 368.5h0M55.7 339.8h0M56.8 354.7h0M56.6 368.5h0M56.6 353.7h0M56.9 343.3h0M55.8 359.5h0M53.6 337.7h0M55.8 338.4h0M55.8 322.8h0M55.4 344.2h0M57.1 350.9h0M56.2 368.2h0M56.4 310.5h0M55.0 328.4h0M55.5 340.5h0M55.5 348.5h0M55.0 338.8h0M56.5 347.9h0M55.7 358.7h0M56.0 359.3h0M55.3 328.7h0M56.3 339.2h0M54.7 341.9h0M55.8 350.7h0M55.4 352.9h0M54.9 345.2h0M56.1 335.1h0M56.2 307.7h0M56.4 327.8h0M54.7 335.9h0M56.1 325.1h0M55.7 346.2h0M54.6 365.3h0M56.1 330.5h0M56.7 360.6h0M55.9 330.3h0M56.3 319.8h0M56.2 354.3h0M58.2 350.9h0M57.1 328.6h0M55.8 349.2h0M55.5 358.1h0M56.9 297.2h0M55.3 298.5h0M56.1 342.4h0M54.6 332.0h0M55.4 346.9h0M54.1 354.5h0M56.4 349.4h0M56.0 362.4h0M55.0 350.2h0M57.4 366.5h0M55.2 366.9h0M54.2 367.9h0M53.9 348.8h0M56.5 329.9h0M57.6 349.6h0M56.6 309.5h0M55.5 366.2h0M56.4 365.2h0M55.3 343.2h0M54.9 346.1h0M55.2 296.7h0M55.6 351.8h0M56.4 363.9h0M54.7 350.2h0M55.8 331.2h0M56.5 365.4h0"/><path d="M56.1 332.8h0M55.2 330.6h0M54.9 360.4h0M55.0 314.3h0M56.0 360.3h0M55.5 363.7h0M55.1 345.0h0M56.2 349.3h0M55.7 324.1h0M55.6 346.6h0M56.8 359.0h0M54.7 348.9h0M56.1 336.2h0M55.0 341.1h0M56.0 355.1h0M55.2 358.5h0M56.6 347.5h0M54.3 348.0h0M55.8 310.3h0M54.4 332.4h0M56.7 365.9h0M55.3 320.4h0M55.6 363.6h0M55.0 326.5h0M55.5 339.3h0M56.4 310.2h0M55.6 333.1h0M55.2 357.8h0M55.3 356.9h0M55.9 338.5h0M56.5 355.9h0M55.4 297.5h0M55.0 351.7h0M55.7 353.0h0M56.9 348.0h0M55.8 369.2h0M54.7 300.9h0M56.2 361.0h0M54.9 349.6h0M56.5 322.1h0M55.7 364.2h0M54.8 336.0h0M55.1 316.2h0M55.7 362.5h0M56.4 369.9h0M56.8 363.3h0M56.3 336.2h0M56.5 340.9h0M56.6 366.1h0M55.2 336.3h0M55.5 339.9h0M56.6 322.6h0M55.5 323.2h0M55.2 366.4h0M56.7 350.6h0M56.7 342.6h0M57.8 359.3h0M58.2 296.6h0M55.0 340.9h0M57.6 364.6h0M56.0 354.9h0M56.8 302.1h0M56.5 302.7h0M53.6 355.0h0M56.5 296.7h0M58.1 340.1h0M56.3 369.7h0M56.4 335.7h0M54.8 347.7h0M54.7 362.0h0M56.5 309.6h0M56.8 347.8h0M55.5 299.6h0M56.9 357.0h0M55.2 355.7h0M55.6 361.9h0M55.6 368.1h0M56.1 350.8h0M56.0 298.5h0M57.5 355.9h0M56.3 304.2h0M57.4 360.5h0M55.7 352.3h0"/><path d="M56.9 350.3h0M54.6 348.6h0M56.4 345.8h0M54.8 361.9h0M56.7 354.3h0M55.9 357.1h0M55.9 340.6h0M56.5 340.4h0M56.7 339.3h0M55.1 297.9h0M56.5 357.9h0M56.3 349.6h0M57.1 368.0h0M54.7 314.2h0M56.9 323.3h0M56.5 298.1h0M56.9 327.7h0M56.9 346.9h0M54.9 348.5h0M56.2 311.6h0M54.9 363.7h0M56.0 356.4h0M56.5 343.7h0M54.7 322.9h0M56.4 368.8h0M55.6 332.2h0M55.4 347.4h0M56.6 324.1h0M54.5 323.4h0M56.1 311.4h0M55.1 299.4h0M55.6 368.3h0M55.8 361.0h0M54.4 360.3h0M55.8 355.1h0M55.3 338.7h0M55.8 309.9h0M55.9 277.6h0M57.0 326.0h0M54.8 354.8h0M57.6 352.4h0M57.3 303.3h0M55.2 336.5h0M55.9 355.6h0M57.2 340.4h0M56.7 321.4h0M57.2 326.1h0M54.9 351.9h0M56.1 321.0h0M56.0 320.3h0M55.9 347.8h0M54.8 338.7h0M56.4 344.5h0M56.8 354.8h0M54.8 347.9h0M54.7 357.3h0M56.6 356.8h0M56.1 354.4h0M57.1 327.3h0M55.5 352.6h0M57.3 351.9h0M55.6 296.9h0M54.9 336.8h0M56.9 365.9h0M56.1 322.5h0M56.3 327.4h0M56.6 344.3h0M55.8 338.5h0M54.8 338.3h0M56.1 351.1h0M54.1 360.7h0M55.4 369.1h0M55.6 317.6h0M55.7 329.5h0M57.1 352.4h0M55.6 345.2h0M56.2 343.8h0M54.8 339.2h0M57.0 345.4h0M55.1 321.3h0M56.1 358.2h0M54.3 356.1h0M56.7 337.0h0"/></g></g><g><rect x="98.9" y="269.3" width="56.7" height="105.1" fill="none" stroke="#999" stroke-width="0.8"/><line x1="96.7" y1="286.5" x2="98.9" y2="286.5" stroke="#777" stroke-width="0.5"/><text transform="translate(94.6,286.5) rotate(-90)" class="tl">2.5</text><line x1="96.7" y1="303.2" x2="98.9" y2="303.2" stroke="#777" stroke-width="0.5"/><text transform="translate(94.6,303.2) rotate(-90)" class="tl">2.0</text><line x1="96.7" y1="319.9" x2="98.9" y2="319.9" stroke="#777" stroke-width="0.5"/><text transform="translate(94.6,319.9) rotate(-90)" class="tl">1.5</text><line x1="96.7" y1="336.6" x2="98.9" y2="336.6" stroke="#777" stroke-width="0.5"/><text transform="translate(94.6,336.6) rotate(-90)" class="tl">1.0</text><line x1="96.7" y1="353.4" x2="98.9" y2="353.4" stroke="#777" stroke-width="0.5"/><text transform="translate(94.6,353.4) rotate(-90)" class="tl">0.5</text><line x1="96.7" y1="370.2" x2="98.9" y2="370.2" stroke="#777" stroke-width="0.5"/><text transform="translate(94.6,370.2) rotate(-90)" class="tl">0.0</text><text transform="translate(85.1,321.85) rotate(-90)" class="yt">Expression - log<tspan font-size="2.6" dy="0.8">2</tspan><tspan dy="-0.8">(TPM + 1)</tspan></text><line x1="127.25" y1="374.4" x2="127.25" y2="376" stroke="#777" stroke-width="0.5"/><text x="127.25" y="383.1" class="xl">LUAD</text><text x="127.25" y="386.8" class="xl2">(num(T)=483; num(N)=347)</text><text x="125.8" y="393.7" class="nm">AQP11</text><line x1="118.65" y1="348.1" x2="118.65" y2="363.2" stroke="#888" stroke-width="0.35"/><line x1="115.35" y1="363.2" x2="121.95" y2="363.2" stroke="#666" stroke-width="0.45"/><rect x="111.4" y="369.75" width="14.5" height="1.2" fill="#666"/><rect x="111.4" y="331.1" width="14.5" height="17" fill="#f5565b" stroke="#b8505a" stroke-width="0.4"/><line x1="111.4" y1="341.1" x2="125.9" y2="341.1" stroke="#6a1414" stroke-width="0.8"/><line x1="136" y1="321.8" x2="136" y2="341.1" stroke="#888" stroke-width="0.35"/><line x1="132.7" y1="321.8" x2="139.3" y2="321.8" stroke="#666" stroke-width="0.45"/><line x1="136" y1="353.4" x2="136" y2="365" stroke="#888" stroke-width="0.35"/><line x1="132.7" y1="365" x2="139.3" y2="365" stroke="#666" stroke-width="0.45"/><rect x="128.9" y="369.75" width="14.2" height="1.2" fill="#666"/><rect x="128.9" y="341.1" width="14.2" height="12.3" fill="#7a7a7a" stroke="#555" stroke-width="0.4"/><line x1="128.9" y1="346.9" x2="143.1" y2="346.9" stroke="#1e1e1e" stroke-width="0.8"/><g fill="none" stroke="#111" stroke-opacity="0.6" stroke-width="0.9" stroke-linecap="round"><path d="M116.9 348.6h0M119.2 355.0h0M118.8 343.7h0M118.3 359.5h0M118.1 338.3h0M119.2 361.1h0M119.3 325.9h0M119.8 317.1h0M119.6 357.4h0M118.0 334.9h0M117.9 362.3h0M117.3 316.6h0M118.2 332.4h0M117.3 339.6h0M116.8 353.3h0M118.7 336.0h0M117.9 352.1h0M118.9 326.5h0M118.3 319.5h0M119.0 337.0h0M118.7 358.7h0M117.5 331.2h0M117.0 358.0h0M117.3 341.5h0M118.6 333.0h0M119.2 361.3h0M117.4 338.2h0M118.7 342.5h0M120.2 333.7h0M117.9 339.9h0M120.5 353.3h0M117.8 361.1h0M117.8 334.1h0M116.4 357.3h0M118.1 343.0h0M118.3 351.2h0M119.2 336.8h0M119.4 309.8h0M119.4 324.4h0M120.7 338.5h0M118.5 329.1h0M119.8 342.5h0M117.4 357.8h0M117.6 333.6h0M116.8 356.6h0M120.0 327.6h0M117.6 346.7h0M119.1 332.5h0M118.9 345.7h0M117.5 336.2h0M117.4 341.5h0M117.8 360.9h0M118.6 356.5h0M119.7 336.6h0M118.3 334.0h0M119.4 353.5h0M119.2 322.8h0M119.2 344.0h0M120.0 350.5h0M117.7 332.0h0M119.2 331.5h0M118.7 323.2h0M119.7 346.2h0M118.3 318.0h0M116.4 312.7h0M119.7 326.5h0M118.8 338.7h0M116.7 317.0h0M117.7 299.2h0M120.0 356.8h0M120.2 357.2h0M120.2 342.4h0M118.4 344.1h0M119.0 336.6h0M119.8 306.1h0M119.7 331.7h0M117.9 313.3h0M117.7 346.8h0M119.9 327.2h0M117.8 324.6h0M120.1 346.6h0M119.4 342.2h0M118.4 336.6h0M116.5 323.7h0M117.6 348.4h0M120.2 335.2h0M119.1 345.4h0M117.3 318.6h0M119.3 341.4h0M116.5 341.4h0M119.1 347.5h0M118.6 331.7h0M119.5 317.9h0M120.3 335.4h0M119.2 339.3h0M120.0 351.1h0M119.8 327.9h0M119.1 346.9h0M118.6 347.1h0M119.3 303.0h0M119.5 331.4h0M118.4 348.5h0M119.8 360.3h0M118.4 301.5h0M120.1 333.5h0M118.8 331.2h0M120.1 347.7h0M118.3 285.2h0M119.2 347.7h0M120.4 337.3h0M117.7 326.1h0M117.7 321.3h0M120.8 336.2h0M120.2 338.1h0M118.4 343.4h0M117.2 307.3h0M119.2 312.3h0M118.8 358.3h0M119.6 336.1h0M117.8 352.3h0M118.4 361.6h0M119.4 340.5h0M118.0 342.5h0M121.0 347.9h0M118.1 339.4h0M120.0 358.0h0M119.7 293.3h0M118.9 352.7h0"/><path d="M118.2 343.0h0M118.4 355.7h0M118.9 333.0h0M120.8 319.2h0M117.1 337.3h0M117.2 358.7h0M117.8 362.7h0M117.4 361.2h0M119.1 349.0h0M117.7 307.6h0M120.7 359.0h0M117.9 331.4h0M118.2 345.8h0M119.5 334.4h0M119.6 340.4h0M118.0 327.7h0M119.4 356.3h0M119.4 337.4h0M118.1 333.1h0M116.7 335.4h0M117.3 335.6h0M120.6 338.7h0M116.7 332.8h0M120.4 348.8h0M118.8 333.0h0M119.5 331.1h0M118.3 294.1h0M118.6 340.3h0M119.5 295.2h0M118.7 337.6h0M120.7 353.5h0M118.8 294.0h0M119.0 346.3h0M117.2 351.7h0M117.8 317.7h0M119.2 341.3h0M117.7 326.5h0M117.6 309.1h0M120.7 349.3h0M117.5 347.1h0M120.1 332.0h0M119.1 325.8h0M117.5 342.9h0M117.8 357.5h0M119.2 354.3h0M117.1 347.8h0M116.4 347.3h0M120.9 353.9h0M118.7 296.4h0M120.1 340.6h0M119.7 339.3h0M118.0 294.3h0M120.8 337.4h0M117.6 338.4h0M116.6 336.1h0M118.8 331.5h0M118.9 334.0h0M118.3 334.4h0M118.2 350.0h0M116.6 345.0h0M118.2 353.1h0M119.3 348.0h0M118.4 361.1h0M118.7 320.0h0M118.1 335.5h0M118.7 335.9h0M118.8 344.8h0M117.3 361.7h0M118.9 336.0h0M117.8 347.9h0M118.5 312.2h0M120.6 344.9h0M119.6 356.4h0M120.3 339.2h0M117.2 309.8h0M120.2 353.0h0M116.8 335.0h0M117.3 290.0h0M117.7 327.1h0M119.7 326.2h0M118.9 335.1h0M118.5 334.8h0M118.3 313.2h0M120.8 290.2h0M120.1 342.8h0M120.8 313.9h0M119.2 310.0h0M119.7 342.5h0M117.4 351.8h0M116.4 300.0h0M119.8 291.0h0M118.5 341.5h0M117.3 350.8h0M118.4 344.2h0M119.0 309.6h0M117.8 314.8h0M118.4 362.9h0M118.5 323.3h0M118.9 339.3h0M120.7 346.4h0M118.8 352.3h0M121.0 358.8h0M118.6 347.1h0M120.2 342.5h0M118.0 339.5h0M120.1 309.0h0M117.9 307.7h0M119.6 345.7h0M118.2 338.4h0M119.0 317.0h0M116.8 323.4h0M119.3 348.8h0M120.3 311.8h0M117.2 342.1h0M117.7 347.0h0M117.5 337.0h0M119.7 285.4h0M120.2 362.9h0M117.8 332.1h0M119.4 338.2h0M118.7 327.6h0M117.0 333.7h0M118.7 333.2h0M117.4 314.4h0M118.3 349.4h0M116.7 327.5h0M118.8 310.3h0M117.3 345.5h0"/><path d="M119.4 340.8h0M119.9 357.2h0M117.0 325.4h0M118.0 318.0h0M119.2 361.9h0M117.1 346.9h0M117.2 310.7h0M118.3 338.7h0M118.2 351.5h0M118.2 335.7h0M118.6 348.7h0M119.3 351.1h0M119.4 300.8h0M119.3 319.1h0M118.4 341.2h0M118.2 345.4h0M117.5 296.5h0M117.6 330.6h0M117.8 328.9h0M118.5 357.1h0M117.5 361.0h0M117.8 343.3h0M118.8 333.9h0M119.6 307.1h0M117.9 344.3h0M118.7 318.4h0M118.6 313.5h0M120.5 312.4h0M117.2 356.1h0M118.7 334.4h0M119.2 306.8h0M118.3 344.5h0M119.0 359.0h0M121.0 342.0h0M118.9 337.0h0M118.5 339.8h0M119.3 334.2h0M119.9 341.3h0M117.5 290.0h0M117.6 318.2h0M117.6 356.0h0M119.7 310.7h0M118.3 354.6h0M119.5 362.7h0M118.8 344.1h0M118.5 358.2h0M117.7 332.4h0M118.2 350.0h0M118.8 341.6h0M119.3 357.8h0M118.1 348.3h0M118.8 339.0h0M118.7 349.9h0M118.6 313.8h0M118.0 346.9h0M118.2 307.2h0M118.1 335.2h0M118.5 318.7h0M119.3 350.5h0M118.3 347.4h0M118.4 353.8h0M118.4 321.7h0M116.6 337.0h0M116.8 323.4h0M120.1 356.5h0M117.6 322.1h0M119.9 348.9h0M117.4 291.8h0M118.0 349.6h0M119.5 343.7h0M118.0 349.1h0M118.9 287.7h0M119.8 341.8h0M119.0 315.7h0M117.6 356.7h0M119.7 346.5h0M117.5 340.1h0M116.6 353.4h0M121.0 343.5h0M119.9 338.6h0M120.0 336.2h0M118.4 331.5h0M119.2 334.2h0M117.8 345.0h0M117.2 311.8h0M118.7 339.9h0M117.4 340.3h0M119.6 339.7h0M117.9 325.0h0M119.9 358.8h0M119.1 346.7h0M119.6 332.9h0M118.3 329.3h0M119.3 356.2h0M117.8 355.3h0M119.8 359.8h0M118.2 333.2h0M117.9 352.6h0M116.6 312.3h0M118.2 351.3h0M118.2 353.0h0M118.6 311.5h0M119.6 355.1h0M119.7 349.7h0M117.8 341.3h0M118.5 347.2h0M118.4 333.5h0M119.0 333.6h0M117.7 330.2h0M118.6 297.2h0M117.4 293.6h0M118.6 314.7h0M118.4 331.8h0M118.3 344.0h0M118.3 362.8h0M117.6 306.2h0M119.1 341.8h0M117.1 310.2h0M118.1 357.2h0M118.8 359.6h0M118.3 362.8h0M117.7 331.8h0M118.8 359.1h0M118.6 353.0h0M120.0 360.5h0M117.9 344.8h0M119.8 350.9h0"/><path d="M136.9 359.4h0M135.4 326.9h0M135.6 358.2h0M135.9 322.7h0M135.3 352.5h0M137.4 344.5h0M133.7 343.4h0M136.5 349.4h0M136.2 341.5h0M134.5 351.4h0M136.6 345.1h0M137.5 337.7h0M137.3 335.3h0M135.2 354.1h0M136.8 349.0h0M137.4 321.7h0M137.4 363.5h0M136.3 334.0h0M133.7 330.8h0M134.8 324.6h0M136.5 352.6h0M136.6 329.4h0M136.4 362.5h0M136.6 348.9h0M135.7 325.5h0M137.5 342.2h0M135.3 322.5h0M135.6 364.7h0M134.6 346.7h0M135.8 343.5h0M138.0 346.6h0M136.7 364.7h0M137.2 345.2h0M136.7 352.1h0M136.9 343.4h0M136.8 328.1h0M135.3 344.0h0M135.8 357.0h0M135.7 361.0h0M136.0 352.0h0M136.0 340.7h0M134.4 339.4h0M135.0 346.6h0M136.6 343.1h0M136.5 323.3h0M137.1 361.6h0M138.3 343.8h0M136.4 347.0h0M136.0 343.9h0M136.3 352.8h0M134.6 345.4h0M136.2 341.8h0M136.4 356.3h0M136.7 346.7h0M136.9 346.1h0M135.9 342.4h0M137.6 333.8h0M136.1 337.1h0M136.6 359.4h0M135.6 348.7h0M137.5 341.1h0M135.0 352.9h0M133.7 344.6h0M136.6 327.9h0M136.5 321.9h0M135.3 357.6h0M134.7 359.3h0M136.5 326.8h0M136.9 325.6h0M134.8 358.8h0M135.7 348.3h0M136.2 343.8h0M134.6 322.7h0M136.0 343.8h0M137.6 341.1h0M134.3 356.9h0M135.7 343.6h0M135.8 352.6h0M136.8 353.7h0M135.4 349.4h0M134.9 337.8h0M135.7 351.3h0M136.5 327.5h0M137.5 350.9h0M136.1 346.1h0M137.4 350.1h0M136.3 339.9h0M135.7 354.4h0M137.4 346.2h0M136.7 364.7h0M137.0 341.5h0M135.9 324.4h0M136.4 347.8h0"/><path d="M136.3 330.7h0M133.7 356.4h0M134.7 342.2h0M137.0 352.6h0M135.4 344.6h0M135.7 336.9h0M137.0 339.0h0M134.5 364.8h0M134.9 326.9h0M135.3 353.3h0M136.6 359.9h0M136.6 341.5h0M136.3 353.7h0M137.0 346.9h0M137.0 352.0h0M136.0 321.3h0M135.5 325.4h0M135.6 327.2h0M137.4 364.2h0M135.0 336.9h0M135.9 324.6h0M135.7 339.7h0M137.3 360.5h0M136.2 344.3h0M136.4 350.4h0M137.0 339.4h0M134.9 358.4h0M135.4 341.8h0M136.5 345.9h0M137.5 349.1h0M136.0 321.0h0M136.0 342.9h0M136.0 309.0h0M134.8 359.4h0M136.2 339.4h0M135.3 351.1h0M134.3 323.2h0M136.7 325.8h0M135.3 353.9h0M136.4 335.6h0M135.1 365.0h0M134.5 342.6h0M133.7 363.2h0M135.7 359.0h0M135.0 354.8h0M136.7 356.6h0M134.8 344.8h0M135.6 351.6h0M135.0 325.6h0M136.5 347.7h0M135.7 346.7h0M135.6 350.3h0M137.5 324.1h0M135.5 345.8h0M136.2 339.9h0M135.8 362.4h0M134.5 337.4h0M135.7 325.2h0M134.3 350.6h0M135.1 323.2h0M135.8 351.4h0M135.8 351.9h0M134.4 351.3h0M134.1 352.3h0M136.3 351.2h0M135.9 347.6h0M138.3 345.1h0M135.4 326.0h0M136.7 343.1h0M135.5 347.8h0M136.4 352.5h0M136.3 346.0h0M138.2 350.7h0M136.0 352.3h0M135.6 349.3h0M135.4 335.9h0M135.5 334.8h0M135.1 350.1h0M136.5 353.1h0M135.1 356.0h0M137.1 352.0h0M136.7 360.8h0M136.6 350.9h0M135.6 342.2h0M134.4 347.1h0M137.1 360.1h0M135.6 358.4h0M134.8 329.5h0M136.0 364.7h0M137.1 358.5h0M137.5 350.2h0M136.4 334.7h0M133.9 364.1h0"/><path d="M134.9 354.2h0M136.6 357.5h0M135.6 350.9h0M137.6 361.4h0M136.0 338.2h0M136.3 353.3h0M135.0 337.7h0M136.2 330.0h0M134.5 359.4h0M136.7 347.0h0M135.2 345.2h0M134.3 343.7h0M137.0 342.6h0M136.5 336.0h0M135.9 344.0h0M135.6 357.7h0M136.7 360.1h0M135.9 336.5h0M135.4 350.0h0M134.9 364.3h0M136.7 342.1h0M136.8 359.3h0M136.5 343.0h0M136.7 352.4h0M137.4 359.0h0M133.9 350.4h0M135.2 348.6h0M136.8 346.1h0M136.3 353.3h0M136.9 329.8h0M135.8 347.1h0M137.8 341.3h0M137.1 348.4h0M138.3 351.1h0M136.2 343.5h0M135.6 345.9h0M136.3 347.4h0M134.6 328.0h0M136.2 353.4h0M136.6 350.1h0M135.2 336.9h0M138.0 349.5h0M136.9 348.5h0M135.2 325.0h0M136.8 335.9h0M136.3 348.9h0M136.7 360.5h0M135.0 344.4h0M135.4 342.6h0M135.9 343.8h0M136.2 347.8h0M134.8 351.1h0M137.6 326.0h0M136.3 350.5h0M136.4 332.4h0M137.2 324.2h0M136.0 364.4h0M135.9 341.7h0M137.0 363.5h0M134.6 345.1h0M138.3 361.4h0M135.1 329.7h0M135.9 354.8h0M136.2 352.0h0M135.2 360.6h0M138.3 350.6h0M136.8 353.2h0M137.5 362.0h0M135.0 348.3h0M137.3 326.7h0M135.6 356.8h0M136.5 334.2h0M136.0 352.5h0M136.3 343.8h0M137.0 328.3h0M135.9 346.0h0M135.6 351.2h0M136.8 359.8h0M134.7 334.0h0M135.0 338.4h0M137.4 338.9h0M136.0 359.6h0M136.4 343.6h0M135.8 327.4h0M137.3 341.8h0M136.7 349.1h0M136.9 341.5h0M134.6 352.9h0M135.8 329.2h0M136.0 344.4h0M135.0 324.4h0M135.0 350.3h0"/></g></g><g><rect x="180" y="269.3" width="56.3" height="105.1" fill="none" stroke="#999" stroke-width="0.8"/><line x1="177.8" y1="271.1" x2="180" y2="271.1" stroke="#777" stroke-width="0.5"/><text transform="translate(175.7,271.1) rotate(-90)" class="tl">4</text><line x1="177.8" y1="296" x2="180" y2="296" stroke="#777" stroke-width="0.5"/><text transform="translate(175.7,296) rotate(-90)" class="tl">3</text><line x1="177.8" y1="320.8" x2="180" y2="320.8" stroke="#777" stroke-width="0.5"/><text transform="translate(175.7,320.8) rotate(-90)" class="tl">2</text><line x1="177.8" y1="345.6" x2="180" y2="345.6" stroke="#777" stroke-width="0.5"/><text transform="translate(175.7,345.6) rotate(-90)" class="tl">1</text><line x1="177.8" y1="370.3" x2="180" y2="370.3" stroke="#777" stroke-width="0.5"/><text transform="translate(175.7,370.3) rotate(-90)" class="tl">0</text><text transform="translate(166.2,321.85) rotate(-90)" class="yt">Expression - log<tspan font-size="2.6" dy="0.8">2</tspan><tspan dy="-0.8">(TPM + 1)</tspan></text><line x1="208.15" y1="374.4" x2="208.15" y2="376" stroke="#777" stroke-width="0.5"/><text x="208.15" y="383.1" class="xl">LUAD</text><text x="208.15" y="386.8" class="xl2">(num(T)=483; num(N)=347)</text><text x="211" y="393.2" class="nm">AQP12A</text><rect x="192" y="369.5" width="14.4" height="1.1" fill="#2a1010" stroke="#3a1515" stroke-width="0.4"/><line x1="192" y1="370" x2="206.4" y2="370" stroke="#000" stroke-width="0.8"/><rect x="209.8" y="369.6" width="13.9" height="1" fill="#333" stroke="#111" stroke-width="0.4"/><line x1="209.8" y1="370.1" x2="223.7" y2="370.1" stroke="#000" stroke-width="0.8"/><g fill="none" stroke="#111" stroke-opacity="0.6" stroke-width="0.9" stroke-linecap="round"><path d="M200.0 363.6h0M197.5 364.8h0M200.1 366.6h0M199.7 368.1h0M200.0 369.0h0M198.9 370.0h0M197.6 369.6h0M199.2 348.0h0M199.5 363.8h0M199.8 368.5h0M200.8 367.9h0M199.6 367.2h0M199.2 359.4h0M199.1 369.7h0M198.9 368.7h0M199.8 369.1h0M196.9 364.2h0M198.7 368.1h0M200.6 368.9h0M200.5 366.6h0M199.3 367.9h0M197.7 366.6h0M198.9 364.6h0M199.2 278.1h0M198.5 360.5h0"/><path d="M199.9 363.1h0M199.8 357.0h0M199.5 340.5h0M199.5 363.5h0M199.1 365.3h0M199.8 366.6h0M199.3 363.9h0M199.2 366.6h0M200.1 368.0h0M198.3 369.5h0M201.5 365.0h0M200.0 359.3h0M200.4 365.9h0M199.6 359.1h0M199.7 298.3h0M198.9 369.7h0M198.8 361.6h0M199.3 366.9h0M201.0 363.7h0M199.2 369.0h0M200.4 366.5h0M199.0 366.8h0M198.1 359.4h0M198.9 361.1h0M198.6 363.5h0"/><path d="M199.7 369.7h0M199.3 364.7h0M198.8 367.7h0M199.8 361.8h0M198.9 367.9h0M199.7 364.8h0M198.2 368.8h0M199.0 359.4h0M198.7 328.2h0M197.3 367.7h0M199.5 367.1h0M198.0 358.6h0M199.8 363.8h0M198.5 366.5h0M197.8 367.1h0M199.2 368.1h0M200.4 367.8h0M198.8 356.0h0M199.7 368.6h0M200.0 366.6h0M200.1 365.5h0M200.6 364.6h0M198.7 366.8h0M198.1 369.8h0"/><path d="M216.2 361.3h0M216.5 365.7h0M215.8 369.8h0M216.4 359.1h0M216.8 364.5h0M215.7 364.9h0M215.4 366.7h0M216.1 366.9h0M216.0 368.9h0M216.0 369.6h0M216.6 358.2h0M215.3 358.1h0M217.1 351.0h0M216.1 365.3h0M216.7 364.3h0M217.6 365.7h0"/><path d="M217.5 356.8h0M216.4 359.2h0M218.7 366.0h0M216.4 364.2h0M216.3 365.9h0M217.3 365.6h0M218.2 366.3h0M217.6 369.9h0M217.5 365.9h0M217.5 369.3h0M216.5 363.1h0M216.9 368.9h0M216.0 368.9h0M215.2 369.6h0M216.2 362.3h0M215.8 367.6h0"/><path d="M216.3 365.8h0M217.4 365.7h0M218.7 369.7h0M216.1 369.7h0M215.6 367.0h0M215.7 367.1h0M217.1 356.5h0M217.2 366.0h0M217.4 366.8h0M217.2 364.1h0M216.4 368.4h0M216.4 366.5h0M216.2 368.1h0M216.0 368.4h0M216.6 357.8h0"/></g></g><g><rect x="260.6" y="269.3" width="56.7" height="105.1" fill="none" stroke="#999" stroke-width="0.8"/><line x1="258.4" y1="277.2" x2="260.6" y2="277.2" stroke="#777" stroke-width="0.5"/><text transform="translate(256.3,277.2) rotate(-90)" class="tl">8</text><line x1="258.4" y1="300.2" x2="260.6" y2="300.2" stroke="#777" stroke-width="0.5"/><text transform="translate(256.3,300.2) rotate(-90)" class="tl">6</text><line x1="258.4" y1="323.4" x2="260.6" y2="323.4" stroke="#777" stroke-width="0.5"/><text transform="translate(256.3,323.4) rotate(-90)" class="tl">4</text><line x1="258.4" y1="346.6" x2="260.6" y2="346.6" stroke="#777" stroke-width="0.5"/><text transform="translate(256.3,346.6) rotate(-90)" class="tl">2</text><line x1="258.4" y1="369.8" x2="260.6" y2="369.8" stroke="#777" stroke-width="0.5"/><text transform="translate(256.3,369.8) rotate(-90)" class="tl">0</text><text transform="translate(246.8,321.85) rotate(-90)" class="yt">Expression - log<tspan font-size="2.6" dy="0.8">2</tspan><tspan dy="-0.8">(TPM + 1)</tspan></text><line x1="288.95" y1="374.4" x2="288.95" y2="376" stroke="#777" stroke-width="0.5"/><text x="288.95" y="383.1" class="xl">LUAD</text><text x="288.95" y="386.8" class="xl2">(num(T)=483; num(N)=347)</text><text x="290.2" y="393.3" class="nm">AQP12B</text><rect x="272.8" y="369.4" width="14.3" height="1.3" fill="#151515" stroke="#111" stroke-width="0.4"/><line x1="272.8" y1="370" x2="287.1" y2="370" stroke="#000" stroke-width="0.8"/><rect x="290.5" y="369.5" width="14.3" height="1.2" fill="#151515" stroke="#111" stroke-width="0.4"/><line x1="290.5" y1="370" x2="304.8" y2="370" stroke="#000" stroke-width="0.8"/><g fill="none" stroke="#111" stroke-opacity="0.6" stroke-width="0.9" stroke-linecap="round"><path d="M279.8 365.1h0M280.3 364.7h0M279.9 365.5h0M279.4 369.5h0M281.4 368.4h0M279.0 362.5h0M280.4 369.0h0M280.3 312.5h0M280.0 358.7h0M280.7 360.2h0M279.7 339.0h0M282.1 366.0h0M280.3 368.5h0M280.2 352.5h0M280.4 343.7h0M279.3 369.6h0M280.0 366.4h0M281.5 368.7h0M279.5 303.5h0M280.0 324.8h0M280.2 363.2h0M280.4 367.9h0M281.7 367.5h0M279.3 365.5h0M279.2 361.8h0"/><path d="M280.6 363.5h0M277.8 366.1h0M279.4 369.8h0M278.6 368.2h0M280.7 367.4h0M280.0 369.0h0M281.3 369.0h0M280.6 365.2h0M279.7 365.2h0M279.2 365.3h0M279.8 363.7h0M280.0 368.6h0M279.9 368.4h0M279.8 363.5h0M280.4 369.5h0M280.1 366.4h0M279.1 357.8h0M280.7 363.2h0M277.7 364.4h0M279.3 369.6h0M280.2 367.0h0M281.6 363.0h0M279.7 357.0h0M280.3 361.9h0M278.6 368.4h0"/><path d="M279.6 365.4h0M280.5 368.0h0M281.2 369.2h0M279.5 362.3h0M280.3 366.6h0M280.1 369.5h0M279.9 357.6h0M279.4 368.3h0M280.7 367.2h0M277.8 368.6h0M278.6 365.1h0M282.3 364.4h0M279.6 365.7h0M280.0 277.6h0M279.5 363.8h0M280.5 362.0h0M280.0 343.5h0M280.5 365.3h0M279.3 367.0h0M281.2 369.5h0M280.3 369.2h0M278.7 369.9h0M280.4 331.0h0M279.8 357.1h0"/><path d="M297.3 367.4h0M297.8 365.0h0M296.2 366.5h0M296.7 369.7h0M296.1 366.0h0M297.6 364.5h0M297.2 363.7h0M297.2 364.8h0M297.3 366.1h0M299.1 364.4h0M298.2 364.3h0M298.1 362.4h0M297.5 366.3h0M296.7 356.2h0M297.0 360.5h0M297.7 365.5h0"/><path d="M299.7 356.7h0M295.5 369.8h0M297.5 364.7h0M297.4 369.9h0M297.1 366.1h0M296.6 369.0h0M297.2 365.6h0M299.1 356.4h0M298.0 366.6h0M299.8 366.8h0M297.0 367.4h0M296.1 366.9h0M297.4 367.1h0M297.6 352.0h0M299.2 360.1h0M297.1 366.9h0"/><path d="M297.2 364.1h0M298.1 362.7h0M297.4 362.2h0M297.5 366.2h0M296.8 369.0h0M296.3 367.9h0M296.6 356.8h0M297.6 368.0h0M298.1 365.7h0M299.1 367.6h0M298.4 368.3h0M297.1 364.4h0M297.3 363.0h0M298.0 367.3h0M296.4 356.6h0"/></g></g>
</svg></body></html>
